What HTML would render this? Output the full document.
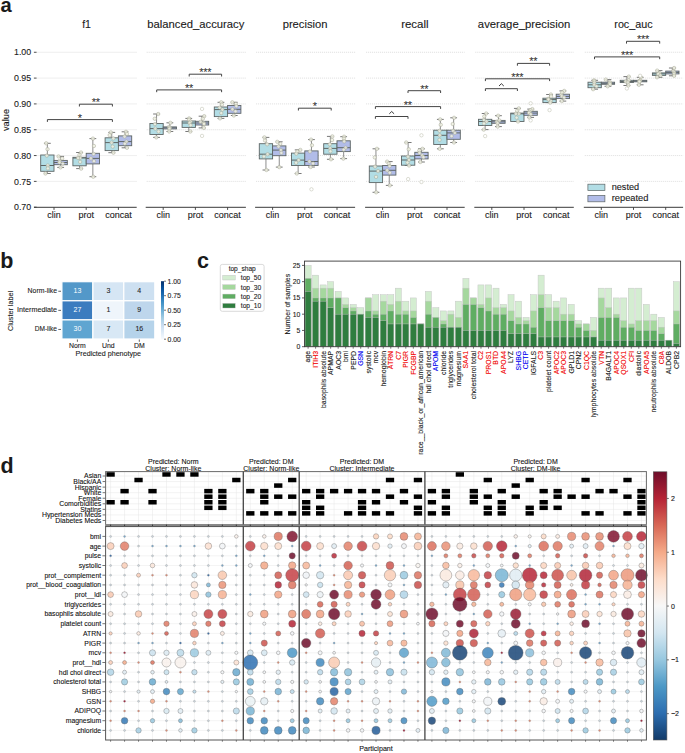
<!DOCTYPE html>
<html><head><meta charset="utf-8"><style>
html,body{margin:0;padding:0;background:#ffffff;overflow:hidden;}
svg{display:block;}
text{font-family:"Liberation Sans",sans-serif;stroke-linejoin:round;}
</style></head><body>
<svg width="685" height="753" viewBox="0 0 685 753">
<rect width="685" height="753" fill="#ffffff"/>
<text x="0.5" y="12" font-size="20.8" text-anchor="start" fill="#1a1a1a" font-weight="bold" textLength="11.2" lengthAdjust="spacingAndGlyphs">a</text>
<line x1="33.9" y1="52.28" x2="36.6" y2="52.28" stroke="#3a3a3a" stroke-width="0.9" />
<text x="31.2" y="55.48" font-size="8.9" text-anchor="end" fill="#1a1a1a" stroke="#1a1a1a" stroke-width="0.1" textLength="17.2" lengthAdjust="spacingAndGlyphs">1.00</text>
<line x1="33.9" y1="78.1" x2="36.6" y2="78.1" stroke="#3a3a3a" stroke-width="0.9" />
<text x="31.2" y="81.3" font-size="8.9" text-anchor="end" fill="#1a1a1a" stroke="#1a1a1a" stroke-width="0.1" textLength="17.2" lengthAdjust="spacingAndGlyphs">0.95</text>
<line x1="33.9" y1="103.92" x2="36.6" y2="103.92" stroke="#3a3a3a" stroke-width="0.9" />
<text x="31.2" y="107.12" font-size="8.9" text-anchor="end" fill="#1a1a1a" stroke="#1a1a1a" stroke-width="0.1" textLength="17.2" lengthAdjust="spacingAndGlyphs">0.90</text>
<line x1="33.9" y1="129.74" x2="36.6" y2="129.74" stroke="#3a3a3a" stroke-width="0.9" />
<text x="31.2" y="132.94" font-size="8.9" text-anchor="end" fill="#1a1a1a" stroke="#1a1a1a" stroke-width="0.1" textLength="17.2" lengthAdjust="spacingAndGlyphs">0.85</text>
<line x1="33.9" y1="155.56" x2="36.6" y2="155.56" stroke="#3a3a3a" stroke-width="0.9" />
<text x="31.2" y="158.76" font-size="8.9" text-anchor="end" fill="#1a1a1a" stroke="#1a1a1a" stroke-width="0.1" textLength="17.2" lengthAdjust="spacingAndGlyphs">0.80</text>
<line x1="33.9" y1="181.38" x2="36.6" y2="181.38" stroke="#3a3a3a" stroke-width="0.9" />
<text x="31.2" y="184.58" font-size="8.9" text-anchor="end" fill="#1a1a1a" stroke="#1a1a1a" stroke-width="0.1" textLength="17.2" lengthAdjust="spacingAndGlyphs">0.75</text>
<line x1="33.9" y1="207.2" x2="36.6" y2="207.2" stroke="#3a3a3a" stroke-width="0.9" />
<text x="31.2" y="210.4" font-size="8.9" text-anchor="end" fill="#1a1a1a" stroke="#1a1a1a" stroke-width="0.1" textLength="17.2" lengthAdjust="spacingAndGlyphs">0.70</text>
<text x="8.5" y="120" font-size="9" text-anchor="middle" fill="#1a1a1a" stroke="#1a1a1a" stroke-width="0.1" transform="rotate(-90 8.5 120)" textLength="22" lengthAdjust="spacingAndGlyphs">value</text>
<line x1="37.5" y1="52.28" x2="136.7" y2="52.28" stroke="#d6d6d6" stroke-width="0.8" stroke-dasharray="1 1"/>
<line x1="37.5" y1="78.1" x2="136.7" y2="78.1" stroke="#d6d6d6" stroke-width="0.8" stroke-dasharray="1 1"/>
<line x1="37.5" y1="103.92" x2="136.7" y2="103.92" stroke="#d6d6d6" stroke-width="0.8" stroke-dasharray="1 1"/>
<line x1="37.5" y1="129.74" x2="136.7" y2="129.74" stroke="#d6d6d6" stroke-width="0.8" stroke-dasharray="1 1"/>
<line x1="37.5" y1="155.56" x2="136.7" y2="155.56" stroke="#d6d6d6" stroke-width="0.8" stroke-dasharray="1 1"/>
<line x1="37.5" y1="181.38" x2="136.7" y2="181.38" stroke="#d6d6d6" stroke-width="0.8" stroke-dasharray="1 1"/>
<text x="86.6" y="28" font-size="10.3" text-anchor="middle" fill="#1a1a1a" stroke="#1a1a1a" stroke-width="0.1" textLength="8.8" lengthAdjust="spacingAndGlyphs">f1</text>
<line x1="34" y1="207.3" x2="136.7" y2="207.3" stroke="#3a3a3a" stroke-width="1" />
<line x1="54" y1="207.3" x2="54" y2="209.9" stroke="#3a3a3a" stroke-width="0.9" />
<text x="54" y="218.3" font-size="9" text-anchor="middle" fill="#1a1a1a" stroke="#1a1a1a" stroke-width="0.1" >clin</text>
<line x1="86.2" y1="207.3" x2="86.2" y2="209.9" stroke="#3a3a3a" stroke-width="0.9" />
<text x="86.2" y="218.3" font-size="9" text-anchor="middle" fill="#1a1a1a" stroke="#1a1a1a" stroke-width="0.1" >prot</text>
<line x1="118.4" y1="207.3" x2="118.4" y2="209.9" stroke="#3a3a3a" stroke-width="0.9" />
<text x="118.4" y="218.3" font-size="9" text-anchor="middle" fill="#1a1a1a" stroke="#1a1a1a" stroke-width="0.1" >concat</text>
<line x1="47.35" y1="143.3" x2="47.35" y2="155" stroke="#707070" stroke-width="0.8" />
<line x1="47.35" y1="171.3" x2="47.35" y2="173.5" stroke="#707070" stroke-width="0.8" />
<line x1="43.95" y1="143.3" x2="50.75" y2="143.3" stroke="#555" stroke-width="0.8" />
<line x1="43.95" y1="173.5" x2="50.75" y2="173.5" stroke="#555" stroke-width="0.8" />
<rect x="40.7" y="155" width="13.3" height="16.3" fill="#b2dde5" stroke="#5d6565" stroke-width="0.9"/>
<line x1="40.7" y1="165.5" x2="54" y2="165.5" stroke="#5d6565" stroke-width="1" />
<circle cx="46.2" cy="143.3" r="1.7" fill="#eef0e2" fill-opacity="0.85" stroke="#a5a795" stroke-width="0.5"/>
<circle cx="47.54" cy="149.15" r="1.7" fill="#eef0e2" fill-opacity="0.85" stroke="#a5a795" stroke-width="0.5"/>
<circle cx="46.78" cy="155.6" r="1.7" fill="#eef0e2" fill-opacity="0.85" stroke="#a5a795" stroke-width="0.5"/>
<circle cx="47.81" cy="165.5" r="1.7" fill="#eef0e2" fill-opacity="0.85" stroke="#a5a795" stroke-width="0.5"/>
<circle cx="47.9" cy="168.4" r="1.7" fill="#eef0e2" fill-opacity="0.85" stroke="#a5a795" stroke-width="0.5"/>
<circle cx="45.44" cy="173.5" r="1.7" fill="#eef0e2" fill-opacity="0.85" stroke="#a5a795" stroke-width="0.5"/>
<line x1="60.65" y1="156.4" x2="60.65" y2="160.4" stroke="#707070" stroke-width="0.8" />
<line x1="60.65" y1="164.7" x2="60.65" y2="167.4" stroke="#707070" stroke-width="0.8" />
<line x1="57.25" y1="156.4" x2="64.05" y2="156.4" stroke="#555" stroke-width="0.8" />
<line x1="57.25" y1="167.4" x2="64.05" y2="167.4" stroke="#555" stroke-width="0.8" />
<rect x="54" y="160.4" width="13.3" height="4.3" fill="#b1bce8" stroke="#5d6565" stroke-width="0.9"/>
<line x1="54" y1="162.5" x2="67.3" y2="162.5" stroke="#5d6565" stroke-width="1" />
<circle cx="58.51" cy="156.4" r="1.7" fill="#eef0e2" fill-opacity="0.85" stroke="#a5a795" stroke-width="0.5"/>
<circle cx="62.13" cy="158.4" r="1.7" fill="#eef0e2" fill-opacity="0.85" stroke="#a5a795" stroke-width="0.5"/>
<circle cx="59.59" cy="161" r="1.7" fill="#eef0e2" fill-opacity="0.85" stroke="#a5a795" stroke-width="0.5"/>
<circle cx="59.48" cy="162.5" r="1.7" fill="#eef0e2" fill-opacity="0.85" stroke="#a5a795" stroke-width="0.5"/>
<circle cx="62.83" cy="163.6" r="1.7" fill="#eef0e2" fill-opacity="0.85" stroke="#a5a795" stroke-width="0.5"/>
<circle cx="60.52" cy="167.4" r="1.7" fill="#eef0e2" fill-opacity="0.85" stroke="#a5a795" stroke-width="0.5"/>
<line x1="79.55" y1="152.5" x2="79.55" y2="157.3" stroke="#707070" stroke-width="0.8" />
<line x1="79.55" y1="165.8" x2="79.55" y2="168.6" stroke="#707070" stroke-width="0.8" />
<line x1="76.15" y1="152.5" x2="82.95" y2="152.5" stroke="#555" stroke-width="0.8" />
<line x1="76.15" y1="168.6" x2="82.95" y2="168.6" stroke="#555" stroke-width="0.8" />
<rect x="72.9" y="157.3" width="13.3" height="8.5" fill="#b2dde5" stroke="#5d6565" stroke-width="0.9"/>
<line x1="72.9" y1="158" x2="86.2" y2="158" stroke="#5d6565" stroke-width="1" />
<circle cx="81.03" cy="152.5" r="1.7" fill="#eef0e2" fill-opacity="0.85" stroke="#a5a795" stroke-width="0.5"/>
<circle cx="79.45" cy="154.9" r="1.7" fill="#eef0e2" fill-opacity="0.85" stroke="#a5a795" stroke-width="0.5"/>
<circle cx="80.16" cy="157.9" r="1.7" fill="#eef0e2" fill-opacity="0.85" stroke="#a5a795" stroke-width="0.5"/>
<circle cx="78.01" cy="158" r="1.7" fill="#eef0e2" fill-opacity="0.85" stroke="#a5a795" stroke-width="0.5"/>
<circle cx="80.14" cy="161.9" r="1.7" fill="#eef0e2" fill-opacity="0.85" stroke="#a5a795" stroke-width="0.5"/>
<circle cx="81.17" cy="168.6" r="1.7" fill="#eef0e2" fill-opacity="0.85" stroke="#a5a795" stroke-width="0.5"/>
<line x1="92.85" y1="138.6" x2="92.85" y2="153.3" stroke="#707070" stroke-width="0.8" />
<line x1="92.85" y1="163.9" x2="92.85" y2="176.7" stroke="#707070" stroke-width="0.8" />
<line x1="89.45" y1="138.6" x2="96.25" y2="138.6" stroke="#555" stroke-width="0.8" />
<line x1="89.45" y1="176.7" x2="96.25" y2="176.7" stroke="#555" stroke-width="0.8" />
<rect x="86.2" y="153.3" width="13.3" height="10.6" fill="#b1bce8" stroke="#5d6565" stroke-width="0.9"/>
<line x1="86.2" y1="158.4" x2="99.5" y2="158.4" stroke="#5d6565" stroke-width="1" />
<circle cx="92.95" cy="138.6" r="1.7" fill="#eef0e2" fill-opacity="0.85" stroke="#a5a795" stroke-width="0.5"/>
<circle cx="93.91" cy="145.95" r="1.7" fill="#eef0e2" fill-opacity="0.85" stroke="#a5a795" stroke-width="0.5"/>
<circle cx="93.6" cy="153.9" r="1.7" fill="#eef0e2" fill-opacity="0.85" stroke="#a5a795" stroke-width="0.5"/>
<circle cx="90.93" cy="158.4" r="1.7" fill="#eef0e2" fill-opacity="0.85" stroke="#a5a795" stroke-width="0.5"/>
<circle cx="93.99" cy="161.15" r="1.7" fill="#eef0e2" fill-opacity="0.85" stroke="#a5a795" stroke-width="0.5"/>
<circle cx="93.25" cy="176.7" r="1.7" fill="#eef0e2" fill-opacity="0.85" stroke="#a5a795" stroke-width="0.5"/>
<line x1="111.75" y1="132.4" x2="111.75" y2="137.8" stroke="#707070" stroke-width="0.8" />
<line x1="111.75" y1="150.6" x2="111.75" y2="152.7" stroke="#707070" stroke-width="0.8" />
<line x1="108.35" y1="132.4" x2="115.15" y2="132.4" stroke="#555" stroke-width="0.8" />
<line x1="108.35" y1="152.7" x2="115.15" y2="152.7" stroke="#555" stroke-width="0.8" />
<rect x="105.1" y="137.8" width="13.3" height="12.8" fill="#b2dde5" stroke="#5d6565" stroke-width="0.9"/>
<line x1="105.1" y1="142.6" x2="118.4" y2="142.6" stroke="#5d6565" stroke-width="1" />
<circle cx="110.88" cy="132.4" r="1.7" fill="#eef0e2" fill-opacity="0.85" stroke="#a5a795" stroke-width="0.5"/>
<circle cx="109.69" cy="135.1" r="1.7" fill="#eef0e2" fill-opacity="0.85" stroke="#a5a795" stroke-width="0.5"/>
<circle cx="113.36" cy="138.4" r="1.7" fill="#eef0e2" fill-opacity="0.85" stroke="#a5a795" stroke-width="0.5"/>
<circle cx="111.63" cy="142.6" r="1.7" fill="#eef0e2" fill-opacity="0.85" stroke="#a5a795" stroke-width="0.5"/>
<circle cx="112.71" cy="146.6" r="1.7" fill="#eef0e2" fill-opacity="0.85" stroke="#a5a795" stroke-width="0.5"/>
<circle cx="113.42" cy="152.7" r="1.7" fill="#eef0e2" fill-opacity="0.85" stroke="#a5a795" stroke-width="0.5"/>
<line x1="125.05" y1="131.8" x2="125.05" y2="135.9" stroke="#707070" stroke-width="0.8" />
<line x1="125.05" y1="145.7" x2="125.05" y2="147.8" stroke="#707070" stroke-width="0.8" />
<line x1="121.65" y1="131.8" x2="128.45" y2="131.8" stroke="#555" stroke-width="0.8" />
<line x1="121.65" y1="147.8" x2="128.45" y2="147.8" stroke="#555" stroke-width="0.8" />
<rect x="118.4" y="135.9" width="13.3" height="9.8" fill="#b1bce8" stroke="#5d6565" stroke-width="0.9"/>
<line x1="118.4" y1="141.6" x2="131.7" y2="141.6" stroke="#5d6565" stroke-width="1" />
<circle cx="125.99" cy="131.8" r="1.7" fill="#eef0e2" fill-opacity="0.85" stroke="#a5a795" stroke-width="0.5"/>
<circle cx="126.9" cy="133.85" r="1.7" fill="#eef0e2" fill-opacity="0.85" stroke="#a5a795" stroke-width="0.5"/>
<circle cx="124.59" cy="136.5" r="1.7" fill="#eef0e2" fill-opacity="0.85" stroke="#a5a795" stroke-width="0.5"/>
<circle cx="126.37" cy="141.6" r="1.7" fill="#eef0e2" fill-opacity="0.85" stroke="#a5a795" stroke-width="0.5"/>
<circle cx="124.81" cy="143.65" r="1.7" fill="#eef0e2" fill-opacity="0.85" stroke="#a5a795" stroke-width="0.5"/>
<circle cx="126.97" cy="147.8" r="1.7" fill="#eef0e2" fill-opacity="0.85" stroke="#a5a795" stroke-width="0.5"/>
<path d="M79.4 106.5V104.2H112.4V106.5" fill="none" stroke="#444" stroke-width="1"/>
<text x="95.75" y="106.1" font-size="11" letter-spacing="-0.3" text-anchor="middle" fill="#2a2a2a">**</text>
<path d="M47.4 121.9V119.6H112.4V121.9" fill="none" stroke="#444" stroke-width="1"/>
<text x="79.75" y="121.5" font-size="11" letter-spacing="-0.3" text-anchor="middle" fill="#2a2a2a">*</text>
<line x1="146.7" y1="52.28" x2="245.9" y2="52.28" stroke="#d6d6d6" stroke-width="0.8" stroke-dasharray="1 1"/>
<line x1="146.7" y1="78.1" x2="245.9" y2="78.1" stroke="#d6d6d6" stroke-width="0.8" stroke-dasharray="1 1"/>
<line x1="146.7" y1="103.92" x2="245.9" y2="103.92" stroke="#d6d6d6" stroke-width="0.8" stroke-dasharray="1 1"/>
<line x1="146.7" y1="129.74" x2="245.9" y2="129.74" stroke="#d6d6d6" stroke-width="0.8" stroke-dasharray="1 1"/>
<line x1="146.7" y1="155.56" x2="245.9" y2="155.56" stroke="#d6d6d6" stroke-width="0.8" stroke-dasharray="1 1"/>
<line x1="146.7" y1="181.38" x2="245.9" y2="181.38" stroke="#d6d6d6" stroke-width="0.8" stroke-dasharray="1 1"/>
<text x="195.8" y="28" font-size="10.3" text-anchor="middle" fill="#1a1a1a" stroke="#1a1a1a" stroke-width="0.1" textLength="97.0" lengthAdjust="spacingAndGlyphs">balanced_accuracy</text>
<line x1="145.7" y1="207.3" x2="245.9" y2="207.3" stroke="#3a3a3a" stroke-width="1" />
<line x1="163.2" y1="207.3" x2="163.2" y2="209.9" stroke="#3a3a3a" stroke-width="0.9" />
<text x="163.2" y="218.3" font-size="9" text-anchor="middle" fill="#1a1a1a" stroke="#1a1a1a" stroke-width="0.1" >clin</text>
<line x1="195.4" y1="207.3" x2="195.4" y2="209.9" stroke="#3a3a3a" stroke-width="0.9" />
<text x="195.4" y="218.3" font-size="9" text-anchor="middle" fill="#1a1a1a" stroke="#1a1a1a" stroke-width="0.1" >prot</text>
<line x1="227.6" y1="207.3" x2="227.6" y2="209.9" stroke="#3a3a3a" stroke-width="0.9" />
<text x="227.6" y="218.3" font-size="9" text-anchor="middle" fill="#1a1a1a" stroke="#1a1a1a" stroke-width="0.1" >concat</text>
<line x1="156.55" y1="114" x2="156.55" y2="123.5" stroke="#707070" stroke-width="0.8" />
<line x1="156.55" y1="134.5" x2="156.55" y2="137.4" stroke="#707070" stroke-width="0.8" />
<line x1="153.15" y1="114" x2="159.95" y2="114" stroke="#555" stroke-width="0.8" />
<line x1="153.15" y1="137.4" x2="159.95" y2="137.4" stroke="#555" stroke-width="0.8" />
<rect x="149.9" y="123.5" width="13.3" height="11" fill="#b2dde5" stroke="#5d6565" stroke-width="0.9"/>
<line x1="149.9" y1="128.6" x2="163.2" y2="128.6" stroke="#5d6565" stroke-width="1" />
<circle cx="158.22" cy="114" r="1.7" fill="#eef0e2" fill-opacity="0.85" stroke="#a5a795" stroke-width="0.5"/>
<circle cx="154.78" cy="118.75" r="1.7" fill="#eef0e2" fill-opacity="0.85" stroke="#a5a795" stroke-width="0.5"/>
<circle cx="154.95" cy="124.1" r="1.7" fill="#eef0e2" fill-opacity="0.85" stroke="#a5a795" stroke-width="0.5"/>
<circle cx="155.3" cy="128.6" r="1.7" fill="#eef0e2" fill-opacity="0.85" stroke="#a5a795" stroke-width="0.5"/>
<circle cx="158.6" cy="131.55" r="1.7" fill="#eef0e2" fill-opacity="0.85" stroke="#a5a795" stroke-width="0.5"/>
<circle cx="156.27" cy="137.4" r="1.7" fill="#eef0e2" fill-opacity="0.85" stroke="#a5a795" stroke-width="0.5"/>
<line x1="169.85" y1="122.8" x2="169.85" y2="126.9" stroke="#707070" stroke-width="0.8" />
<line x1="169.85" y1="128.9" x2="169.85" y2="131.5" stroke="#707070" stroke-width="0.8" />
<line x1="166.45" y1="122.8" x2="173.25" y2="122.8" stroke="#555" stroke-width="0.8" />
<line x1="166.45" y1="131.5" x2="173.25" y2="131.5" stroke="#555" stroke-width="0.8" />
<rect x="163.2" y="126.9" width="13.3" height="2" fill="#b1bce8" stroke="#5d6565" stroke-width="0.9"/>
<line x1="163.2" y1="127.8" x2="176.5" y2="127.8" stroke="#5d6565" stroke-width="1" />
<circle cx="170.41" cy="122.8" r="1.7" fill="#eef0e2" fill-opacity="0.85" stroke="#a5a795" stroke-width="0.5"/>
<circle cx="168.97" cy="126.9" r="1.7" fill="#eef0e2" fill-opacity="0.85" stroke="#a5a795" stroke-width="0.5"/>
<circle cx="169.88" cy="127.8" r="1.7" fill="#eef0e2" fill-opacity="0.85" stroke="#a5a795" stroke-width="0.5"/>
<circle cx="169.35" cy="128.9" r="1.7" fill="#eef0e2" fill-opacity="0.85" stroke="#a5a795" stroke-width="0.5"/>
<circle cx="169.19" cy="131.5" r="1.7" fill="#eef0e2" fill-opacity="0.85" stroke="#a5a795" stroke-width="0.5"/>
<line x1="188.75" y1="118.4" x2="188.75" y2="121" stroke="#707070" stroke-width="0.8" />
<line x1="188.75" y1="127.4" x2="188.75" y2="131.5" stroke="#707070" stroke-width="0.8" />
<line x1="185.35" y1="118.4" x2="192.15" y2="118.4" stroke="#555" stroke-width="0.8" />
<line x1="185.35" y1="131.5" x2="192.15" y2="131.5" stroke="#555" stroke-width="0.8" />
<rect x="182.1" y="121" width="13.3" height="6.4" fill="#b2dde5" stroke="#5d6565" stroke-width="0.9"/>
<line x1="182.1" y1="123" x2="195.4" y2="123" stroke="#5d6565" stroke-width="1" />
<circle cx="189.12" cy="118.4" r="1.7" fill="#eef0e2" fill-opacity="0.85" stroke="#a5a795" stroke-width="0.5"/>
<circle cx="189.12" cy="119.7" r="1.7" fill="#eef0e2" fill-opacity="0.85" stroke="#a5a795" stroke-width="0.5"/>
<circle cx="190.53" cy="121.6" r="1.7" fill="#eef0e2" fill-opacity="0.85" stroke="#a5a795" stroke-width="0.5"/>
<circle cx="189.55" cy="123" r="1.7" fill="#eef0e2" fill-opacity="0.85" stroke="#a5a795" stroke-width="0.5"/>
<circle cx="190.64" cy="125.2" r="1.7" fill="#eef0e2" fill-opacity="0.85" stroke="#a5a795" stroke-width="0.5"/>
<circle cx="190.32" cy="131.5" r="1.7" fill="#eef0e2" fill-opacity="0.85" stroke="#a5a795" stroke-width="0.5"/>
<line x1="202.05" y1="116.2" x2="202.05" y2="121.3" stroke="#707070" stroke-width="0.8" />
<line x1="202.05" y1="125" x2="202.05" y2="127.9" stroke="#707070" stroke-width="0.8" />
<line x1="198.65" y1="116.2" x2="205.45" y2="116.2" stroke="#555" stroke-width="0.8" />
<line x1="198.65" y1="127.9" x2="205.45" y2="127.9" stroke="#555" stroke-width="0.8" />
<rect x="195.4" y="121.3" width="13.3" height="3.7" fill="#b1bce8" stroke="#5d6565" stroke-width="0.9"/>
<line x1="195.4" y1="123" x2="208.7" y2="123" stroke="#5d6565" stroke-width="1" />
<circle cx="204.21" cy="116.2" r="1.7" fill="#eef0e2" fill-opacity="0.85" stroke="#a5a795" stroke-width="0.5"/>
<circle cx="202.8" cy="118.75" r="1.7" fill="#eef0e2" fill-opacity="0.85" stroke="#a5a795" stroke-width="0.5"/>
<circle cx="200.57" cy="121.9" r="1.7" fill="#eef0e2" fill-opacity="0.85" stroke="#a5a795" stroke-width="0.5"/>
<circle cx="203.64" cy="123" r="1.7" fill="#eef0e2" fill-opacity="0.85" stroke="#a5a795" stroke-width="0.5"/>
<circle cx="204.09" cy="124" r="1.7" fill="#eef0e2" fill-opacity="0.85" stroke="#a5a795" stroke-width="0.5"/>
<circle cx="203.83" cy="127.9" r="1.7" fill="#eef0e2" fill-opacity="0.85" stroke="#a5a795" stroke-width="0.5"/>
<circle cx="202.05" cy="108.9" r="1.7" fill="#ffffff" stroke="#b8baa8" stroke-width="0.5"/>
<circle cx="202.05" cy="135.9" r="1.7" fill="#ffffff" stroke="#b8baa8" stroke-width="0.5"/>
<line x1="220.95" y1="102.3" x2="220.95" y2="107" stroke="#707070" stroke-width="0.8" />
<line x1="220.95" y1="116.6" x2="220.95" y2="118.4" stroke="#707070" stroke-width="0.8" />
<line x1="217.55" y1="102.3" x2="224.35" y2="102.3" stroke="#555" stroke-width="0.8" />
<line x1="217.55" y1="118.4" x2="224.35" y2="118.4" stroke="#555" stroke-width="0.8" />
<rect x="214.3" y="107" width="13.3" height="9.6" fill="#b2dde5" stroke="#5d6565" stroke-width="0.9"/>
<line x1="214.3" y1="109.6" x2="227.6" y2="109.6" stroke="#5d6565" stroke-width="1" />
<circle cx="221.25" cy="102.3" r="1.7" fill="#eef0e2" fill-opacity="0.85" stroke="#a5a795" stroke-width="0.5"/>
<circle cx="221.89" cy="104.65" r="1.7" fill="#eef0e2" fill-opacity="0.85" stroke="#a5a795" stroke-width="0.5"/>
<circle cx="219.68" cy="107.6" r="1.7" fill="#eef0e2" fill-opacity="0.85" stroke="#a5a795" stroke-width="0.5"/>
<circle cx="222.41" cy="109.6" r="1.7" fill="#eef0e2" fill-opacity="0.85" stroke="#a5a795" stroke-width="0.5"/>
<circle cx="221.27" cy="113.1" r="1.7" fill="#eef0e2" fill-opacity="0.85" stroke="#a5a795" stroke-width="0.5"/>
<circle cx="220" cy="118.4" r="1.7" fill="#eef0e2" fill-opacity="0.85" stroke="#a5a795" stroke-width="0.5"/>
<line x1="234.25" y1="102.3" x2="234.25" y2="105.5" stroke="#707070" stroke-width="0.8" />
<line x1="234.25" y1="113.3" x2="234.25" y2="115.5" stroke="#707070" stroke-width="0.8" />
<line x1="230.85" y1="102.3" x2="237.65" y2="102.3" stroke="#555" stroke-width="0.8" />
<line x1="230.85" y1="115.5" x2="237.65" y2="115.5" stroke="#555" stroke-width="0.8" />
<rect x="227.6" y="105.5" width="13.3" height="7.8" fill="#b1bce8" stroke="#5d6565" stroke-width="0.9"/>
<line x1="227.6" y1="109.3" x2="240.9" y2="109.3" stroke="#5d6565" stroke-width="1" />
<circle cx="232.33" cy="102.3" r="1.7" fill="#eef0e2" fill-opacity="0.85" stroke="#a5a795" stroke-width="0.5"/>
<circle cx="235.81" cy="103.9" r="1.7" fill="#eef0e2" fill-opacity="0.85" stroke="#a5a795" stroke-width="0.5"/>
<circle cx="236.41" cy="106.1" r="1.7" fill="#eef0e2" fill-opacity="0.85" stroke="#a5a795" stroke-width="0.5"/>
<circle cx="232.44" cy="109.3" r="1.7" fill="#eef0e2" fill-opacity="0.85" stroke="#a5a795" stroke-width="0.5"/>
<circle cx="235.57" cy="111.3" r="1.7" fill="#eef0e2" fill-opacity="0.85" stroke="#a5a795" stroke-width="0.5"/>
<circle cx="233.86" cy="115.5" r="1.7" fill="#eef0e2" fill-opacity="0.85" stroke="#a5a795" stroke-width="0.5"/>
<path d="M189.2 76.5V74.2H221.6V76.5" fill="none" stroke="#444" stroke-width="1"/>
<text x="205.25" y="76.1" font-size="11" letter-spacing="-0.3" text-anchor="middle" fill="#2a2a2a">***</text>
<path d="M156.7 92.2V89.9H221.6V92.2" fill="none" stroke="#444" stroke-width="1"/>
<text x="189" y="91.8" font-size="11" letter-spacing="-0.3" text-anchor="middle" fill="#2a2a2a">**</text>
<line x1="256.1" y1="52.28" x2="355.1" y2="52.28" stroke="#d6d6d6" stroke-width="0.8" stroke-dasharray="1 1"/>
<line x1="256.1" y1="78.1" x2="355.1" y2="78.1" stroke="#d6d6d6" stroke-width="0.8" stroke-dasharray="1 1"/>
<line x1="256.1" y1="103.92" x2="355.1" y2="103.92" stroke="#d6d6d6" stroke-width="0.8" stroke-dasharray="1 1"/>
<line x1="256.1" y1="129.74" x2="355.1" y2="129.74" stroke="#d6d6d6" stroke-width="0.8" stroke-dasharray="1 1"/>
<line x1="256.1" y1="155.56" x2="355.1" y2="155.56" stroke="#d6d6d6" stroke-width="0.8" stroke-dasharray="1 1"/>
<line x1="256.1" y1="181.38" x2="355.1" y2="181.38" stroke="#d6d6d6" stroke-width="0.8" stroke-dasharray="1 1"/>
<text x="305.1" y="28" font-size="10.3" text-anchor="middle" fill="#1a1a1a" stroke="#1a1a1a" stroke-width="0.1" textLength="44.9" lengthAdjust="spacingAndGlyphs">precision</text>
<line x1="255.1" y1="207.3" x2="355.1" y2="207.3" stroke="#3a3a3a" stroke-width="1" />
<line x1="272.6" y1="207.3" x2="272.6" y2="209.9" stroke="#3a3a3a" stroke-width="0.9" />
<text x="272.6" y="218.3" font-size="9" text-anchor="middle" fill="#1a1a1a" stroke="#1a1a1a" stroke-width="0.1" >clin</text>
<line x1="304.8" y1="207.3" x2="304.8" y2="209.9" stroke="#3a3a3a" stroke-width="0.9" />
<text x="304.8" y="218.3" font-size="9" text-anchor="middle" fill="#1a1a1a" stroke="#1a1a1a" stroke-width="0.1" >prot</text>
<line x1="337" y1="207.3" x2="337" y2="209.9" stroke="#3a3a3a" stroke-width="0.9" />
<text x="337" y="218.3" font-size="9" text-anchor="middle" fill="#1a1a1a" stroke="#1a1a1a" stroke-width="0.1" >concat</text>
<line x1="265.95" y1="137.4" x2="265.95" y2="143.7" stroke="#707070" stroke-width="0.8" />
<line x1="265.95" y1="158.9" x2="265.95" y2="170" stroke="#707070" stroke-width="0.8" />
<line x1="262.55" y1="137.4" x2="269.35" y2="137.4" stroke="#555" stroke-width="0.8" />
<line x1="262.55" y1="170" x2="269.35" y2="170" stroke="#555" stroke-width="0.8" />
<rect x="259.3" y="143.7" width="13.3" height="15.2" fill="#b2dde5" stroke="#5d6565" stroke-width="0.9"/>
<line x1="259.3" y1="154.2" x2="272.6" y2="154.2" stroke="#5d6565" stroke-width="1" />
<circle cx="264.41" cy="137.4" r="1.7" fill="#eef0e2" fill-opacity="0.85" stroke="#a5a795" stroke-width="0.5"/>
<circle cx="265.04" cy="140.55" r="1.7" fill="#eef0e2" fill-opacity="0.85" stroke="#a5a795" stroke-width="0.5"/>
<circle cx="267.13" cy="144.3" r="1.7" fill="#eef0e2" fill-opacity="0.85" stroke="#a5a795" stroke-width="0.5"/>
<circle cx="267.59" cy="154.2" r="1.7" fill="#eef0e2" fill-opacity="0.85" stroke="#a5a795" stroke-width="0.5"/>
<circle cx="263.94" cy="156.55" r="1.7" fill="#eef0e2" fill-opacity="0.85" stroke="#a5a795" stroke-width="0.5"/>
<circle cx="266.45" cy="170" r="1.7" fill="#eef0e2" fill-opacity="0.85" stroke="#a5a795" stroke-width="0.5"/>
<line x1="279.25" y1="141.8" x2="279.25" y2="145.9" stroke="#707070" stroke-width="0.8" />
<line x1="279.25" y1="155.7" x2="279.25" y2="167.1" stroke="#707070" stroke-width="0.8" />
<line x1="275.85" y1="141.8" x2="282.65" y2="141.8" stroke="#555" stroke-width="0.8" />
<line x1="275.85" y1="167.1" x2="282.65" y2="167.1" stroke="#555" stroke-width="0.8" />
<rect x="272.6" y="145.9" width="13.3" height="9.8" fill="#b1bce8" stroke="#5d6565" stroke-width="0.9"/>
<line x1="272.6" y1="150.1" x2="285.9" y2="150.1" stroke="#5d6565" stroke-width="1" />
<circle cx="277.25" cy="141.8" r="1.7" fill="#eef0e2" fill-opacity="0.85" stroke="#a5a795" stroke-width="0.5"/>
<circle cx="280.21" cy="143.85" r="1.7" fill="#eef0e2" fill-opacity="0.85" stroke="#a5a795" stroke-width="0.5"/>
<circle cx="278.51" cy="146.5" r="1.7" fill="#eef0e2" fill-opacity="0.85" stroke="#a5a795" stroke-width="0.5"/>
<circle cx="280.93" cy="150.1" r="1.7" fill="#eef0e2" fill-opacity="0.85" stroke="#a5a795" stroke-width="0.5"/>
<circle cx="281.36" cy="152.9" r="1.7" fill="#eef0e2" fill-opacity="0.85" stroke="#a5a795" stroke-width="0.5"/>
<circle cx="279.27" cy="167.1" r="1.7" fill="#eef0e2" fill-opacity="0.85" stroke="#a5a795" stroke-width="0.5"/>
<line x1="298.15" y1="149.9" x2="298.15" y2="153.1" stroke="#707070" stroke-width="0.8" />
<line x1="298.15" y1="165.5" x2="298.15" y2="173.5" stroke="#707070" stroke-width="0.8" />
<line x1="294.75" y1="149.9" x2="301.55" y2="149.9" stroke="#555" stroke-width="0.8" />
<line x1="294.75" y1="173.5" x2="301.55" y2="173.5" stroke="#555" stroke-width="0.8" />
<rect x="291.5" y="153.1" width="13.3" height="12.4" fill="#b2dde5" stroke="#5d6565" stroke-width="0.9"/>
<line x1="291.5" y1="160.1" x2="304.8" y2="160.1" stroke="#5d6565" stroke-width="1" />
<circle cx="300.34" cy="149.9" r="1.7" fill="#eef0e2" fill-opacity="0.85" stroke="#a5a795" stroke-width="0.5"/>
<circle cx="297.31" cy="151.5" r="1.7" fill="#eef0e2" fill-opacity="0.85" stroke="#a5a795" stroke-width="0.5"/>
<circle cx="296.29" cy="153.7" r="1.7" fill="#eef0e2" fill-opacity="0.85" stroke="#a5a795" stroke-width="0.5"/>
<circle cx="298.59" cy="160.1" r="1.7" fill="#eef0e2" fill-opacity="0.85" stroke="#a5a795" stroke-width="0.5"/>
<circle cx="296.09" cy="162.8" r="1.7" fill="#eef0e2" fill-opacity="0.85" stroke="#a5a795" stroke-width="0.5"/>
<circle cx="296.82" cy="173.5" r="1.7" fill="#eef0e2" fill-opacity="0.85" stroke="#a5a795" stroke-width="0.5"/>
<line x1="311.45" y1="139.6" x2="311.45" y2="150.9" stroke="#707070" stroke-width="0.8" />
<line x1="311.45" y1="165.5" x2="311.45" y2="167" stroke="#707070" stroke-width="0.8" />
<line x1="308.05" y1="139.6" x2="314.85" y2="139.6" stroke="#555" stroke-width="0.8" />
<line x1="308.05" y1="167" x2="314.85" y2="167" stroke="#555" stroke-width="0.8" />
<rect x="304.8" y="150.9" width="13.3" height="14.6" fill="#b1bce8" stroke="#5d6565" stroke-width="0.9"/>
<line x1="304.8" y1="161.5" x2="318.1" y2="161.5" stroke="#5d6565" stroke-width="1" />
<circle cx="311.04" cy="139.6" r="1.7" fill="#eef0e2" fill-opacity="0.85" stroke="#a5a795" stroke-width="0.5"/>
<circle cx="311.94" cy="145.25" r="1.7" fill="#eef0e2" fill-opacity="0.85" stroke="#a5a795" stroke-width="0.5"/>
<circle cx="309.94" cy="151.5" r="1.7" fill="#eef0e2" fill-opacity="0.85" stroke="#a5a795" stroke-width="0.5"/>
<circle cx="309.44" cy="161.5" r="1.7" fill="#eef0e2" fill-opacity="0.85" stroke="#a5a795" stroke-width="0.5"/>
<circle cx="313.07" cy="163.5" r="1.7" fill="#eef0e2" fill-opacity="0.85" stroke="#a5a795" stroke-width="0.5"/>
<circle cx="310.63" cy="167" r="1.7" fill="#eef0e2" fill-opacity="0.85" stroke="#a5a795" stroke-width="0.5"/>
<circle cx="311.45" cy="189.3" r="1.7" fill="#ffffff" stroke="#b8baa8" stroke-width="0.5"/>
<line x1="330.35" y1="136.4" x2="330.35" y2="143.7" stroke="#707070" stroke-width="0.8" />
<line x1="330.35" y1="154.2" x2="330.35" y2="159.3" stroke="#707070" stroke-width="0.8" />
<line x1="326.95" y1="136.4" x2="333.75" y2="136.4" stroke="#555" stroke-width="0.8" />
<line x1="326.95" y1="159.3" x2="333.75" y2="159.3" stroke="#555" stroke-width="0.8" />
<rect x="323.7" y="143.7" width="13.3" height="10.5" fill="#b2dde5" stroke="#5d6565" stroke-width="0.9"/>
<line x1="323.7" y1="148.4" x2="337" y2="148.4" stroke="#5d6565" stroke-width="1" />
<circle cx="332.37" cy="136.4" r="1.7" fill="#eef0e2" fill-opacity="0.85" stroke="#a5a795" stroke-width="0.5"/>
<circle cx="332.1" cy="140.05" r="1.7" fill="#eef0e2" fill-opacity="0.85" stroke="#a5a795" stroke-width="0.5"/>
<circle cx="329.81" cy="144.3" r="1.7" fill="#eef0e2" fill-opacity="0.85" stroke="#a5a795" stroke-width="0.5"/>
<circle cx="330.18" cy="148.4" r="1.7" fill="#eef0e2" fill-opacity="0.85" stroke="#a5a795" stroke-width="0.5"/>
<circle cx="330.44" cy="151.3" r="1.7" fill="#eef0e2" fill-opacity="0.85" stroke="#a5a795" stroke-width="0.5"/>
<circle cx="330.98" cy="159.3" r="1.7" fill="#eef0e2" fill-opacity="0.85" stroke="#a5a795" stroke-width="0.5"/>
<line x1="343.65" y1="136.7" x2="343.65" y2="140.8" stroke="#707070" stroke-width="0.8" />
<line x1="343.65" y1="151.6" x2="343.65" y2="158.6" stroke="#707070" stroke-width="0.8" />
<line x1="340.25" y1="136.7" x2="347.05" y2="136.7" stroke="#555" stroke-width="0.8" />
<line x1="340.25" y1="158.6" x2="347.05" y2="158.6" stroke="#555" stroke-width="0.8" />
<rect x="337" y="140.8" width="13.3" height="10.8" fill="#b1bce8" stroke="#5d6565" stroke-width="0.9"/>
<line x1="337" y1="147.7" x2="350.3" y2="147.7" stroke="#5d6565" stroke-width="1" />
<circle cx="344.07" cy="136.7" r="1.7" fill="#eef0e2" fill-opacity="0.85" stroke="#a5a795" stroke-width="0.5"/>
<circle cx="343.91" cy="138.75" r="1.7" fill="#eef0e2" fill-opacity="0.85" stroke="#a5a795" stroke-width="0.5"/>
<circle cx="344.18" cy="141.4" r="1.7" fill="#eef0e2" fill-opacity="0.85" stroke="#a5a795" stroke-width="0.5"/>
<circle cx="345.59" cy="147.7" r="1.7" fill="#eef0e2" fill-opacity="0.85" stroke="#a5a795" stroke-width="0.5"/>
<circle cx="343.68" cy="149.65" r="1.7" fill="#eef0e2" fill-opacity="0.85" stroke="#a5a795" stroke-width="0.5"/>
<circle cx="343.35" cy="158.6" r="1.7" fill="#eef0e2" fill-opacity="0.85" stroke="#a5a795" stroke-width="0.5"/>
<path d="M298.4 110.5V108.2H331.2V110.5" fill="none" stroke="#444" stroke-width="1"/>
<text x="314.65" y="110.1" font-size="11" letter-spacing="-0.3" text-anchor="middle" fill="#2a2a2a">*</text>
<line x1="366.1" y1="52.28" x2="464.7" y2="52.28" stroke="#d6d6d6" stroke-width="0.8" stroke-dasharray="1 1"/>
<line x1="366.1" y1="78.1" x2="464.7" y2="78.1" stroke="#d6d6d6" stroke-width="0.8" stroke-dasharray="1 1"/>
<line x1="366.1" y1="103.92" x2="464.7" y2="103.92" stroke="#d6d6d6" stroke-width="0.8" stroke-dasharray="1 1"/>
<line x1="366.1" y1="129.74" x2="464.7" y2="129.74" stroke="#d6d6d6" stroke-width="0.8" stroke-dasharray="1 1"/>
<line x1="366.1" y1="155.56" x2="464.7" y2="155.56" stroke="#d6d6d6" stroke-width="0.8" stroke-dasharray="1 1"/>
<line x1="366.1" y1="181.38" x2="464.7" y2="181.38" stroke="#d6d6d6" stroke-width="0.8" stroke-dasharray="1 1"/>
<text x="414.9" y="28" font-size="10.3" text-anchor="middle" fill="#1a1a1a" stroke="#1a1a1a" stroke-width="0.1" textLength="27.5" lengthAdjust="spacingAndGlyphs">recall</text>
<line x1="365.1" y1="207.3" x2="464.7" y2="207.3" stroke="#3a3a3a" stroke-width="1" />
<line x1="382.6" y1="207.3" x2="382.6" y2="209.9" stroke="#3a3a3a" stroke-width="0.9" />
<text x="382.6" y="218.3" font-size="9" text-anchor="middle" fill="#1a1a1a" stroke="#1a1a1a" stroke-width="0.1" >clin</text>
<line x1="414.8" y1="207.3" x2="414.8" y2="209.9" stroke="#3a3a3a" stroke-width="0.9" />
<text x="414.8" y="218.3" font-size="9" text-anchor="middle" fill="#1a1a1a" stroke="#1a1a1a" stroke-width="0.1" >prot</text>
<line x1="447" y1="207.3" x2="447" y2="209.9" stroke="#3a3a3a" stroke-width="0.9" />
<text x="447" y="218.3" font-size="9" text-anchor="middle" fill="#1a1a1a" stroke="#1a1a1a" stroke-width="0.1" >concat</text>
<line x1="375.95" y1="148.8" x2="375.95" y2="166" stroke="#707070" stroke-width="0.8" />
<line x1="375.95" y1="182.6" x2="375.95" y2="192.3" stroke="#707070" stroke-width="0.8" />
<line x1="372.55" y1="148.8" x2="379.35" y2="148.8" stroke="#555" stroke-width="0.8" />
<line x1="372.55" y1="192.3" x2="379.35" y2="192.3" stroke="#555" stroke-width="0.8" />
<rect x="369.3" y="166" width="13.3" height="16.6" fill="#b2dde5" stroke="#5d6565" stroke-width="0.9"/>
<line x1="369.3" y1="171.1" x2="382.6" y2="171.1" stroke="#5d6565" stroke-width="1" />
<circle cx="376.92" cy="148.8" r="1.7" fill="#eef0e2" fill-opacity="0.85" stroke="#a5a795" stroke-width="0.5"/>
<circle cx="374.8" cy="157.4" r="1.7" fill="#eef0e2" fill-opacity="0.85" stroke="#a5a795" stroke-width="0.5"/>
<circle cx="375.07" cy="166.6" r="1.7" fill="#eef0e2" fill-opacity="0.85" stroke="#a5a795" stroke-width="0.5"/>
<circle cx="378.05" cy="171.1" r="1.7" fill="#eef0e2" fill-opacity="0.85" stroke="#a5a795" stroke-width="0.5"/>
<circle cx="376.04" cy="176.85" r="1.7" fill="#eef0e2" fill-opacity="0.85" stroke="#a5a795" stroke-width="0.5"/>
<circle cx="376.16" cy="192.3" r="1.7" fill="#eef0e2" fill-opacity="0.85" stroke="#a5a795" stroke-width="0.5"/>
<line x1="389.25" y1="161.6" x2="389.25" y2="165.5" stroke="#707070" stroke-width="0.8" />
<line x1="389.25" y1="175.1" x2="389.25" y2="185.4" stroke="#707070" stroke-width="0.8" />
<line x1="385.85" y1="161.6" x2="392.65" y2="161.6" stroke="#555" stroke-width="0.8" />
<line x1="385.85" y1="185.4" x2="392.65" y2="185.4" stroke="#555" stroke-width="0.8" />
<rect x="382.6" y="165.5" width="13.3" height="9.6" fill="#b1bce8" stroke="#5d6565" stroke-width="0.9"/>
<line x1="382.6" y1="170.3" x2="395.9" y2="170.3" stroke="#5d6565" stroke-width="1" />
<circle cx="387.1" cy="161.6" r="1.7" fill="#eef0e2" fill-opacity="0.85" stroke="#a5a795" stroke-width="0.5"/>
<circle cx="388.88" cy="163.55" r="1.7" fill="#eef0e2" fill-opacity="0.85" stroke="#a5a795" stroke-width="0.5"/>
<circle cx="389.6" cy="166.1" r="1.7" fill="#eef0e2" fill-opacity="0.85" stroke="#a5a795" stroke-width="0.5"/>
<circle cx="387.14" cy="170.3" r="1.7" fill="#eef0e2" fill-opacity="0.85" stroke="#a5a795" stroke-width="0.5"/>
<circle cx="389.76" cy="172.7" r="1.7" fill="#eef0e2" fill-opacity="0.85" stroke="#a5a795" stroke-width="0.5"/>
<circle cx="389.83" cy="185.4" r="1.7" fill="#eef0e2" fill-opacity="0.85" stroke="#a5a795" stroke-width="0.5"/>
<line x1="408.15" y1="142.5" x2="408.15" y2="156" stroke="#707070" stroke-width="0.8" />
<line x1="408.15" y1="165.2" x2="408.15" y2="165.5" stroke="#707070" stroke-width="0.8" />
<line x1="404.75" y1="142.5" x2="411.55" y2="142.5" stroke="#555" stroke-width="0.8" />
<line x1="404.75" y1="165.5" x2="411.55" y2="165.5" stroke="#555" stroke-width="0.8" />
<rect x="401.5" y="156" width="13.3" height="9.2" fill="#b2dde5" stroke="#5d6565" stroke-width="0.9"/>
<line x1="401.5" y1="160" x2="414.8" y2="160" stroke="#5d6565" stroke-width="1" />
<circle cx="406.21" cy="142.5" r="1.7" fill="#eef0e2" fill-opacity="0.85" stroke="#a5a795" stroke-width="0.5"/>
<circle cx="408.71" cy="149.25" r="1.7" fill="#eef0e2" fill-opacity="0.85" stroke="#a5a795" stroke-width="0.5"/>
<circle cx="408" cy="156.6" r="1.7" fill="#eef0e2" fill-opacity="0.85" stroke="#a5a795" stroke-width="0.5"/>
<circle cx="408.94" cy="160" r="1.7" fill="#eef0e2" fill-opacity="0.85" stroke="#a5a795" stroke-width="0.5"/>
<circle cx="407.5" cy="162.6" r="1.7" fill="#eef0e2" fill-opacity="0.85" stroke="#a5a795" stroke-width="0.5"/>
<circle cx="409.06" cy="165.5" r="1.7" fill="#eef0e2" fill-opacity="0.85" stroke="#a5a795" stroke-width="0.5"/>
<circle cx="408.15" cy="179.1" r="1.7" fill="#ffffff" stroke="#b8baa8" stroke-width="0.5"/>
<line x1="421.45" y1="148.8" x2="421.45" y2="152.3" stroke="#707070" stroke-width="0.8" />
<line x1="421.45" y1="158.9" x2="421.45" y2="162" stroke="#707070" stroke-width="0.8" />
<line x1="418.05" y1="148.8" x2="424.85" y2="148.8" stroke="#555" stroke-width="0.8" />
<line x1="418.05" y1="162" x2="424.85" y2="162" stroke="#555" stroke-width="0.8" />
<rect x="414.8" y="152.3" width="13.3" height="6.6" fill="#b1bce8" stroke="#5d6565" stroke-width="0.9"/>
<line x1="414.8" y1="155.5" x2="428.1" y2="155.5" stroke="#5d6565" stroke-width="1" />
<circle cx="422.5" cy="148.8" r="1.7" fill="#eef0e2" fill-opacity="0.85" stroke="#a5a795" stroke-width="0.5"/>
<circle cx="419.35" cy="150.55" r="1.7" fill="#eef0e2" fill-opacity="0.85" stroke="#a5a795" stroke-width="0.5"/>
<circle cx="419.52" cy="152.9" r="1.7" fill="#eef0e2" fill-opacity="0.85" stroke="#a5a795" stroke-width="0.5"/>
<circle cx="422.22" cy="155.5" r="1.7" fill="#eef0e2" fill-opacity="0.85" stroke="#a5a795" stroke-width="0.5"/>
<circle cx="423.49" cy="157.2" r="1.7" fill="#eef0e2" fill-opacity="0.85" stroke="#a5a795" stroke-width="0.5"/>
<circle cx="420.35" cy="162" r="1.7" fill="#eef0e2" fill-opacity="0.85" stroke="#a5a795" stroke-width="0.5"/>
<circle cx="421.45" cy="135.3" r="1.7" fill="#ffffff" stroke="#b8baa8" stroke-width="0.5"/>
<circle cx="421.45" cy="182" r="1.7" fill="#ffffff" stroke="#b8baa8" stroke-width="0.5"/>
<line x1="440.35" y1="119.4" x2="440.35" y2="130.2" stroke="#707070" stroke-width="0.8" />
<line x1="440.35" y1="144.5" x2="440.35" y2="148.8" stroke="#707070" stroke-width="0.8" />
<line x1="436.95" y1="119.4" x2="443.75" y2="119.4" stroke="#555" stroke-width="0.8" />
<line x1="436.95" y1="148.8" x2="443.75" y2="148.8" stroke="#555" stroke-width="0.8" />
<rect x="433.7" y="130.2" width="13.3" height="14.3" fill="#b2dde5" stroke="#5d6565" stroke-width="0.9"/>
<line x1="433.7" y1="135.3" x2="447" y2="135.3" stroke="#5d6565" stroke-width="1" />
<circle cx="440.16" cy="119.4" r="1.7" fill="#eef0e2" fill-opacity="0.85" stroke="#a5a795" stroke-width="0.5"/>
<circle cx="440.76" cy="124.8" r="1.7" fill="#eef0e2" fill-opacity="0.85" stroke="#a5a795" stroke-width="0.5"/>
<circle cx="439.56" cy="130.8" r="1.7" fill="#eef0e2" fill-opacity="0.85" stroke="#a5a795" stroke-width="0.5"/>
<circle cx="439.75" cy="135.3" r="1.7" fill="#eef0e2" fill-opacity="0.85" stroke="#a5a795" stroke-width="0.5"/>
<circle cx="439.53" cy="139.9" r="1.7" fill="#eef0e2" fill-opacity="0.85" stroke="#a5a795" stroke-width="0.5"/>
<circle cx="439.77" cy="148.8" r="1.7" fill="#eef0e2" fill-opacity="0.85" stroke="#a5a795" stroke-width="0.5"/>
<line x1="453.65" y1="117.8" x2="453.65" y2="130.2" stroke="#707070" stroke-width="0.8" />
<line x1="453.65" y1="139.3" x2="453.65" y2="142.5" stroke="#707070" stroke-width="0.8" />
<line x1="450.25" y1="117.8" x2="457.05" y2="117.8" stroke="#555" stroke-width="0.8" />
<line x1="450.25" y1="142.5" x2="457.05" y2="142.5" stroke="#555" stroke-width="0.8" />
<rect x="447" y="130.2" width="13.3" height="9.1" fill="#b1bce8" stroke="#5d6565" stroke-width="0.9"/>
<line x1="447" y1="132.9" x2="460.3" y2="132.9" stroke="#5d6565" stroke-width="1" />
<circle cx="454.07" cy="117.8" r="1.7" fill="#eef0e2" fill-opacity="0.85" stroke="#a5a795" stroke-width="0.5"/>
<circle cx="452.77" cy="124" r="1.7" fill="#eef0e2" fill-opacity="0.85" stroke="#a5a795" stroke-width="0.5"/>
<circle cx="453.11" cy="130.8" r="1.7" fill="#eef0e2" fill-opacity="0.85" stroke="#a5a795" stroke-width="0.5"/>
<circle cx="454.85" cy="132.9" r="1.7" fill="#eef0e2" fill-opacity="0.85" stroke="#a5a795" stroke-width="0.5"/>
<circle cx="451.57" cy="136.1" r="1.7" fill="#eef0e2" fill-opacity="0.85" stroke="#a5a795" stroke-width="0.5"/>
<circle cx="453.95" cy="142.5" r="1.7" fill="#eef0e2" fill-opacity="0.85" stroke="#a5a795" stroke-width="0.5"/>
<path d="M408 93V90.7H440.6V93" fill="none" stroke="#444" stroke-width="1"/>
<text x="424.15" y="92.6" font-size="11" letter-spacing="-0.3" text-anchor="middle" fill="#2a2a2a">**</text>
<path d="M375.4 108.9V106.6H440.6V108.9" fill="none" stroke="#444" stroke-width="1"/>
<text x="407.85" y="108.5" font-size="11" letter-spacing="-0.3" text-anchor="middle" fill="#2a2a2a">**</text>
<path d="M375.4 118.8V116.5H408V118.8" fill="none" stroke="#444" stroke-width="1"/>
<path d="M389.3 113.8L391.7 111.5L394.1 113.8" fill="none" stroke="#222" stroke-width="0.9"/>
<line x1="475.3" y1="52.28" x2="573.8" y2="52.28" stroke="#d6d6d6" stroke-width="0.8" stroke-dasharray="1 1"/>
<line x1="475.3" y1="78.1" x2="573.8" y2="78.1" stroke="#d6d6d6" stroke-width="0.8" stroke-dasharray="1 1"/>
<line x1="475.3" y1="103.92" x2="573.8" y2="103.92" stroke="#d6d6d6" stroke-width="0.8" stroke-dasharray="1 1"/>
<line x1="475.3" y1="129.74" x2="573.8" y2="129.74" stroke="#d6d6d6" stroke-width="0.8" stroke-dasharray="1 1"/>
<line x1="475.3" y1="155.56" x2="573.8" y2="155.56" stroke="#d6d6d6" stroke-width="0.8" stroke-dasharray="1 1"/>
<line x1="475.3" y1="181.38" x2="573.8" y2="181.38" stroke="#d6d6d6" stroke-width="0.8" stroke-dasharray="1 1"/>
<text x="524.05" y="28" font-size="10.3" text-anchor="middle" fill="#1a1a1a" stroke="#1a1a1a" stroke-width="0.1" textLength="92.4" lengthAdjust="spacingAndGlyphs">average_precision</text>
<line x1="474.3" y1="207.3" x2="573.8" y2="207.3" stroke="#3a3a3a" stroke-width="1" />
<line x1="491.8" y1="207.3" x2="491.8" y2="209.9" stroke="#3a3a3a" stroke-width="0.9" />
<text x="491.8" y="218.3" font-size="9" text-anchor="middle" fill="#1a1a1a" stroke="#1a1a1a" stroke-width="0.1" >clin</text>
<line x1="524" y1="207.3" x2="524" y2="209.9" stroke="#3a3a3a" stroke-width="0.9" />
<text x="524" y="218.3" font-size="9" text-anchor="middle" fill="#1a1a1a" stroke="#1a1a1a" stroke-width="0.1" >prot</text>
<line x1="556.2" y1="207.3" x2="556.2" y2="209.9" stroke="#3a3a3a" stroke-width="0.9" />
<text x="556.2" y="218.3" font-size="9" text-anchor="middle" fill="#1a1a1a" stroke="#1a1a1a" stroke-width="0.1" >concat</text>
<line x1="485.15" y1="113.5" x2="485.15" y2="119.3" stroke="#707070" stroke-width="0.8" />
<line x1="485.15" y1="125.5" x2="485.15" y2="129.6" stroke="#707070" stroke-width="0.8" />
<line x1="481.75" y1="113.5" x2="488.55" y2="113.5" stroke="#555" stroke-width="0.8" />
<line x1="481.75" y1="129.6" x2="488.55" y2="129.6" stroke="#555" stroke-width="0.8" />
<rect x="478.5" y="119.3" width="13.3" height="6.2" fill="#b2dde5" stroke="#5d6565" stroke-width="0.9"/>
<line x1="478.5" y1="121.5" x2="491.8" y2="121.5" stroke="#5d6565" stroke-width="1" />
<circle cx="486.18" cy="113.5" r="1.7" fill="#eef0e2" fill-opacity="0.85" stroke="#a5a795" stroke-width="0.5"/>
<circle cx="484.31" cy="116.4" r="1.7" fill="#eef0e2" fill-opacity="0.85" stroke="#a5a795" stroke-width="0.5"/>
<circle cx="483.93" cy="119.9" r="1.7" fill="#eef0e2" fill-opacity="0.85" stroke="#a5a795" stroke-width="0.5"/>
<circle cx="486.49" cy="121.5" r="1.7" fill="#eef0e2" fill-opacity="0.85" stroke="#a5a795" stroke-width="0.5"/>
<circle cx="484" cy="123.5" r="1.7" fill="#eef0e2" fill-opacity="0.85" stroke="#a5a795" stroke-width="0.5"/>
<circle cx="483.77" cy="129.6" r="1.7" fill="#eef0e2" fill-opacity="0.85" stroke="#a5a795" stroke-width="0.5"/>
<circle cx="485.15" cy="136.1" r="1.7" fill="#ffffff" stroke="#b8baa8" stroke-width="0.5"/>
<line x1="498.45" y1="115.7" x2="498.45" y2="120.4" stroke="#707070" stroke-width="0.8" />
<line x1="498.45" y1="123.3" x2="498.45" y2="126.6" stroke="#707070" stroke-width="0.8" />
<line x1="495.05" y1="115.7" x2="501.85" y2="115.7" stroke="#555" stroke-width="0.8" />
<line x1="495.05" y1="126.6" x2="501.85" y2="126.6" stroke="#555" stroke-width="0.8" />
<rect x="491.8" y="120.4" width="13.3" height="2.9" fill="#b1bce8" stroke="#5d6565" stroke-width="0.9"/>
<line x1="491.8" y1="121.8" x2="505.1" y2="121.8" stroke="#5d6565" stroke-width="1" />
<circle cx="498.17" cy="115.7" r="1.7" fill="#eef0e2" fill-opacity="0.85" stroke="#a5a795" stroke-width="0.5"/>
<circle cx="499.32" cy="120.4" r="1.7" fill="#eef0e2" fill-opacity="0.85" stroke="#a5a795" stroke-width="0.5"/>
<circle cx="496.7" cy="121.8" r="1.7" fill="#eef0e2" fill-opacity="0.85" stroke="#a5a795" stroke-width="0.5"/>
<circle cx="497.67" cy="123.3" r="1.7" fill="#eef0e2" fill-opacity="0.85" stroke="#a5a795" stroke-width="0.5"/>
<circle cx="497.72" cy="126.6" r="1.7" fill="#eef0e2" fill-opacity="0.85" stroke="#a5a795" stroke-width="0.5"/>
<line x1="517.35" y1="108.4" x2="517.35" y2="113.1" stroke="#707070" stroke-width="0.8" />
<line x1="517.35" y1="121.5" x2="517.35" y2="121.5" stroke="#707070" stroke-width="0.8" />
<line x1="513.95" y1="108.4" x2="520.75" y2="108.4" stroke="#555" stroke-width="0.8" />
<line x1="513.95" y1="121.5" x2="520.75" y2="121.5" stroke="#555" stroke-width="0.8" />
<rect x="510.7" y="113.1" width="13.3" height="8.4" fill="#b2dde5" stroke="#5d6565" stroke-width="0.9"/>
<line x1="510.7" y1="113.8" x2="524" y2="113.8" stroke="#5d6565" stroke-width="1" />
<circle cx="518.82" cy="108.4" r="1.7" fill="#eef0e2" fill-opacity="0.85" stroke="#a5a795" stroke-width="0.5"/>
<circle cx="517.08" cy="110.75" r="1.7" fill="#eef0e2" fill-opacity="0.85" stroke="#a5a795" stroke-width="0.5"/>
<circle cx="518.91" cy="113.7" r="1.7" fill="#eef0e2" fill-opacity="0.85" stroke="#a5a795" stroke-width="0.5"/>
<circle cx="515.89" cy="113.8" r="1.7" fill="#eef0e2" fill-opacity="0.85" stroke="#a5a795" stroke-width="0.5"/>
<circle cx="516.63" cy="117.65" r="1.7" fill="#eef0e2" fill-opacity="0.85" stroke="#a5a795" stroke-width="0.5"/>
<circle cx="518.01" cy="121.5" r="1.7" fill="#eef0e2" fill-opacity="0.85" stroke="#a5a795" stroke-width="0.5"/>
<line x1="530.65" y1="109.1" x2="530.65" y2="111.3" stroke="#707070" stroke-width="0.8" />
<line x1="530.65" y1="115.3" x2="530.65" y2="117.4" stroke="#707070" stroke-width="0.8" />
<line x1="527.25" y1="109.1" x2="534.05" y2="109.1" stroke="#555" stroke-width="0.8" />
<line x1="527.25" y1="117.4" x2="534.05" y2="117.4" stroke="#555" stroke-width="0.8" />
<rect x="524" y="111.3" width="13.3" height="4" fill="#b1bce8" stroke="#5d6565" stroke-width="0.9"/>
<line x1="524" y1="113.1" x2="537.3" y2="113.1" stroke="#5d6565" stroke-width="1" />
<circle cx="532.34" cy="109.1" r="1.7" fill="#eef0e2" fill-opacity="0.85" stroke="#a5a795" stroke-width="0.5"/>
<circle cx="530.43" cy="110.2" r="1.7" fill="#eef0e2" fill-opacity="0.85" stroke="#a5a795" stroke-width="0.5"/>
<circle cx="529.44" cy="111.9" r="1.7" fill="#eef0e2" fill-opacity="0.85" stroke="#a5a795" stroke-width="0.5"/>
<circle cx="528.98" cy="113.1" r="1.7" fill="#eef0e2" fill-opacity="0.85" stroke="#a5a795" stroke-width="0.5"/>
<circle cx="530.78" cy="114.2" r="1.7" fill="#eef0e2" fill-opacity="0.85" stroke="#a5a795" stroke-width="0.5"/>
<circle cx="529.29" cy="117.4" r="1.7" fill="#eef0e2" fill-opacity="0.85" stroke="#a5a795" stroke-width="0.5"/>
<circle cx="530.65" cy="103.3" r="1.7" fill="#ffffff" stroke="#b8baa8" stroke-width="0.5"/>
<circle cx="530.65" cy="120.4" r="1.7" fill="#ffffff" stroke="#b8baa8" stroke-width="0.5"/>
<line x1="549.55" y1="94.5" x2="549.55" y2="98.2" stroke="#707070" stroke-width="0.8" />
<line x1="549.55" y1="102.6" x2="549.55" y2="102.6" stroke="#707070" stroke-width="0.8" />
<line x1="546.15" y1="94.5" x2="552.95" y2="94.5" stroke="#555" stroke-width="0.8" />
<line x1="546.15" y1="102.6" x2="552.95" y2="102.6" stroke="#555" stroke-width="0.8" />
<rect x="542.9" y="98.2" width="13.3" height="4.4" fill="#b2dde5" stroke="#5d6565" stroke-width="0.9"/>
<line x1="542.9" y1="99.6" x2="556.2" y2="99.6" stroke="#5d6565" stroke-width="1" />
<circle cx="550.9" cy="94.5" r="1.7" fill="#eef0e2" fill-opacity="0.85" stroke="#a5a795" stroke-width="0.5"/>
<circle cx="551.04" cy="96.35" r="1.7" fill="#eef0e2" fill-opacity="0.85" stroke="#a5a795" stroke-width="0.5"/>
<circle cx="548.16" cy="98.8" r="1.7" fill="#eef0e2" fill-opacity="0.85" stroke="#a5a795" stroke-width="0.5"/>
<circle cx="548.58" cy="99.6" r="1.7" fill="#eef0e2" fill-opacity="0.85" stroke="#a5a795" stroke-width="0.5"/>
<circle cx="550.9" cy="101.1" r="1.7" fill="#eef0e2" fill-opacity="0.85" stroke="#a5a795" stroke-width="0.5"/>
<circle cx="550.17" cy="102.6" r="1.7" fill="#eef0e2" fill-opacity="0.85" stroke="#a5a795" stroke-width="0.5"/>
<circle cx="549.55" cy="110.1" r="1.7" fill="#ffffff" stroke="#b8baa8" stroke-width="0.5"/>
<line x1="562.85" y1="90.9" x2="562.85" y2="94.2" stroke="#707070" stroke-width="0.8" />
<line x1="562.85" y1="98.6" x2="562.85" y2="101.1" stroke="#707070" stroke-width="0.8" />
<line x1="559.45" y1="90.9" x2="566.25" y2="90.9" stroke="#555" stroke-width="0.8" />
<line x1="559.45" y1="101.1" x2="566.25" y2="101.1" stroke="#555" stroke-width="0.8" />
<rect x="556.2" y="94.2" width="13.3" height="4.4" fill="#b1bce8" stroke="#5d6565" stroke-width="0.9"/>
<line x1="556.2" y1="96.4" x2="569.5" y2="96.4" stroke="#5d6565" stroke-width="1" />
<circle cx="564.2" cy="90.9" r="1.7" fill="#eef0e2" fill-opacity="0.85" stroke="#a5a795" stroke-width="0.5"/>
<circle cx="562.17" cy="92.55" r="1.7" fill="#eef0e2" fill-opacity="0.85" stroke="#a5a795" stroke-width="0.5"/>
<circle cx="561.22" cy="94.8" r="1.7" fill="#eef0e2" fill-opacity="0.85" stroke="#a5a795" stroke-width="0.5"/>
<circle cx="561.93" cy="96.4" r="1.7" fill="#eef0e2" fill-opacity="0.85" stroke="#a5a795" stroke-width="0.5"/>
<circle cx="564.14" cy="97.5" r="1.7" fill="#eef0e2" fill-opacity="0.85" stroke="#a5a795" stroke-width="0.5"/>
<circle cx="561.84" cy="101.1" r="1.7" fill="#eef0e2" fill-opacity="0.85" stroke="#a5a795" stroke-width="0.5"/>
<path d="M517.4 65.7V63.4H549.6V65.7" fill="none" stroke="#444" stroke-width="1"/>
<text x="533.35" y="65.3" font-size="11" letter-spacing="-0.3" text-anchor="middle" fill="#2a2a2a">**</text>
<path d="M485.4 81.1V78.8H549.6V81.1" fill="none" stroke="#444" stroke-width="1"/>
<text x="517.35" y="80.7" font-size="11" letter-spacing="-0.3" text-anchor="middle" fill="#2a2a2a">***</text>
<path d="M485.4 91V88.7H517.4V91" fill="none" stroke="#444" stroke-width="1"/>
<path d="M499 86L501.4 83.7L503.8 86" fill="none" stroke="#222" stroke-width="0.9"/>
<line x1="584.8" y1="52.28" x2="683.1" y2="52.28" stroke="#d6d6d6" stroke-width="0.8" stroke-dasharray="1 1"/>
<line x1="584.8" y1="78.1" x2="683.1" y2="78.1" stroke="#d6d6d6" stroke-width="0.8" stroke-dasharray="1 1"/>
<line x1="584.8" y1="103.92" x2="683.1" y2="103.92" stroke="#d6d6d6" stroke-width="0.8" stroke-dasharray="1 1"/>
<line x1="584.8" y1="129.74" x2="683.1" y2="129.74" stroke="#d6d6d6" stroke-width="0.8" stroke-dasharray="1 1"/>
<line x1="584.8" y1="155.56" x2="683.1" y2="155.56" stroke="#d6d6d6" stroke-width="0.8" stroke-dasharray="1 1"/>
<line x1="584.8" y1="181.38" x2="683.1" y2="181.38" stroke="#d6d6d6" stroke-width="0.8" stroke-dasharray="1 1"/>
<text x="633.45" y="28" font-size="10.3" text-anchor="middle" fill="#1a1a1a" stroke="#1a1a1a" stroke-width="0.1" textLength="38.3" lengthAdjust="spacingAndGlyphs">roc_auc</text>
<line x1="583.8" y1="207.3" x2="683.1" y2="207.3" stroke="#3a3a3a" stroke-width="1" />
<line x1="601.3" y1="207.3" x2="601.3" y2="209.9" stroke="#3a3a3a" stroke-width="0.9" />
<text x="601.3" y="218.3" font-size="9" text-anchor="middle" fill="#1a1a1a" stroke="#1a1a1a" stroke-width="0.1" >clin</text>
<line x1="633.5" y1="207.3" x2="633.5" y2="209.9" stroke="#3a3a3a" stroke-width="0.9" />
<text x="633.5" y="218.3" font-size="9" text-anchor="middle" fill="#1a1a1a" stroke="#1a1a1a" stroke-width="0.1" >prot</text>
<line x1="665.7" y1="207.3" x2="665.7" y2="209.9" stroke="#3a3a3a" stroke-width="0.9" />
<text x="665.7" y="218.3" font-size="9" text-anchor="middle" fill="#1a1a1a" stroke="#1a1a1a" stroke-width="0.1" >concat</text>
<line x1="594.65" y1="80.3" x2="594.65" y2="82.2" stroke="#707070" stroke-width="0.8" />
<line x1="594.65" y1="87.7" x2="594.65" y2="89.2" stroke="#707070" stroke-width="0.8" />
<line x1="591.25" y1="80.3" x2="598.05" y2="80.3" stroke="#555" stroke-width="0.8" />
<line x1="591.25" y1="89.2" x2="598.05" y2="89.2" stroke="#555" stroke-width="0.8" />
<rect x="588" y="82.2" width="13.3" height="5.5" fill="#b2dde5" stroke="#5d6565" stroke-width="0.9"/>
<line x1="588" y1="84.8" x2="601.3" y2="84.8" stroke="#5d6565" stroke-width="1" />
<circle cx="593.97" cy="80.3" r="1.7" fill="#eef0e2" fill-opacity="0.85" stroke="#a5a795" stroke-width="0.5"/>
<circle cx="594.28" cy="81.25" r="1.7" fill="#eef0e2" fill-opacity="0.85" stroke="#a5a795" stroke-width="0.5"/>
<circle cx="594.3" cy="82.8" r="1.7" fill="#eef0e2" fill-opacity="0.85" stroke="#a5a795" stroke-width="0.5"/>
<circle cx="594.25" cy="84.8" r="1.7" fill="#eef0e2" fill-opacity="0.85" stroke="#a5a795" stroke-width="0.5"/>
<circle cx="596.5" cy="86.25" r="1.7" fill="#eef0e2" fill-opacity="0.85" stroke="#a5a795" stroke-width="0.5"/>
<circle cx="593.14" cy="89.2" r="1.7" fill="#eef0e2" fill-opacity="0.85" stroke="#a5a795" stroke-width="0.5"/>
<line x1="607.95" y1="79.6" x2="607.95" y2="82.2" stroke="#707070" stroke-width="0.8" />
<line x1="607.95" y1="84.3" x2="607.95" y2="86.3" stroke="#707070" stroke-width="0.8" />
<line x1="604.55" y1="79.6" x2="611.35" y2="79.6" stroke="#555" stroke-width="0.8" />
<line x1="604.55" y1="86.3" x2="611.35" y2="86.3" stroke="#555" stroke-width="0.8" />
<rect x="601.3" y="82.2" width="13.3" height="2.1" fill="#b1bce8" stroke="#5d6565" stroke-width="0.9"/>
<line x1="601.3" y1="83.3" x2="614.6" y2="83.3" stroke="#5d6565" stroke-width="1" />
<circle cx="605.77" cy="79.6" r="1.7" fill="#eef0e2" fill-opacity="0.85" stroke="#a5a795" stroke-width="0.5"/>
<circle cx="609.9" cy="82.2" r="1.7" fill="#eef0e2" fill-opacity="0.85" stroke="#a5a795" stroke-width="0.5"/>
<circle cx="609.62" cy="83.3" r="1.7" fill="#eef0e2" fill-opacity="0.85" stroke="#a5a795" stroke-width="0.5"/>
<circle cx="610.09" cy="84.3" r="1.7" fill="#eef0e2" fill-opacity="0.85" stroke="#a5a795" stroke-width="0.5"/>
<circle cx="607.66" cy="86.3" r="1.7" fill="#eef0e2" fill-opacity="0.85" stroke="#a5a795" stroke-width="0.5"/>
<line x1="626.85" y1="76.6" x2="626.85" y2="80.3" stroke="#707070" stroke-width="0.8" />
<line x1="626.85" y1="82.5" x2="626.85" y2="85.5" stroke="#707070" stroke-width="0.8" />
<line x1="623.45" y1="76.6" x2="630.25" y2="76.6" stroke="#555" stroke-width="0.8" />
<line x1="623.45" y1="85.5" x2="630.25" y2="85.5" stroke="#555" stroke-width="0.8" />
<rect x="620.2" y="80.3" width="13.3" height="2.2" fill="#b2dde5" stroke="#5d6565" stroke-width="0.9"/>
<line x1="620.2" y1="81.5" x2="633.5" y2="81.5" stroke="#5d6565" stroke-width="1" />
<circle cx="628.83" cy="76.6" r="1.7" fill="#eef0e2" fill-opacity="0.85" stroke="#a5a795" stroke-width="0.5"/>
<circle cx="628.73" cy="80.3" r="1.7" fill="#eef0e2" fill-opacity="0.85" stroke="#a5a795" stroke-width="0.5"/>
<circle cx="625.63" cy="81.5" r="1.7" fill="#eef0e2" fill-opacity="0.85" stroke="#a5a795" stroke-width="0.5"/>
<circle cx="627.93" cy="82.5" r="1.7" fill="#eef0e2" fill-opacity="0.85" stroke="#a5a795" stroke-width="0.5"/>
<circle cx="628.33" cy="85.5" r="1.7" fill="#eef0e2" fill-opacity="0.85" stroke="#a5a795" stroke-width="0.5"/>
<circle cx="626.85" cy="88.5" r="1.7" fill="#ffffff" stroke="#b8baa8" stroke-width="0.5"/>
<line x1="640.15" y1="77.3" x2="640.15" y2="80.3" stroke="#707070" stroke-width="0.8" />
<line x1="640.15" y1="81.8" x2="640.15" y2="84.8" stroke="#707070" stroke-width="0.8" />
<line x1="636.75" y1="77.3" x2="643.55" y2="77.3" stroke="#555" stroke-width="0.8" />
<line x1="636.75" y1="84.8" x2="643.55" y2="84.8" stroke="#555" stroke-width="0.8" />
<rect x="633.5" y="80.3" width="13.3" height="1.5" fill="#b1bce8" stroke="#5d6565" stroke-width="0.9"/>
<line x1="633.5" y1="81" x2="646.8" y2="81" stroke="#5d6565" stroke-width="1" />
<circle cx="640.87" cy="77.3" r="1.7" fill="#eef0e2" fill-opacity="0.85" stroke="#a5a795" stroke-width="0.5"/>
<circle cx="640.23" cy="80.3" r="1.7" fill="#eef0e2" fill-opacity="0.85" stroke="#a5a795" stroke-width="0.5"/>
<circle cx="639.22" cy="81" r="1.7" fill="#eef0e2" fill-opacity="0.85" stroke="#a5a795" stroke-width="0.5"/>
<circle cx="639.45" cy="81.8" r="1.7" fill="#eef0e2" fill-opacity="0.85" stroke="#a5a795" stroke-width="0.5"/>
<circle cx="638.95" cy="84.8" r="1.7" fill="#eef0e2" fill-opacity="0.85" stroke="#a5a795" stroke-width="0.5"/>
<circle cx="640.15" cy="75.8" r="1.7" fill="#ffffff" stroke="#b8baa8" stroke-width="0.5"/>
<line x1="659.05" y1="70.6" x2="659.05" y2="72.9" stroke="#707070" stroke-width="0.8" />
<line x1="659.05" y1="75.4" x2="659.05" y2="77.3" stroke="#707070" stroke-width="0.8" />
<line x1="655.65" y1="70.6" x2="662.45" y2="70.6" stroke="#555" stroke-width="0.8" />
<line x1="655.65" y1="77.3" x2="662.45" y2="77.3" stroke="#555" stroke-width="0.8" />
<rect x="652.4" y="72.9" width="13.3" height="2.5" fill="#b2dde5" stroke="#5d6565" stroke-width="0.9"/>
<line x1="652.4" y1="73.9" x2="665.7" y2="73.9" stroke="#5d6565" stroke-width="1" />
<circle cx="657.15" cy="70.6" r="1.7" fill="#eef0e2" fill-opacity="0.85" stroke="#a5a795" stroke-width="0.5"/>
<circle cx="659.44" cy="72.9" r="1.7" fill="#eef0e2" fill-opacity="0.85" stroke="#a5a795" stroke-width="0.5"/>
<circle cx="658.11" cy="73.9" r="1.7" fill="#eef0e2" fill-opacity="0.85" stroke="#a5a795" stroke-width="0.5"/>
<circle cx="660.41" cy="75.4" r="1.7" fill="#eef0e2" fill-opacity="0.85" stroke="#a5a795" stroke-width="0.5"/>
<circle cx="657.05" cy="77.3" r="1.7" fill="#eef0e2" fill-opacity="0.85" stroke="#a5a795" stroke-width="0.5"/>
<line x1="672.35" y1="68" x2="672.35" y2="71.1" stroke="#707070" stroke-width="0.8" />
<line x1="672.35" y1="73.9" x2="672.35" y2="75.8" stroke="#707070" stroke-width="0.8" />
<line x1="668.95" y1="68" x2="675.75" y2="68" stroke="#555" stroke-width="0.8" />
<line x1="668.95" y1="75.8" x2="675.75" y2="75.8" stroke="#555" stroke-width="0.8" />
<rect x="665.7" y="71.1" width="13.3" height="2.8" fill="#b1bce8" stroke="#5d6565" stroke-width="0.9"/>
<line x1="665.7" y1="72.4" x2="679" y2="72.4" stroke="#5d6565" stroke-width="1" />
<circle cx="674.13" cy="68" r="1.7" fill="#eef0e2" fill-opacity="0.85" stroke="#a5a795" stroke-width="0.5"/>
<circle cx="673.2" cy="71.1" r="1.7" fill="#eef0e2" fill-opacity="0.85" stroke="#a5a795" stroke-width="0.5"/>
<circle cx="674.21" cy="72.4" r="1.7" fill="#eef0e2" fill-opacity="0.85" stroke="#a5a795" stroke-width="0.5"/>
<circle cx="674.09" cy="73.9" r="1.7" fill="#eef0e2" fill-opacity="0.85" stroke="#a5a795" stroke-width="0.5"/>
<circle cx="674.11" cy="75.8" r="1.7" fill="#eef0e2" fill-opacity="0.85" stroke="#a5a795" stroke-width="0.5"/>
<path d="M626.5 43.6V41.3H659.7V43.6" fill="none" stroke="#444" stroke-width="1"/>
<text x="642.95" y="43.2" font-size="11" letter-spacing="-0.3" text-anchor="middle" fill="#2a2a2a">***</text>
<path d="M594.5 59.2V56.9H659.7V59.2" fill="none" stroke="#444" stroke-width="1"/>
<text x="626.95" y="58.8" font-size="11" letter-spacing="-0.3" text-anchor="middle" fill="#2a2a2a">***</text>
<rect x="587.9" y="184.2" width="17" height="6.4" fill="#b2dde5" stroke="#5d6565" stroke-width="0.7"/>
<rect x="587.9" y="195.4" width="17" height="6.4" fill="#b1bce8" stroke="#5d6565" stroke-width="0.7"/>
<text x="611.7" y="190" font-size="9" text-anchor="start" fill="#1a1a1a" stroke="#1a1a1a" stroke-width="0.1" textLength="27.5" lengthAdjust="spacingAndGlyphs">nested</text>
<text x="611.7" y="201.2" font-size="9" text-anchor="start" fill="#1a1a1a" stroke="#1a1a1a" stroke-width="0.1" textLength="36.8" lengthAdjust="spacingAndGlyphs">repeated</text>
<text x="0.3" y="268.3" font-size="21.5" text-anchor="start" fill="#1a1a1a" font-weight="bold">b</text>
<rect x="61.9" y="281.7" width="31" height="19.1" fill="#5398c9" stroke="#ffffff" stroke-width="1.2"/>
<text x="77.4" y="292.85" font-size="7" text-anchor="middle" fill="#ffffff" >13</text>
<rect x="92.9" y="281.7" width="30.9" height="19.1" fill="#d6e6f4" stroke="#ffffff" stroke-width="1.2"/>
<text x="108.35" y="292.85" font-size="7" text-anchor="middle" fill="#262626" stroke="#262626" stroke-width="0.1" >3</text>
<rect x="123.8" y="281.7" width="31" height="19.1" fill="#cde0f1" stroke="#ffffff" stroke-width="1.2"/>
<text x="139.3" y="292.85" font-size="7" text-anchor="middle" fill="#262626" stroke="#262626" stroke-width="0.1" >4</text>
<rect x="61.9" y="300.8" width="31" height="19.1" fill="#3b7cbf" stroke="#ffffff" stroke-width="1.2"/>
<text x="77.4" y="311.95" font-size="7" text-anchor="middle" fill="#ffffff" >27</text>
<rect x="92.9" y="300.8" width="30.9" height="19.1" fill="#eff5fb" stroke="#ffffff" stroke-width="1.2"/>
<text x="108.35" y="311.95" font-size="7" text-anchor="middle" fill="#262626" stroke="#262626" stroke-width="0.1" >1</text>
<rect x="123.8" y="300.8" width="31" height="19.1" fill="#bed6ec" stroke="#ffffff" stroke-width="1.2"/>
<text x="139.3" y="311.95" font-size="7" text-anchor="middle" fill="#262626" stroke="#262626" stroke-width="0.1" >9</text>
<rect x="61.9" y="319.9" width="31" height="19.1" fill="#5fa5d1" stroke="#ffffff" stroke-width="1.2"/>
<text x="77.4" y="331.05" font-size="7" text-anchor="middle" fill="#ffffff" >30</text>
<rect x="92.9" y="319.9" width="30.9" height="19.1" fill="#d8e8f5" stroke="#ffffff" stroke-width="1.2"/>
<text x="108.35" y="331.05" font-size="7" text-anchor="middle" fill="#262626" stroke="#262626" stroke-width="0.1" >7</text>
<rect x="123.8" y="319.9" width="31" height="19.1" fill="#b5d3ea" stroke="#ffffff" stroke-width="1.2"/>
<text x="139.3" y="331.05" font-size="7" text-anchor="middle" fill="#262626" stroke="#262626" stroke-width="0.1" >16</text>
<line x1="58.3" y1="291.25" x2="61" y2="291.25" stroke="#3a3a3a" stroke-width="0.8" />
<text x="57" y="293.15" font-size="6.9" text-anchor="end" fill="#1a1a1a" stroke="#1a1a1a" stroke-width="0.1" textLength="29.4" lengthAdjust="spacingAndGlyphs">Norm-like</text>
<line x1="58.3" y1="310.35" x2="61" y2="310.35" stroke="#3a3a3a" stroke-width="0.8" />
<text x="57" y="312.25" font-size="6.9" text-anchor="end" fill="#1a1a1a" stroke="#1a1a1a" stroke-width="0.1" textLength="40.0" lengthAdjust="spacingAndGlyphs">Intermediate</text>
<line x1="58.3" y1="329.45" x2="61" y2="329.45" stroke="#3a3a3a" stroke-width="0.8" />
<text x="57" y="331.35" font-size="6.9" text-anchor="end" fill="#1a1a1a" stroke="#1a1a1a" stroke-width="0.1" textLength="22.3" lengthAdjust="spacingAndGlyphs">DM-like</text>
<line x1="77.4" y1="339.5" x2="77.4" y2="341.8" stroke="#3a3a3a" stroke-width="0.8" />
<text x="77.4" y="348.4" font-size="6.9" text-anchor="middle" fill="#1a1a1a" stroke="#1a1a1a" stroke-width="0.1" >Norm</text>
<line x1="108.35" y1="339.5" x2="108.35" y2="341.8" stroke="#3a3a3a" stroke-width="0.8" />
<text x="108.35" y="348.4" font-size="6.9" text-anchor="middle" fill="#1a1a1a" stroke="#1a1a1a" stroke-width="0.1" >Und</text>
<line x1="139.3" y1="339.5" x2="139.3" y2="341.8" stroke="#3a3a3a" stroke-width="0.8" />
<text x="139.3" y="348.4" font-size="6.9" text-anchor="middle" fill="#1a1a1a" stroke="#1a1a1a" stroke-width="0.1" >DM</text>
<text x="108.3" y="355.8" font-size="7.1" text-anchor="middle" fill="#1a1a1a" stroke="#1a1a1a" stroke-width="0.1" textLength="65.5" lengthAdjust="spacingAndGlyphs">Predicted phenotype</text>
<text x="13.3" y="311" font-size="7.1" text-anchor="middle" fill="#1a1a1a" stroke="#1a1a1a" stroke-width="0.1" transform="rotate(-90 13.3 311)" textLength="40" lengthAdjust="spacingAndGlyphs">Cluster label</text>
<defs><linearGradient id="blues" x1="0" y1="1" x2="0" y2="0"><stop offset="0" stop-color="#f7fbff"/><stop offset="0.125" stop-color="#deebf7"/><stop offset="0.25" stop-color="#c6dbef"/><stop offset="0.375" stop-color="#9ecae1"/><stop offset="0.5" stop-color="#6baed6"/><stop offset="0.625" stop-color="#4292c6"/><stop offset="0.75" stop-color="#2171b5"/><stop offset="0.875" stop-color="#08519c"/><stop offset="1" stop-color="#08306b"/></linearGradient></defs>
<rect x="161" y="281.2" width="3" height="58" fill="url(#blues)" />
<line x1="164" y1="281.2" x2="166" y2="281.2" stroke="#3a3a3a" stroke-width="0.7" />
<text x="167.6" y="283.5" font-size="6.6" text-anchor="start" fill="#1a1a1a" stroke="#1a1a1a" stroke-width="0.1" textLength="13.3" lengthAdjust="spacingAndGlyphs">1.00</text>
<line x1="164" y1="295.7" x2="166" y2="295.7" stroke="#3a3a3a" stroke-width="0.7" />
<text x="167.6" y="298" font-size="6.6" text-anchor="start" fill="#1a1a1a" stroke="#1a1a1a" stroke-width="0.1" textLength="13.3" lengthAdjust="spacingAndGlyphs">0.75</text>
<line x1="164" y1="310.2" x2="166" y2="310.2" stroke="#3a3a3a" stroke-width="0.7" />
<text x="167.6" y="312.5" font-size="6.6" text-anchor="start" fill="#1a1a1a" stroke="#1a1a1a" stroke-width="0.1" textLength="13.3" lengthAdjust="spacingAndGlyphs">0.50</text>
<line x1="164" y1="324.7" x2="166" y2="324.7" stroke="#3a3a3a" stroke-width="0.7" />
<text x="167.6" y="327" font-size="6.6" text-anchor="start" fill="#1a1a1a" stroke="#1a1a1a" stroke-width="0.1" textLength="13.3" lengthAdjust="spacingAndGlyphs">0.25</text>
<line x1="164" y1="339.2" x2="166" y2="339.2" stroke="#3a3a3a" stroke-width="0.7" />
<text x="167.6" y="341.5" font-size="6.6" text-anchor="start" fill="#1a1a1a" stroke="#1a1a1a" stroke-width="0.1" textLength="13.3" lengthAdjust="spacingAndGlyphs">0.00</text>
<text x="196.9" y="268" font-size="21.5" text-anchor="start" fill="#1a1a1a" font-weight="bold">c</text>
<rect x="220.3" y="264.4" width="43.8" height="46.9" rx="2" fill="#ffffff" stroke="#d0d0d0" stroke-width="0.8"/>
<text x="242.2" y="271.2" font-size="6.6" text-anchor="middle" fill="#1a1a1a" stroke="#1a1a1a" stroke-width="0.1" >top_shap</text>
<rect x="222.8" y="275.4" width="12.4" height="4.6" fill="#d4edd1" stroke="#b8b8b8" stroke-width="0.4"/>
<text x="240.8" y="280.1" font-size="6.6" text-anchor="start" fill="#1a1a1a" stroke="#1a1a1a" stroke-width="0.1" textLength="20.3" lengthAdjust="spacingAndGlyphs">top_50</text>
<rect x="222.8" y="284.8" width="12.4" height="4.6" fill="#a5d89e" stroke="#b8b8b8" stroke-width="0.4"/>
<text x="240.8" y="289.5" font-size="6.6" text-anchor="start" fill="#1a1a1a" stroke="#1a1a1a" stroke-width="0.1" textLength="20.3" lengthAdjust="spacingAndGlyphs">top_30</text>
<rect x="222.8" y="294.1" width="12.4" height="4.6" fill="#5fad62" stroke="#b8b8b8" stroke-width="0.4"/>
<text x="240.8" y="298.8" font-size="6.6" text-anchor="start" fill="#1a1a1a" stroke="#1a1a1a" stroke-width="0.1" textLength="20.3" lengthAdjust="spacingAndGlyphs">top_20</text>
<rect x="222.8" y="303.4" width="12.4" height="4.6" fill="#2f7d3f" stroke="#b8b8b8" stroke-width="0.4"/>
<text x="240.8" y="308.1" font-size="6.6" text-anchor="start" fill="#1a1a1a" stroke="#1a1a1a" stroke-width="0.1" textLength="20.3" lengthAdjust="spacingAndGlyphs">top_10</text>
<rect x="305.05" y="265.4" width="6.1" height="81.3" fill="#d4edd1" stroke="#c4c4c4" stroke-width="0.45"/>
<rect x="305.05" y="278.41" width="6.1" height="68.29" fill="#a5d89e" stroke="#c4c4c4" stroke-width="0.45"/>
<rect x="305.05" y="278.41" width="6.1" height="68.29" fill="#5fad62" stroke="#c4c4c4" stroke-width="0.45"/>
<rect x="305.05" y="291.42" width="6.1" height="55.28" fill="#2f7d3f" stroke="#c4c4c4" stroke-width="0.45"/>
<rect x="312.57" y="275.16" width="6.1" height="71.54" fill="#d4edd1" stroke="#c4c4c4" stroke-width="0.45"/>
<rect x="312.57" y="288.16" width="6.1" height="58.54" fill="#a5d89e" stroke="#c4c4c4" stroke-width="0.45"/>
<rect x="312.57" y="297.92" width="6.1" height="48.78" fill="#5fad62" stroke="#c4c4c4" stroke-width="0.45"/>
<rect x="312.57" y="301.17" width="6.1" height="45.53" fill="#2f7d3f" stroke="#c4c4c4" stroke-width="0.45"/>
<rect x="320.08" y="284.91" width="6.1" height="61.79" fill="#d4edd1" stroke="#c4c4c4" stroke-width="0.45"/>
<rect x="320.08" y="288.16" width="6.1" height="58.54" fill="#a5d89e" stroke="#c4c4c4" stroke-width="0.45"/>
<rect x="320.08" y="297.92" width="6.1" height="48.78" fill="#5fad62" stroke="#c4c4c4" stroke-width="0.45"/>
<rect x="320.08" y="301.17" width="6.1" height="45.53" fill="#2f7d3f" stroke="#c4c4c4" stroke-width="0.45"/>
<rect x="327.6" y="281.66" width="6.1" height="65.04" fill="#d4edd1" stroke="#c4c4c4" stroke-width="0.45"/>
<rect x="327.6" y="288.16" width="6.1" height="58.54" fill="#a5d89e" stroke="#c4c4c4" stroke-width="0.45"/>
<rect x="327.6" y="297.92" width="6.1" height="48.78" fill="#5fad62" stroke="#c4c4c4" stroke-width="0.45"/>
<rect x="327.6" y="307.68" width="6.1" height="39.02" fill="#2f7d3f" stroke="#c4c4c4" stroke-width="0.45"/>
<rect x="335.11" y="291.42" width="6.1" height="55.28" fill="#d4edd1" stroke="#c4c4c4" stroke-width="0.45"/>
<rect x="335.11" y="297.92" width="6.1" height="48.78" fill="#a5d89e" stroke="#c4c4c4" stroke-width="0.45"/>
<rect x="335.11" y="297.92" width="6.1" height="48.78" fill="#5fad62" stroke="#c4c4c4" stroke-width="0.45"/>
<rect x="335.11" y="314.18" width="6.1" height="32.52" fill="#2f7d3f" stroke="#c4c4c4" stroke-width="0.45"/>
<rect x="342.63" y="297.92" width="6.1" height="48.78" fill="#d4edd1" stroke="#c4c4c4" stroke-width="0.45"/>
<rect x="342.63" y="304.42" width="6.1" height="42.28" fill="#a5d89e" stroke="#c4c4c4" stroke-width="0.45"/>
<rect x="342.63" y="307.68" width="6.1" height="39.02" fill="#5fad62" stroke="#c4c4c4" stroke-width="0.45"/>
<rect x="342.63" y="314.18" width="6.1" height="32.52" fill="#2f7d3f" stroke="#c4c4c4" stroke-width="0.45"/>
<rect x="350.15" y="304.42" width="6.1" height="42.28" fill="#d4edd1" stroke="#c4c4c4" stroke-width="0.45"/>
<rect x="350.15" y="307.68" width="6.1" height="39.02" fill="#a5d89e" stroke="#c4c4c4" stroke-width="0.45"/>
<rect x="350.15" y="310.93" width="6.1" height="35.77" fill="#5fad62" stroke="#c4c4c4" stroke-width="0.45"/>
<rect x="350.15" y="314.18" width="6.1" height="32.52" fill="#2f7d3f" stroke="#c4c4c4" stroke-width="0.45"/>
<rect x="357.66" y="307.68" width="6.1" height="39.02" fill="#d4edd1" stroke="#c4c4c4" stroke-width="0.45"/>
<rect x="357.66" y="314.18" width="6.1" height="32.52" fill="#a5d89e" stroke="#c4c4c4" stroke-width="0.45"/>
<rect x="357.66" y="314.18" width="6.1" height="32.52" fill="#5fad62" stroke="#c4c4c4" stroke-width="0.45"/>
<rect x="357.66" y="314.18" width="6.1" height="32.52" fill="#2f7d3f" stroke="#c4c4c4" stroke-width="0.45"/>
<rect x="365.18" y="297.92" width="6.1" height="48.78" fill="#d4edd1" stroke="#c4c4c4" stroke-width="0.45"/>
<rect x="365.18" y="297.92" width="6.1" height="48.78" fill="#a5d89e" stroke="#c4c4c4" stroke-width="0.45"/>
<rect x="365.18" y="310.93" width="6.1" height="35.77" fill="#5fad62" stroke="#c4c4c4" stroke-width="0.45"/>
<rect x="365.18" y="317.43" width="6.1" height="29.27" fill="#2f7d3f" stroke="#c4c4c4" stroke-width="0.45"/>
<rect x="372.69" y="294.67" width="6.1" height="52.03" fill="#d4edd1" stroke="#c4c4c4" stroke-width="0.45"/>
<rect x="372.69" y="310.93" width="6.1" height="35.77" fill="#a5d89e" stroke="#c4c4c4" stroke-width="0.45"/>
<rect x="372.69" y="314.18" width="6.1" height="32.52" fill="#5fad62" stroke="#c4c4c4" stroke-width="0.45"/>
<rect x="372.69" y="317.43" width="6.1" height="29.27" fill="#2f7d3f" stroke="#c4c4c4" stroke-width="0.45"/>
<rect x="380.21" y="294.67" width="6.1" height="52.03" fill="#d4edd1" stroke="#c4c4c4" stroke-width="0.45"/>
<rect x="380.21" y="301.17" width="6.1" height="45.53" fill="#a5d89e" stroke="#c4c4c4" stroke-width="0.45"/>
<rect x="380.21" y="314.18" width="6.1" height="32.52" fill="#5fad62" stroke="#c4c4c4" stroke-width="0.45"/>
<rect x="380.21" y="320.68" width="6.1" height="26.02" fill="#2f7d3f" stroke="#c4c4c4" stroke-width="0.45"/>
<rect x="387.73" y="294.67" width="6.1" height="52.03" fill="#d4edd1" stroke="#c4c4c4" stroke-width="0.45"/>
<rect x="387.73" y="304.42" width="6.1" height="42.28" fill="#a5d89e" stroke="#c4c4c4" stroke-width="0.45"/>
<rect x="387.73" y="310.93" width="6.1" height="35.77" fill="#5fad62" stroke="#c4c4c4" stroke-width="0.45"/>
<rect x="387.73" y="323.94" width="6.1" height="22.76" fill="#2f7d3f" stroke="#c4c4c4" stroke-width="0.45"/>
<rect x="395.24" y="288.16" width="6.1" height="58.54" fill="#d4edd1" stroke="#c4c4c4" stroke-width="0.45"/>
<rect x="395.24" y="301.17" width="6.1" height="45.53" fill="#a5d89e" stroke="#c4c4c4" stroke-width="0.45"/>
<rect x="395.24" y="314.18" width="6.1" height="32.52" fill="#5fad62" stroke="#c4c4c4" stroke-width="0.45"/>
<rect x="395.24" y="323.94" width="6.1" height="22.76" fill="#2f7d3f" stroke="#c4c4c4" stroke-width="0.45"/>
<rect x="402.76" y="301.17" width="6.1" height="45.53" fill="#d4edd1" stroke="#c4c4c4" stroke-width="0.45"/>
<rect x="402.76" y="310.93" width="6.1" height="35.77" fill="#a5d89e" stroke="#c4c4c4" stroke-width="0.45"/>
<rect x="402.76" y="314.18" width="6.1" height="32.52" fill="#5fad62" stroke="#c4c4c4" stroke-width="0.45"/>
<rect x="402.76" y="323.94" width="6.1" height="22.76" fill="#2f7d3f" stroke="#c4c4c4" stroke-width="0.45"/>
<rect x="410.27" y="297.92" width="6.1" height="48.78" fill="#d4edd1" stroke="#c4c4c4" stroke-width="0.45"/>
<rect x="410.27" y="310.93" width="6.1" height="35.77" fill="#a5d89e" stroke="#c4c4c4" stroke-width="0.45"/>
<rect x="410.27" y="317.43" width="6.1" height="29.27" fill="#5fad62" stroke="#c4c4c4" stroke-width="0.45"/>
<rect x="410.27" y="323.94" width="6.1" height="22.76" fill="#2f7d3f" stroke="#c4c4c4" stroke-width="0.45"/>
<rect x="417.79" y="323.94" width="6.1" height="22.76" fill="#d4edd1" stroke="#c4c4c4" stroke-width="0.45"/>
<rect x="417.79" y="323.94" width="6.1" height="22.76" fill="#a5d89e" stroke="#c4c4c4" stroke-width="0.45"/>
<rect x="417.79" y="323.94" width="6.1" height="22.76" fill="#5fad62" stroke="#c4c4c4" stroke-width="0.45"/>
<rect x="417.79" y="323.94" width="6.1" height="22.76" fill="#2f7d3f" stroke="#c4c4c4" stroke-width="0.45"/>
<rect x="425.31" y="291.42" width="6.1" height="55.28" fill="#d4edd1" stroke="#c4c4c4" stroke-width="0.45"/>
<rect x="425.31" y="301.17" width="6.1" height="45.53" fill="#a5d89e" stroke="#c4c4c4" stroke-width="0.45"/>
<rect x="425.31" y="314.18" width="6.1" height="32.52" fill="#5fad62" stroke="#c4c4c4" stroke-width="0.45"/>
<rect x="425.31" y="327.19" width="6.1" height="19.51" fill="#2f7d3f" stroke="#c4c4c4" stroke-width="0.45"/>
<rect x="432.82" y="307.68" width="6.1" height="39.02" fill="#d4edd1" stroke="#c4c4c4" stroke-width="0.45"/>
<rect x="432.82" y="317.43" width="6.1" height="29.27" fill="#a5d89e" stroke="#c4c4c4" stroke-width="0.45"/>
<rect x="432.82" y="317.43" width="6.1" height="29.27" fill="#5fad62" stroke="#c4c4c4" stroke-width="0.45"/>
<rect x="432.82" y="327.19" width="6.1" height="19.51" fill="#2f7d3f" stroke="#c4c4c4" stroke-width="0.45"/>
<rect x="440.34" y="310.93" width="6.1" height="35.77" fill="#d4edd1" stroke="#c4c4c4" stroke-width="0.45"/>
<rect x="440.34" y="320.68" width="6.1" height="26.02" fill="#a5d89e" stroke="#c4c4c4" stroke-width="0.45"/>
<rect x="440.34" y="323.94" width="6.1" height="22.76" fill="#5fad62" stroke="#c4c4c4" stroke-width="0.45"/>
<rect x="440.34" y="327.19" width="6.1" height="19.51" fill="#2f7d3f" stroke="#c4c4c4" stroke-width="0.45"/>
<rect x="447.85" y="310.93" width="6.1" height="35.77" fill="#d4edd1" stroke="#c4c4c4" stroke-width="0.45"/>
<rect x="447.85" y="314.18" width="6.1" height="32.52" fill="#a5d89e" stroke="#c4c4c4" stroke-width="0.45"/>
<rect x="447.85" y="327.19" width="6.1" height="19.51" fill="#5fad62" stroke="#c4c4c4" stroke-width="0.45"/>
<rect x="447.85" y="327.19" width="6.1" height="19.51" fill="#2f7d3f" stroke="#c4c4c4" stroke-width="0.45"/>
<rect x="455.37" y="301.17" width="6.1" height="45.53" fill="#d4edd1" stroke="#c4c4c4" stroke-width="0.45"/>
<rect x="455.37" y="317.43" width="6.1" height="29.27" fill="#a5d89e" stroke="#c4c4c4" stroke-width="0.45"/>
<rect x="455.37" y="327.19" width="6.1" height="19.51" fill="#5fad62" stroke="#c4c4c4" stroke-width="0.45"/>
<rect x="455.37" y="327.19" width="6.1" height="19.51" fill="#2f7d3f" stroke="#c4c4c4" stroke-width="0.45"/>
<rect x="462.89" y="278.41" width="6.1" height="68.29" fill="#d4edd1" stroke="#c4c4c4" stroke-width="0.45"/>
<rect x="462.89" y="288.16" width="6.1" height="58.54" fill="#a5d89e" stroke="#c4c4c4" stroke-width="0.45"/>
<rect x="462.89" y="304.42" width="6.1" height="42.28" fill="#5fad62" stroke="#c4c4c4" stroke-width="0.45"/>
<rect x="462.89" y="330.44" width="6.1" height="16.26" fill="#2f7d3f" stroke="#c4c4c4" stroke-width="0.45"/>
<rect x="470.4" y="297.92" width="6.1" height="48.78" fill="#d4edd1" stroke="#c4c4c4" stroke-width="0.45"/>
<rect x="470.4" y="297.92" width="6.1" height="48.78" fill="#a5d89e" stroke="#c4c4c4" stroke-width="0.45"/>
<rect x="470.4" y="304.42" width="6.1" height="42.28" fill="#5fad62" stroke="#c4c4c4" stroke-width="0.45"/>
<rect x="470.4" y="330.44" width="6.1" height="16.26" fill="#2f7d3f" stroke="#c4c4c4" stroke-width="0.45"/>
<rect x="477.92" y="284.91" width="6.1" height="61.79" fill="#d4edd1" stroke="#c4c4c4" stroke-width="0.45"/>
<rect x="477.92" y="304.42" width="6.1" height="42.28" fill="#a5d89e" stroke="#c4c4c4" stroke-width="0.45"/>
<rect x="477.92" y="307.68" width="6.1" height="39.02" fill="#5fad62" stroke="#c4c4c4" stroke-width="0.45"/>
<rect x="477.92" y="330.44" width="6.1" height="16.26" fill="#2f7d3f" stroke="#c4c4c4" stroke-width="0.45"/>
<rect x="485.43" y="284.91" width="6.1" height="61.79" fill="#d4edd1" stroke="#c4c4c4" stroke-width="0.45"/>
<rect x="485.43" y="297.92" width="6.1" height="48.78" fill="#a5d89e" stroke="#c4c4c4" stroke-width="0.45"/>
<rect x="485.43" y="310.93" width="6.1" height="35.77" fill="#5fad62" stroke="#c4c4c4" stroke-width="0.45"/>
<rect x="485.43" y="330.44" width="6.1" height="16.26" fill="#2f7d3f" stroke="#c4c4c4" stroke-width="0.45"/>
<rect x="492.95" y="288.16" width="6.1" height="58.54" fill="#d4edd1" stroke="#c4c4c4" stroke-width="0.45"/>
<rect x="492.95" y="307.68" width="6.1" height="39.02" fill="#a5d89e" stroke="#c4c4c4" stroke-width="0.45"/>
<rect x="492.95" y="314.18" width="6.1" height="32.52" fill="#5fad62" stroke="#c4c4c4" stroke-width="0.45"/>
<rect x="492.95" y="330.44" width="6.1" height="16.26" fill="#2f7d3f" stroke="#c4c4c4" stroke-width="0.45"/>
<rect x="500.47" y="304.42" width="6.1" height="42.28" fill="#d4edd1" stroke="#c4c4c4" stroke-width="0.45"/>
<rect x="500.47" y="307.68" width="6.1" height="39.02" fill="#a5d89e" stroke="#c4c4c4" stroke-width="0.45"/>
<rect x="500.47" y="314.18" width="6.1" height="32.52" fill="#5fad62" stroke="#c4c4c4" stroke-width="0.45"/>
<rect x="500.47" y="330.44" width="6.1" height="16.26" fill="#2f7d3f" stroke="#c4c4c4" stroke-width="0.45"/>
<rect x="507.98" y="294.67" width="6.1" height="52.03" fill="#d4edd1" stroke="#c4c4c4" stroke-width="0.45"/>
<rect x="507.98" y="310.93" width="6.1" height="35.77" fill="#a5d89e" stroke="#c4c4c4" stroke-width="0.45"/>
<rect x="507.98" y="320.68" width="6.1" height="26.02" fill="#5fad62" stroke="#c4c4c4" stroke-width="0.45"/>
<rect x="507.98" y="333.69" width="6.1" height="13.01" fill="#2f7d3f" stroke="#c4c4c4" stroke-width="0.45"/>
<rect x="515.5" y="301.17" width="6.1" height="45.53" fill="#d4edd1" stroke="#c4c4c4" stroke-width="0.45"/>
<rect x="515.5" y="317.43" width="6.1" height="29.27" fill="#a5d89e" stroke="#c4c4c4" stroke-width="0.45"/>
<rect x="515.5" y="323.94" width="6.1" height="22.76" fill="#5fad62" stroke="#c4c4c4" stroke-width="0.45"/>
<rect x="515.5" y="333.69" width="6.1" height="13.01" fill="#2f7d3f" stroke="#c4c4c4" stroke-width="0.45"/>
<rect x="523.01" y="317.43" width="6.1" height="29.27" fill="#d4edd1" stroke="#c4c4c4" stroke-width="0.45"/>
<rect x="523.01" y="320.68" width="6.1" height="26.02" fill="#a5d89e" stroke="#c4c4c4" stroke-width="0.45"/>
<rect x="523.01" y="323.94" width="6.1" height="22.76" fill="#5fad62" stroke="#c4c4c4" stroke-width="0.45"/>
<rect x="523.01" y="333.69" width="6.1" height="13.01" fill="#2f7d3f" stroke="#c4c4c4" stroke-width="0.45"/>
<rect x="530.53" y="294.67" width="6.1" height="52.03" fill="#d4edd1" stroke="#c4c4c4" stroke-width="0.45"/>
<rect x="530.53" y="310.93" width="6.1" height="35.77" fill="#a5d89e" stroke="#c4c4c4" stroke-width="0.45"/>
<rect x="530.53" y="327.19" width="6.1" height="19.51" fill="#5fad62" stroke="#c4c4c4" stroke-width="0.45"/>
<rect x="530.53" y="333.69" width="6.1" height="13.01" fill="#2f7d3f" stroke="#c4c4c4" stroke-width="0.45"/>
<rect x="538.05" y="275.16" width="6.1" height="71.54" fill="#d4edd1" stroke="#c4c4c4" stroke-width="0.45"/>
<rect x="538.05" y="294.67" width="6.1" height="52.03" fill="#a5d89e" stroke="#c4c4c4" stroke-width="0.45"/>
<rect x="538.05" y="307.68" width="6.1" height="39.02" fill="#5fad62" stroke="#c4c4c4" stroke-width="0.45"/>
<rect x="538.05" y="336.94" width="6.1" height="9.76" fill="#2f7d3f" stroke="#c4c4c4" stroke-width="0.45"/>
<rect x="545.56" y="294.67" width="6.1" height="52.03" fill="#d4edd1" stroke="#c4c4c4" stroke-width="0.45"/>
<rect x="545.56" y="307.68" width="6.1" height="39.02" fill="#a5d89e" stroke="#c4c4c4" stroke-width="0.45"/>
<rect x="545.56" y="320.68" width="6.1" height="26.02" fill="#5fad62" stroke="#c4c4c4" stroke-width="0.45"/>
<rect x="545.56" y="336.94" width="6.1" height="9.76" fill="#2f7d3f" stroke="#c4c4c4" stroke-width="0.45"/>
<rect x="553.08" y="301.17" width="6.1" height="45.53" fill="#d4edd1" stroke="#c4c4c4" stroke-width="0.45"/>
<rect x="553.08" y="307.68" width="6.1" height="39.02" fill="#a5d89e" stroke="#c4c4c4" stroke-width="0.45"/>
<rect x="553.08" y="320.68" width="6.1" height="26.02" fill="#5fad62" stroke="#c4c4c4" stroke-width="0.45"/>
<rect x="553.08" y="336.94" width="6.1" height="9.76" fill="#2f7d3f" stroke="#c4c4c4" stroke-width="0.45"/>
<rect x="560.59" y="297.92" width="6.1" height="48.78" fill="#d4edd1" stroke="#c4c4c4" stroke-width="0.45"/>
<rect x="560.59" y="314.18" width="6.1" height="32.52" fill="#a5d89e" stroke="#c4c4c4" stroke-width="0.45"/>
<rect x="560.59" y="320.68" width="6.1" height="26.02" fill="#5fad62" stroke="#c4c4c4" stroke-width="0.45"/>
<rect x="560.59" y="336.94" width="6.1" height="9.76" fill="#2f7d3f" stroke="#c4c4c4" stroke-width="0.45"/>
<rect x="568.11" y="304.42" width="6.1" height="42.28" fill="#d4edd1" stroke="#c4c4c4" stroke-width="0.45"/>
<rect x="568.11" y="314.18" width="6.1" height="32.52" fill="#a5d89e" stroke="#c4c4c4" stroke-width="0.45"/>
<rect x="568.11" y="320.68" width="6.1" height="26.02" fill="#5fad62" stroke="#c4c4c4" stroke-width="0.45"/>
<rect x="568.11" y="336.94" width="6.1" height="9.76" fill="#2f7d3f" stroke="#c4c4c4" stroke-width="0.45"/>
<rect x="575.63" y="320.68" width="6.1" height="26.02" fill="#d4edd1" stroke="#c4c4c4" stroke-width="0.45"/>
<rect x="575.63" y="323.94" width="6.1" height="22.76" fill="#a5d89e" stroke="#c4c4c4" stroke-width="0.45"/>
<rect x="575.63" y="327.19" width="6.1" height="19.51" fill="#5fad62" stroke="#c4c4c4" stroke-width="0.45"/>
<rect x="575.63" y="336.94" width="6.1" height="9.76" fill="#2f7d3f" stroke="#c4c4c4" stroke-width="0.45"/>
<rect x="583.14" y="323.94" width="6.1" height="22.76" fill="#d4edd1" stroke="#c4c4c4" stroke-width="0.45"/>
<rect x="583.14" y="323.94" width="6.1" height="22.76" fill="#a5d89e" stroke="#c4c4c4" stroke-width="0.45"/>
<rect x="583.14" y="330.44" width="6.1" height="16.26" fill="#5fad62" stroke="#c4c4c4" stroke-width="0.45"/>
<rect x="583.14" y="336.94" width="6.1" height="9.76" fill="#2f7d3f" stroke="#c4c4c4" stroke-width="0.45"/>
<rect x="590.66" y="317.43" width="6.1" height="29.27" fill="#d4edd1" stroke="#c4c4c4" stroke-width="0.45"/>
<rect x="590.66" y="330.44" width="6.1" height="16.26" fill="#a5d89e" stroke="#c4c4c4" stroke-width="0.45"/>
<rect x="590.66" y="336.94" width="6.1" height="9.76" fill="#5fad62" stroke="#c4c4c4" stroke-width="0.45"/>
<rect x="590.66" y="336.94" width="6.1" height="9.76" fill="#2f7d3f" stroke="#c4c4c4" stroke-width="0.45"/>
<rect x="598.17" y="288.16" width="6.1" height="58.54" fill="#d4edd1" stroke="#c4c4c4" stroke-width="0.45"/>
<rect x="598.17" y="297.92" width="6.1" height="48.78" fill="#a5d89e" stroke="#c4c4c4" stroke-width="0.45"/>
<rect x="598.17" y="317.43" width="6.1" height="29.27" fill="#5fad62" stroke="#c4c4c4" stroke-width="0.45"/>
<rect x="598.17" y="340.2" width="6.1" height="6.5" fill="#2f7d3f" stroke="#c4c4c4" stroke-width="0.45"/>
<rect x="605.69" y="288.16" width="6.1" height="58.54" fill="#d4edd1" stroke="#c4c4c4" stroke-width="0.45"/>
<rect x="605.69" y="307.68" width="6.1" height="39.02" fill="#a5d89e" stroke="#c4c4c4" stroke-width="0.45"/>
<rect x="605.69" y="317.43" width="6.1" height="29.27" fill="#5fad62" stroke="#c4c4c4" stroke-width="0.45"/>
<rect x="605.69" y="340.2" width="6.1" height="6.5" fill="#2f7d3f" stroke="#c4c4c4" stroke-width="0.45"/>
<rect x="613.21" y="297.92" width="6.1" height="48.78" fill="#d4edd1" stroke="#c4c4c4" stroke-width="0.45"/>
<rect x="613.21" y="314.18" width="6.1" height="32.52" fill="#a5d89e" stroke="#c4c4c4" stroke-width="0.45"/>
<rect x="613.21" y="317.43" width="6.1" height="29.27" fill="#5fad62" stroke="#c4c4c4" stroke-width="0.45"/>
<rect x="613.21" y="340.2" width="6.1" height="6.5" fill="#2f7d3f" stroke="#c4c4c4" stroke-width="0.45"/>
<rect x="620.72" y="297.92" width="6.1" height="48.78" fill="#d4edd1" stroke="#c4c4c4" stroke-width="0.45"/>
<rect x="620.72" y="320.68" width="6.1" height="26.02" fill="#a5d89e" stroke="#c4c4c4" stroke-width="0.45"/>
<rect x="620.72" y="327.19" width="6.1" height="19.51" fill="#5fad62" stroke="#c4c4c4" stroke-width="0.45"/>
<rect x="620.72" y="340.2" width="6.1" height="6.5" fill="#2f7d3f" stroke="#c4c4c4" stroke-width="0.45"/>
<rect x="628.24" y="288.16" width="6.1" height="58.54" fill="#d4edd1" stroke="#c4c4c4" stroke-width="0.45"/>
<rect x="628.24" y="323.94" width="6.1" height="22.76" fill="#a5d89e" stroke="#c4c4c4" stroke-width="0.45"/>
<rect x="628.24" y="327.19" width="6.1" height="19.51" fill="#5fad62" stroke="#c4c4c4" stroke-width="0.45"/>
<rect x="628.24" y="340.2" width="6.1" height="6.5" fill="#2f7d3f" stroke="#c4c4c4" stroke-width="0.45"/>
<rect x="635.75" y="288.16" width="6.1" height="58.54" fill="#d4edd1" stroke="#c4c4c4" stroke-width="0.45"/>
<rect x="635.75" y="320.68" width="6.1" height="26.02" fill="#a5d89e" stroke="#c4c4c4" stroke-width="0.45"/>
<rect x="635.75" y="330.44" width="6.1" height="16.26" fill="#5fad62" stroke="#c4c4c4" stroke-width="0.45"/>
<rect x="635.75" y="340.2" width="6.1" height="6.5" fill="#2f7d3f" stroke="#c4c4c4" stroke-width="0.45"/>
<rect x="643.27" y="304.42" width="6.1" height="42.28" fill="#d4edd1" stroke="#c4c4c4" stroke-width="0.45"/>
<rect x="643.27" y="320.68" width="6.1" height="26.02" fill="#a5d89e" stroke="#c4c4c4" stroke-width="0.45"/>
<rect x="643.27" y="330.44" width="6.1" height="16.26" fill="#5fad62" stroke="#c4c4c4" stroke-width="0.45"/>
<rect x="643.27" y="340.2" width="6.1" height="6.5" fill="#2f7d3f" stroke="#c4c4c4" stroke-width="0.45"/>
<rect x="650.79" y="314.18" width="6.1" height="32.52" fill="#d4edd1" stroke="#c4c4c4" stroke-width="0.45"/>
<rect x="650.79" y="320.68" width="6.1" height="26.02" fill="#a5d89e" stroke="#c4c4c4" stroke-width="0.45"/>
<rect x="650.79" y="330.44" width="6.1" height="16.26" fill="#5fad62" stroke="#c4c4c4" stroke-width="0.45"/>
<rect x="650.79" y="340.2" width="6.1" height="6.5" fill="#2f7d3f" stroke="#c4c4c4" stroke-width="0.45"/>
<rect x="658.3" y="317.43" width="6.1" height="29.27" fill="#d4edd1" stroke="#c4c4c4" stroke-width="0.45"/>
<rect x="658.3" y="327.19" width="6.1" height="19.51" fill="#a5d89e" stroke="#c4c4c4" stroke-width="0.45"/>
<rect x="658.3" y="333.69" width="6.1" height="13.01" fill="#5fad62" stroke="#c4c4c4" stroke-width="0.45"/>
<rect x="658.3" y="340.2" width="6.1" height="6.5" fill="#2f7d3f" stroke="#c4c4c4" stroke-width="0.45"/>
<rect x="665.82" y="340.2" width="6.1" height="6.5" fill="#d4edd1" stroke="#c4c4c4" stroke-width="0.45"/>
<rect x="665.82" y="340.2" width="6.1" height="6.5" fill="#a5d89e" stroke="#c4c4c4" stroke-width="0.45"/>
<rect x="665.82" y="340.2" width="6.1" height="6.5" fill="#5fad62" stroke="#c4c4c4" stroke-width="0.45"/>
<rect x="665.82" y="340.2" width="6.1" height="6.5" fill="#2f7d3f" stroke="#c4c4c4" stroke-width="0.45"/>
<rect x="673.33" y="281.66" width="6.1" height="65.04" fill="#d4edd1" stroke="#c4c4c4" stroke-width="0.45"/>
<rect x="673.33" y="310.93" width="6.1" height="35.77" fill="#a5d89e" stroke="#c4c4c4" stroke-width="0.45"/>
<rect x="673.33" y="323.94" width="6.1" height="22.76" fill="#5fad62" stroke="#c4c4c4" stroke-width="0.45"/>
<rect x="673.33" y="343.45" width="6.1" height="3.25" fill="#2f7d3f" stroke="#c4c4c4" stroke-width="0.45"/>
<rect x="304.5" y="261.1" width="376.1" height="85.6" fill="none" stroke="#3a3a3a" stroke-width="0.9"/>
<line x1="302" y1="346.7" x2="304.5" y2="346.7" stroke="#3a3a3a" stroke-width="0.8" />
<text x="300.3" y="349.1" font-size="6.8" text-anchor="end" fill="#1a1a1a" stroke="#1a1a1a" stroke-width="0.1" >0</text>
<line x1="302" y1="330.44" x2="304.5" y2="330.44" stroke="#3a3a3a" stroke-width="0.8" />
<text x="300.3" y="332.84" font-size="6.8" text-anchor="end" fill="#1a1a1a" stroke="#1a1a1a" stroke-width="0.1" >5</text>
<line x1="302" y1="314.18" x2="304.5" y2="314.18" stroke="#3a3a3a" stroke-width="0.8" />
<text x="300.3" y="316.58" font-size="6.8" text-anchor="end" fill="#1a1a1a" stroke="#1a1a1a" stroke-width="0.1" >10</text>
<line x1="302" y1="297.92" x2="304.5" y2="297.92" stroke="#3a3a3a" stroke-width="0.8" />
<text x="300.3" y="300.32" font-size="6.8" text-anchor="end" fill="#1a1a1a" stroke="#1a1a1a" stroke-width="0.1" >15</text>
<line x1="302" y1="281.66" x2="304.5" y2="281.66" stroke="#3a3a3a" stroke-width="0.8" />
<text x="300.3" y="284.06" font-size="6.8" text-anchor="end" fill="#1a1a1a" stroke="#1a1a1a" stroke-width="0.1" >20</text>
<line x1="302" y1="265.4" x2="304.5" y2="265.4" stroke="#3a3a3a" stroke-width="0.8" />
<text x="300.3" y="267.8" font-size="6.8" text-anchor="end" fill="#1a1a1a" stroke="#1a1a1a" stroke-width="0.1" >25</text>
<text x="289.8" y="304.1" font-size="7" text-anchor="middle" fill="#1a1a1a" stroke="#1a1a1a" stroke-width="0.1" transform="rotate(-90 289.8 304.1)" textLength="60.6" lengthAdjust="spacingAndGlyphs">Number of samples</text>
<line x1="308.1" y1="346.7" x2="308.1" y2="348.7" stroke="#3a3a3a" stroke-width="0.7" />
<text x="310.5" y="350.9" font-size="6.9" text-anchor="end" fill="#1a1a1a" stroke="#1a1a1a" stroke-width="0.1" transform="rotate(-90 310.5 350.9)">age</text>
<line x1="315.62" y1="346.7" x2="315.62" y2="348.7" stroke="#3a3a3a" stroke-width="0.7" />
<text x="318.02" y="350.9" font-size="6.9" text-anchor="end" fill="#f00000" stroke="#f00000" stroke-width="0.1" transform="rotate(-90 318.02 350.9)">ITIH3</text>
<line x1="323.13" y1="346.7" x2="323.13" y2="348.7" stroke="#3a3a3a" stroke-width="0.7" />
<text x="325.53" y="350.9" font-size="6.9" text-anchor="end" fill="#1a1a1a" stroke="#1a1a1a" stroke-width="0.1" transform="rotate(-90 325.53 350.9)">basophils absolute</text>
<line x1="330.65" y1="346.7" x2="330.65" y2="348.7" stroke="#3a3a3a" stroke-width="0.7" />
<text x="333.05" y="350.9" font-size="6.9" text-anchor="end" fill="#1a1a1a" stroke="#1a1a1a" stroke-width="0.1" transform="rotate(-90 333.05 350.9)">APMAP</text>
<line x1="338.16" y1="346.7" x2="338.16" y2="348.7" stroke="#3a3a3a" stroke-width="0.7" />
<text x="340.56" y="350.9" font-size="6.9" text-anchor="end" fill="#1a1a1a" stroke="#1a1a1a" stroke-width="0.1" transform="rotate(-90 340.56 350.9)">AOC3</text>
<line x1="345.68" y1="346.7" x2="345.68" y2="348.7" stroke="#3a3a3a" stroke-width="0.7" />
<text x="348.08" y="350.9" font-size="6.9" text-anchor="end" fill="#1a1a1a" stroke="#1a1a1a" stroke-width="0.1" transform="rotate(-90 348.08 350.9)">bmi</text>
<line x1="353.2" y1="346.7" x2="353.2" y2="348.7" stroke="#3a3a3a" stroke-width="0.7" />
<text x="355.6" y="350.9" font-size="6.9" text-anchor="end" fill="#1a1a1a" stroke="#1a1a1a" stroke-width="0.1" transform="rotate(-90 355.6 350.9)">PEPD</text>
<line x1="360.71" y1="346.7" x2="360.71" y2="348.7" stroke="#3a3a3a" stroke-width="0.7" />
<text x="363.11" y="350.9" font-size="6.9" text-anchor="end" fill="#0000f0" stroke="#0000f0" stroke-width="0.1" transform="rotate(-90 363.11 350.9)">GSN</text>
<line x1="368.23" y1="346.7" x2="368.23" y2="348.7" stroke="#3a3a3a" stroke-width="0.7" />
<text x="370.63" y="350.9" font-size="6.9" text-anchor="end" fill="#1a1a1a" stroke="#1a1a1a" stroke-width="0.1" transform="rotate(-90 370.63 350.9)">systolic</text>
<line x1="375.74" y1="346.7" x2="375.74" y2="348.7" stroke="#3a3a3a" stroke-width="0.7" />
<text x="378.14" y="350.9" font-size="6.9" text-anchor="end" fill="#1a1a1a" stroke="#1a1a1a" stroke-width="0.1" transform="rotate(-90 378.14 350.9)">mcv</text>
<line x1="383.26" y1="346.7" x2="383.26" y2="348.7" stroke="#3a3a3a" stroke-width="0.7" />
<text x="385.66" y="350.9" font-size="6.9" text-anchor="end" fill="#1a1a1a" stroke="#1a1a1a" stroke-width="0.1" transform="rotate(-90 385.66 350.9)">hemoglobin</text>
<line x1="390.78" y1="346.7" x2="390.78" y2="348.7" stroke="#3a3a3a" stroke-width="0.7" />
<text x="393.18" y="350.9" font-size="6.9" text-anchor="end" fill="#f00000" stroke="#f00000" stroke-width="0.1" transform="rotate(-90 393.18 350.9)">ATRN</text>
<line x1="398.29" y1="346.7" x2="398.29" y2="348.7" stroke="#3a3a3a" stroke-width="0.7" />
<text x="400.69" y="350.9" font-size="6.9" text-anchor="end" fill="#f00000" stroke="#f00000" stroke-width="0.1" transform="rotate(-90 400.69 350.9)">C7</text>
<line x1="405.81" y1="346.7" x2="405.81" y2="348.7" stroke="#3a3a3a" stroke-width="0.7" />
<text x="408.21" y="350.9" font-size="6.9" text-anchor="end" fill="#f00000" stroke="#f00000" stroke-width="0.1" transform="rotate(-90 408.21 350.9)">PIGR</text>
<line x1="413.32" y1="346.7" x2="413.32" y2="348.7" stroke="#3a3a3a" stroke-width="0.7" />
<text x="415.72" y="350.9" font-size="6.9" text-anchor="end" fill="#f00000" stroke="#f00000" stroke-width="0.1" transform="rotate(-90 415.72 350.9)">FCGBP</text>
<line x1="420.84" y1="346.7" x2="420.84" y2="348.7" stroke="#3a3a3a" stroke-width="0.7" />
<text x="423.24" y="350.9" font-size="6.9" text-anchor="end" fill="#1a1a1a" stroke="#1a1a1a" stroke-width="0.1" transform="rotate(-90 423.24 350.9)">race__black_or_african_american</text>
<line x1="428.36" y1="346.7" x2="428.36" y2="348.7" stroke="#3a3a3a" stroke-width="0.7" />
<text x="430.76" y="350.9" font-size="6.9" text-anchor="end" fill="#1a1a1a" stroke="#1a1a1a" stroke-width="0.1" transform="rotate(-90 430.76 350.9)">hdl chol direct</text>
<line x1="435.87" y1="346.7" x2="435.87" y2="348.7" stroke="#3a3a3a" stroke-width="0.7" />
<text x="438.27" y="350.9" font-size="6.9" text-anchor="end" fill="#0000f0" stroke="#0000f0" stroke-width="0.1" transform="rotate(-90 438.27 350.9)">APOM</text>
<line x1="443.39" y1="346.7" x2="443.39" y2="348.7" stroke="#3a3a3a" stroke-width="0.7" />
<text x="445.79" y="350.9" font-size="6.9" text-anchor="end" fill="#1a1a1a" stroke="#1a1a1a" stroke-width="0.1" transform="rotate(-90 445.79 350.9)">chloride</text>
<line x1="450.9" y1="346.7" x2="450.9" y2="348.7" stroke="#3a3a3a" stroke-width="0.7" />
<text x="453.3" y="350.9" font-size="6.9" text-anchor="end" fill="#1a1a1a" stroke="#1a1a1a" stroke-width="0.1" transform="rotate(-90 453.3 350.9)">triglycerides</text>
<line x1="458.42" y1="346.7" x2="458.42" y2="348.7" stroke="#3a3a3a" stroke-width="0.7" />
<text x="460.82" y="350.9" font-size="6.9" text-anchor="end" fill="#1a1a1a" stroke="#1a1a1a" stroke-width="0.1" transform="rotate(-90 460.82 350.9)">magnesium</text>
<line x1="465.94" y1="346.7" x2="465.94" y2="348.7" stroke="#3a3a3a" stroke-width="0.7" />
<text x="468.34" y="350.9" font-size="6.9" text-anchor="end" fill="#f00000" stroke="#f00000" stroke-width="0.1" transform="rotate(-90 468.34 350.9)">SAA1</text>
<line x1="473.45" y1="346.7" x2="473.45" y2="348.7" stroke="#3a3a3a" stroke-width="0.7" />
<text x="475.85" y="350.9" font-size="6.9" text-anchor="end" fill="#1a1a1a" stroke="#1a1a1a" stroke-width="0.1" transform="rotate(-90 475.85 350.9)">cholesterol total</text>
<line x1="480.97" y1="346.7" x2="480.97" y2="348.7" stroke="#3a3a3a" stroke-width="0.7" />
<text x="483.37" y="350.9" font-size="6.9" text-anchor="end" fill="#f00000" stroke="#f00000" stroke-width="0.1" transform="rotate(-90 483.37 350.9)">C2</text>
<line x1="488.48" y1="346.7" x2="488.48" y2="348.7" stroke="#3a3a3a" stroke-width="0.7" />
<text x="490.88" y="350.9" font-size="6.9" text-anchor="end" fill="#f00000" stroke="#f00000" stroke-width="0.1" transform="rotate(-90 490.88 350.9)">PROS1</text>
<line x1="496" y1="346.7" x2="496" y2="348.7" stroke="#3a3a3a" stroke-width="0.7" />
<text x="498.4" y="350.9" font-size="6.9" text-anchor="end" fill="#f00000" stroke="#f00000" stroke-width="0.1" transform="rotate(-90 498.4 350.9)">BTD</text>
<line x1="503.52" y1="346.7" x2="503.52" y2="348.7" stroke="#3a3a3a" stroke-width="0.7" />
<text x="505.92" y="350.9" font-size="6.9" text-anchor="end" fill="#f00000" stroke="#f00000" stroke-width="0.1" transform="rotate(-90 505.92 350.9)">APOA4</text>
<line x1="511.03" y1="346.7" x2="511.03" y2="348.7" stroke="#3a3a3a" stroke-width="0.7" />
<text x="513.43" y="350.9" font-size="6.9" text-anchor="end" fill="#1a1a1a" stroke="#1a1a1a" stroke-width="0.1" transform="rotate(-90 513.43 350.9)">LYZ</text>
<line x1="518.55" y1="346.7" x2="518.55" y2="348.7" stroke="#3a3a3a" stroke-width="0.7" />
<text x="520.95" y="350.9" font-size="6.9" text-anchor="end" fill="#0000f0" stroke="#0000f0" stroke-width="0.1" transform="rotate(-90 520.95 350.9)">SHBG</text>
<line x1="526.06" y1="346.7" x2="526.06" y2="348.7" stroke="#3a3a3a" stroke-width="0.7" />
<text x="528.46" y="350.9" font-size="6.9" text-anchor="end" fill="#0000f0" stroke="#0000f0" stroke-width="0.1" transform="rotate(-90 528.46 350.9)">CETP</text>
<line x1="533.58" y1="346.7" x2="533.58" y2="348.7" stroke="#3a3a3a" stroke-width="0.7" />
<text x="535.98" y="350.9" font-size="6.9" text-anchor="end" fill="#1a1a1a" stroke="#1a1a1a" stroke-width="0.1" transform="rotate(-90 535.98 350.9)">IGFALS</text>
<line x1="541.1" y1="346.7" x2="541.1" y2="348.7" stroke="#3a3a3a" stroke-width="0.7" />
<text x="543.5" y="350.9" font-size="6.9" text-anchor="end" fill="#f00000" stroke="#f00000" stroke-width="0.1" transform="rotate(-90 543.5 350.9)">C3</text>
<line x1="548.61" y1="346.7" x2="548.61" y2="348.7" stroke="#3a3a3a" stroke-width="0.7" />
<text x="551.01" y="350.9" font-size="6.9" text-anchor="end" fill="#1a1a1a" stroke="#1a1a1a" stroke-width="0.1" transform="rotate(-90 551.01 350.9)">platelet count</text>
<line x1="556.13" y1="346.7" x2="556.13" y2="348.7" stroke="#3a3a3a" stroke-width="0.7" />
<text x="558.53" y="350.9" font-size="6.9" text-anchor="end" fill="#f00000" stroke="#f00000" stroke-width="0.1" transform="rotate(-90 558.53 350.9)">APOC2</text>
<line x1="563.64" y1="346.7" x2="563.64" y2="348.7" stroke="#3a3a3a" stroke-width="0.7" />
<text x="566.04" y="350.9" font-size="6.9" text-anchor="end" fill="#f00000" stroke="#f00000" stroke-width="0.1" transform="rotate(-90 566.04 350.9)">APOC3</text>
<line x1="571.16" y1="346.7" x2="571.16" y2="348.7" stroke="#3a3a3a" stroke-width="0.7" />
<text x="573.56" y="350.9" font-size="6.9" text-anchor="end" fill="#1a1a1a" stroke="#1a1a1a" stroke-width="0.1" transform="rotate(-90 573.56 350.9)">GPLD1</text>
<line x1="578.68" y1="346.7" x2="578.68" y2="348.7" stroke="#3a3a3a" stroke-width="0.7" />
<text x="581.08" y="350.9" font-size="6.9" text-anchor="end" fill="#1a1a1a" stroke="#1a1a1a" stroke-width="0.1" transform="rotate(-90 581.08 350.9)">CPN2</text>
<line x1="586.19" y1="346.7" x2="586.19" y2="348.7" stroke="#3a3a3a" stroke-width="0.7" />
<text x="588.59" y="350.9" font-size="6.9" text-anchor="end" fill="#f00000" stroke="#f00000" stroke-width="0.1" transform="rotate(-90 588.59 350.9)">C1QC</text>
<line x1="593.71" y1="346.7" x2="593.71" y2="348.7" stroke="#3a3a3a" stroke-width="0.7" />
<text x="596.11" y="350.9" font-size="6.9" text-anchor="end" fill="#1a1a1a" stroke="#1a1a1a" stroke-width="0.1" transform="rotate(-90 596.11 350.9)">lymphocytes absolute</text>
<line x1="601.22" y1="346.7" x2="601.22" y2="348.7" stroke="#3a3a3a" stroke-width="0.7" />
<text x="603.62" y="350.9" font-size="6.9" text-anchor="end" fill="#f00000" stroke="#f00000" stroke-width="0.1" transform="rotate(-90 603.62 350.9)">VTN</text>
<line x1="608.74" y1="346.7" x2="608.74" y2="348.7" stroke="#3a3a3a" stroke-width="0.7" />
<text x="611.14" y="350.9" font-size="6.9" text-anchor="end" fill="#1a1a1a" stroke="#1a1a1a" stroke-width="0.1" transform="rotate(-90 611.14 350.9)">B4GALT1</text>
<line x1="616.26" y1="346.7" x2="616.26" y2="348.7" stroke="#3a3a3a" stroke-width="0.7" />
<text x="618.66" y="350.9" font-size="6.9" text-anchor="end" fill="#f00000" stroke="#f00000" stroke-width="0.1" transform="rotate(-90 618.66 350.9)">APOC4</text>
<line x1="623.77" y1="346.7" x2="623.77" y2="348.7" stroke="#3a3a3a" stroke-width="0.7" />
<text x="626.17" y="350.9" font-size="6.9" text-anchor="end" fill="#f00000" stroke="#f00000" stroke-width="0.1" transform="rotate(-90 626.17 350.9)">QSOX1</text>
<line x1="631.29" y1="346.7" x2="631.29" y2="348.7" stroke="#3a3a3a" stroke-width="0.7" />
<text x="633.69" y="350.9" font-size="6.9" text-anchor="end" fill="#f00000" stroke="#f00000" stroke-width="0.1" transform="rotate(-90 633.69 350.9)">CFI</text>
<line x1="638.8" y1="346.7" x2="638.8" y2="348.7" stroke="#3a3a3a" stroke-width="0.7" />
<text x="641.2" y="350.9" font-size="6.9" text-anchor="end" fill="#1a1a1a" stroke="#1a1a1a" stroke-width="0.1" transform="rotate(-90 641.2 350.9)">diastolic</text>
<line x1="646.32" y1="346.7" x2="646.32" y2="348.7" stroke="#3a3a3a" stroke-width="0.7" />
<text x="648.72" y="350.9" font-size="6.9" text-anchor="end" fill="#f00000" stroke="#f00000" stroke-width="0.1" transform="rotate(-90 648.72 350.9)">APOA5</text>
<line x1="653.84" y1="346.7" x2="653.84" y2="348.7" stroke="#3a3a3a" stroke-width="0.7" />
<text x="656.24" y="350.9" font-size="6.9" text-anchor="end" fill="#1a1a1a" stroke="#1a1a1a" stroke-width="0.1" transform="rotate(-90 656.24 350.9)">neutrophils absolute</text>
<line x1="661.35" y1="346.7" x2="661.35" y2="348.7" stroke="#3a3a3a" stroke-width="0.7" />
<text x="663.75" y="350.9" font-size="6.9" text-anchor="end" fill="#f00000" stroke="#f00000" stroke-width="0.1" transform="rotate(-90 663.75 350.9)">C8A</text>
<line x1="668.87" y1="346.7" x2="668.87" y2="348.7" stroke="#3a3a3a" stroke-width="0.7" />
<text x="671.27" y="350.9" font-size="6.9" text-anchor="end" fill="#1a1a1a" stroke="#1a1a1a" stroke-width="0.1" transform="rotate(-90 671.27 350.9)">ALDOB</text>
<line x1="676.38" y1="346.7" x2="676.38" y2="348.7" stroke="#3a3a3a" stroke-width="0.7" />
<text x="678.78" y="350.9" font-size="6.9" text-anchor="end" fill="#1a1a1a" stroke="#1a1a1a" stroke-width="0.1" transform="rotate(-90 678.78 350.9)">CPB2</text>
<text x="0.5" y="472.9" font-size="21.5" text-anchor="start" fill="#1a1a1a" font-weight="bold">d</text>
<rect x="105.6" y="471.6" width="540.8" height="53" fill="#ffffff" />
<line x1="110.6" y1="471.6" x2="110.6" y2="524.6" stroke="#e6e6e6" stroke-width="0.5" />
<line x1="124.57" y1="471.6" x2="124.57" y2="524.6" stroke="#e6e6e6" stroke-width="0.5" />
<line x1="138.54" y1="471.6" x2="138.54" y2="524.6" stroke="#e6e6e6" stroke-width="0.5" />
<line x1="152.51" y1="471.6" x2="152.51" y2="524.6" stroke="#e6e6e6" stroke-width="0.5" />
<line x1="166.48" y1="471.6" x2="166.48" y2="524.6" stroke="#e6e6e6" stroke-width="0.5" />
<line x1="180.45" y1="471.6" x2="180.45" y2="524.6" stroke="#e6e6e6" stroke-width="0.5" />
<line x1="194.42" y1="471.6" x2="194.42" y2="524.6" stroke="#e6e6e6" stroke-width="0.5" />
<line x1="208.39" y1="471.6" x2="208.39" y2="524.6" stroke="#e6e6e6" stroke-width="0.5" />
<line x1="222.36" y1="471.6" x2="222.36" y2="524.6" stroke="#e6e6e6" stroke-width="0.5" />
<line x1="236.33" y1="471.6" x2="236.33" y2="524.6" stroke="#e6e6e6" stroke-width="0.5" />
<line x1="250.3" y1="471.6" x2="250.3" y2="524.6" stroke="#e6e6e6" stroke-width="0.5" />
<line x1="264.27" y1="471.6" x2="264.27" y2="524.6" stroke="#e6e6e6" stroke-width="0.5" />
<line x1="278.24" y1="471.6" x2="278.24" y2="524.6" stroke="#e6e6e6" stroke-width="0.5" />
<line x1="292.21" y1="471.6" x2="292.21" y2="524.6" stroke="#e6e6e6" stroke-width="0.5" />
<line x1="306.18" y1="471.6" x2="306.18" y2="524.6" stroke="#e6e6e6" stroke-width="0.5" />
<line x1="320.15" y1="471.6" x2="320.15" y2="524.6" stroke="#e6e6e6" stroke-width="0.5" />
<line x1="334.12" y1="471.6" x2="334.12" y2="524.6" stroke="#e6e6e6" stroke-width="0.5" />
<line x1="348.09" y1="471.6" x2="348.09" y2="524.6" stroke="#e6e6e6" stroke-width="0.5" />
<line x1="362.06" y1="471.6" x2="362.06" y2="524.6" stroke="#e6e6e6" stroke-width="0.5" />
<line x1="376.03" y1="471.6" x2="376.03" y2="524.6" stroke="#e6e6e6" stroke-width="0.5" />
<line x1="390" y1="471.6" x2="390" y2="524.6" stroke="#e6e6e6" stroke-width="0.5" />
<line x1="403.97" y1="471.6" x2="403.97" y2="524.6" stroke="#e6e6e6" stroke-width="0.5" />
<line x1="417.94" y1="471.6" x2="417.94" y2="524.6" stroke="#e6e6e6" stroke-width="0.5" />
<line x1="431.91" y1="471.6" x2="431.91" y2="524.6" stroke="#e6e6e6" stroke-width="0.5" />
<line x1="445.88" y1="471.6" x2="445.88" y2="524.6" stroke="#e6e6e6" stroke-width="0.5" />
<line x1="459.85" y1="471.6" x2="459.85" y2="524.6" stroke="#e6e6e6" stroke-width="0.5" />
<line x1="473.82" y1="471.6" x2="473.82" y2="524.6" stroke="#e6e6e6" stroke-width="0.5" />
<line x1="487.79" y1="471.6" x2="487.79" y2="524.6" stroke="#e6e6e6" stroke-width="0.5" />
<line x1="501.76" y1="471.6" x2="501.76" y2="524.6" stroke="#e6e6e6" stroke-width="0.5" />
<line x1="515.73" y1="471.6" x2="515.73" y2="524.6" stroke="#e6e6e6" stroke-width="0.5" />
<line x1="529.7" y1="471.6" x2="529.7" y2="524.6" stroke="#e6e6e6" stroke-width="0.5" />
<line x1="543.67" y1="471.6" x2="543.67" y2="524.6" stroke="#e6e6e6" stroke-width="0.5" />
<line x1="557.64" y1="471.6" x2="557.64" y2="524.6" stroke="#e6e6e6" stroke-width="0.5" />
<line x1="571.61" y1="471.6" x2="571.61" y2="524.6" stroke="#e6e6e6" stroke-width="0.5" />
<line x1="585.58" y1="471.6" x2="585.58" y2="524.6" stroke="#e6e6e6" stroke-width="0.5" />
<line x1="599.55" y1="471.6" x2="599.55" y2="524.6" stroke="#e6e6e6" stroke-width="0.5" />
<line x1="613.52" y1="471.6" x2="613.52" y2="524.6" stroke="#e6e6e6" stroke-width="0.5" />
<line x1="627.49" y1="471.6" x2="627.49" y2="524.6" stroke="#e6e6e6" stroke-width="0.5" />
<line x1="641.46" y1="471.6" x2="641.46" y2="524.6" stroke="#e6e6e6" stroke-width="0.5" />
<line x1="105.6" y1="476" x2="646.4" y2="476" stroke="#e6e6e6" stroke-width="0.5" />
<line x1="105.6" y1="481.56" x2="646.4" y2="481.56" stroke="#e6e6e6" stroke-width="0.5" />
<line x1="105.6" y1="487.12" x2="646.4" y2="487.12" stroke="#e6e6e6" stroke-width="0.5" />
<line x1="105.6" y1="492.68" x2="646.4" y2="492.68" stroke="#e6e6e6" stroke-width="0.5" />
<line x1="105.6" y1="498.24" x2="646.4" y2="498.24" stroke="#e6e6e6" stroke-width="0.5" />
<line x1="105.6" y1="503.8" x2="646.4" y2="503.8" stroke="#e6e6e6" stroke-width="0.5" />
<line x1="105.6" y1="509.36" x2="646.4" y2="509.36" stroke="#e6e6e6" stroke-width="0.5" />
<line x1="105.6" y1="514.92" x2="646.4" y2="514.92" stroke="#e6e6e6" stroke-width="0.5" />
<line x1="105.6" y1="520.48" x2="646.4" y2="520.48" stroke="#e6e6e6" stroke-width="0.5" />
<rect x="106.45" y="472.2" width="8.3" height="4.5" fill="#000000" />
<rect x="106.45" y="500" width="8.3" height="4.5" fill="#000000" />
<rect x="120.42" y="488.88" width="8.3" height="4.5" fill="#000000" />
<rect x="120.42" y="500" width="8.3" height="4.5" fill="#000000" />
<rect x="134.39" y="477.76" width="8.3" height="4.5" fill="#000000" />
<rect x="148.36" y="488.88" width="8.3" height="4.5" fill="#000000" />
<rect x="148.36" y="500" width="8.3" height="4.5" fill="#000000" />
<rect x="162.33" y="472.2" width="8.3" height="4.5" fill="#000000" />
<rect x="176.3" y="472.2" width="8.3" height="4.5" fill="#000000" />
<rect x="190.27" y="472.2" width="8.3" height="4.5" fill="#000000" />
<rect x="204.24" y="488.88" width="8.3" height="4.5" fill="#000000" />
<rect x="204.24" y="494.44" width="8.3" height="4.5" fill="#000000" />
<rect x="204.24" y="500" width="8.3" height="4.5" fill="#000000" />
<rect x="204.24" y="505.56" width="8.3" height="4.5" fill="#000000" />
<rect x="218.21" y="488.88" width="8.3" height="4.5" fill="#000000" />
<rect x="218.21" y="494.44" width="8.3" height="4.5" fill="#000000" />
<rect x="218.21" y="500" width="8.3" height="4.5" fill="#000000" />
<rect x="218.21" y="505.56" width="8.3" height="4.5" fill="#000000" />
<rect x="232.18" y="477.76" width="8.3" height="4.5" fill="#000000" />
<rect x="246.15" y="488.88" width="8.3" height="4.5" fill="#000000" />
<rect x="246.15" y="511.12" width="8.3" height="4.5" fill="#000000" />
<rect x="260.12" y="488.88" width="8.3" height="4.5" fill="#000000" />
<rect x="260.12" y="494.44" width="8.3" height="4.5" fill="#000000" />
<rect x="260.12" y="500" width="8.3" height="4.5" fill="#000000" />
<rect x="260.12" y="511.12" width="8.3" height="4.5" fill="#000000" />
<rect x="274.09" y="483.32" width="8.3" height="4.5" fill="#000000" />
<rect x="274.09" y="494.44" width="8.3" height="4.5" fill="#000000" />
<rect x="274.09" y="511.12" width="8.3" height="4.5" fill="#000000" />
<rect x="288.06" y="477.76" width="8.3" height="4.5" fill="#000000" />
<rect x="288.06" y="494.44" width="8.3" height="4.5" fill="#000000" />
<rect x="288.06" y="511.12" width="8.3" height="4.5" fill="#000000" />
<rect x="302.03" y="488.88" width="8.3" height="4.5" fill="#000000" />
<rect x="302.03" y="500" width="8.3" height="4.5" fill="#000000" />
<rect x="302.03" y="505.56" width="8.3" height="4.5" fill="#000000" />
<rect x="302.03" y="511.12" width="8.3" height="4.5" fill="#000000" />
<rect x="316" y="488.88" width="8.3" height="4.5" fill="#000000" />
<rect x="316" y="494.44" width="8.3" height="4.5" fill="#000000" />
<rect x="316" y="505.56" width="8.3" height="4.5" fill="#000000" />
<rect x="316" y="511.12" width="8.3" height="4.5" fill="#000000" />
<rect x="329.97" y="488.88" width="8.3" height="4.5" fill="#000000" />
<rect x="343.94" y="488.88" width="8.3" height="4.5" fill="#000000" />
<rect x="343.94" y="511.12" width="8.3" height="4.5" fill="#000000" />
<rect x="357.91" y="488.88" width="8.3" height="4.5" fill="#000000" />
<rect x="357.91" y="500" width="8.3" height="4.5" fill="#000000" />
<rect x="357.91" y="505.56" width="8.3" height="4.5" fill="#000000" />
<rect x="357.91" y="511.12" width="8.3" height="4.5" fill="#000000" />
<rect x="371.88" y="488.88" width="8.3" height="4.5" fill="#000000" />
<rect x="371.88" y="500" width="8.3" height="4.5" fill="#000000" />
<rect x="371.88" y="511.12" width="8.3" height="4.5" fill="#000000" />
<rect x="385.85" y="477.76" width="8.3" height="4.5" fill="#000000" />
<rect x="385.85" y="494.44" width="8.3" height="4.5" fill="#000000" />
<rect x="385.85" y="511.12" width="8.3" height="4.5" fill="#000000" />
<rect x="399.82" y="488.88" width="8.3" height="4.5" fill="#000000" />
<rect x="399.82" y="500" width="8.3" height="4.5" fill="#000000" />
<rect x="413.79" y="477.76" width="8.3" height="4.5" fill="#000000" />
<rect x="413.79" y="494.44" width="8.3" height="4.5" fill="#000000" />
<rect x="413.79" y="505.56" width="8.3" height="4.5" fill="#000000" />
<rect x="413.79" y="511.12" width="8.3" height="4.5" fill="#000000" />
<rect x="427.76" y="488.88" width="8.3" height="4.5" fill="#000000" />
<rect x="427.76" y="500" width="8.3" height="4.5" fill="#000000" />
<rect x="427.76" y="511.12" width="8.3" height="4.5" fill="#000000" />
<rect x="441.73" y="488.88" width="8.3" height="4.5" fill="#000000" />
<rect x="441.73" y="494.44" width="8.3" height="4.5" fill="#000000" />
<rect x="441.73" y="505.56" width="8.3" height="4.5" fill="#000000" />
<rect x="441.73" y="511.12" width="8.3" height="4.5" fill="#000000" />
<rect x="455.7" y="472.2" width="8.3" height="4.5" fill="#000000" />
<rect x="469.67" y="488.88" width="8.3" height="4.5" fill="#000000" />
<rect x="469.67" y="494.44" width="8.3" height="4.5" fill="#000000" />
<rect x="469.67" y="500" width="8.3" height="4.5" fill="#000000" />
<rect x="483.64" y="477.76" width="8.3" height="4.5" fill="#000000" />
<rect x="483.64" y="494.44" width="8.3" height="4.5" fill="#000000" />
<rect x="483.64" y="505.56" width="8.3" height="4.5" fill="#000000" />
<rect x="483.64" y="511.12" width="8.3" height="4.5" fill="#000000" />
<rect x="497.61" y="488.88" width="8.3" height="4.5" fill="#000000" />
<rect x="497.61" y="500" width="8.3" height="4.5" fill="#000000" />
<rect x="497.61" y="505.56" width="8.3" height="4.5" fill="#000000" />
<rect x="497.61" y="511.12" width="8.3" height="4.5" fill="#000000" />
<rect x="511.58" y="483.32" width="8.3" height="4.5" fill="#000000" />
<rect x="511.58" y="494.44" width="8.3" height="4.5" fill="#000000" />
<rect x="525.55" y="477.76" width="8.3" height="4.5" fill="#000000" />
<rect x="525.55" y="505.56" width="8.3" height="4.5" fill="#000000" />
<rect x="525.55" y="511.12" width="8.3" height="4.5" fill="#000000" />
<rect x="539.52" y="488.88" width="8.3" height="4.5" fill="#000000" />
<rect x="539.52" y="500" width="8.3" height="4.5" fill="#000000" />
<rect x="539.52" y="505.56" width="8.3" height="4.5" fill="#000000" />
<rect x="553.49" y="488.88" width="8.3" height="4.5" fill="#000000" />
<rect x="553.49" y="494.44" width="8.3" height="4.5" fill="#000000" />
<rect x="553.49" y="505.56" width="8.3" height="4.5" fill="#000000" />
<rect x="567.46" y="494.44" width="8.3" height="4.5" fill="#000000" />
<rect x="581.43" y="477.76" width="8.3" height="4.5" fill="#000000" />
<rect x="581.43" y="494.44" width="8.3" height="4.5" fill="#000000" />
<rect x="581.43" y="511.12" width="8.3" height="4.5" fill="#000000" />
<rect x="595.4" y="488.88" width="8.3" height="4.5" fill="#000000" />
<rect x="595.4" y="511.12" width="8.3" height="4.5" fill="#000000" />
<rect x="609.37" y="488.88" width="8.3" height="4.5" fill="#000000" />
<rect x="623.34" y="477.76" width="8.3" height="4.5" fill="#000000" />
<rect x="623.34" y="494.44" width="8.3" height="4.5" fill="#000000" />
<rect x="623.34" y="511.12" width="8.3" height="4.5" fill="#000000" />
<rect x="637.31" y="488.88" width="8.3" height="4.5" fill="#000000" />
<rect x="637.31" y="494.44" width="8.3" height="4.5" fill="#000000" />
<rect x="637.31" y="500" width="8.3" height="4.5" fill="#000000" />
<rect x="637.31" y="505.56" width="8.3" height="4.5" fill="#000000" />
<rect x="637.31" y="511.12" width="8.3" height="4.5" fill="#000000" />
<line x1="102.6" y1="476" x2="105.6" y2="476" stroke="#3a3a3a" stroke-width="0.7" />
<text x="101.3" y="478.4" font-size="6.9" text-anchor="end" fill="#111111" stroke="#111111" stroke-width="0.1" >Asian</text>
<line x1="102.6" y1="481.56" x2="105.6" y2="481.56" stroke="#3a3a3a" stroke-width="0.7" />
<text x="101.3" y="483.96" font-size="6.9" text-anchor="end" fill="#111111" stroke="#111111" stroke-width="0.1" >Black/AA</text>
<line x1="102.6" y1="487.12" x2="105.6" y2="487.12" stroke="#3a3a3a" stroke-width="0.7" />
<text x="101.3" y="489.52" font-size="6.9" text-anchor="end" fill="#111111" stroke="#111111" stroke-width="0.1" >Hispanic</text>
<line x1="102.6" y1="492.68" x2="105.6" y2="492.68" stroke="#3a3a3a" stroke-width="0.7" />
<text x="101.3" y="495.08" font-size="6.9" text-anchor="end" fill="#111111" stroke="#111111" stroke-width="0.1" >White</text>
<line x1="102.6" y1="498.24" x2="105.6" y2="498.24" stroke="#3a3a3a" stroke-width="0.7" />
<text x="101.3" y="500.64" font-size="6.9" text-anchor="end" fill="#111111" stroke="#111111" stroke-width="0.1" >Female</text>
<line x1="102.6" y1="503.8" x2="105.6" y2="503.8" stroke="#3a3a3a" stroke-width="0.7" />
<text x="101.3" y="506.2" font-size="6.9" text-anchor="end" fill="#111111" stroke="#111111" stroke-width="0.1" >Comorbidities</text>
<line x1="102.6" y1="509.36" x2="105.6" y2="509.36" stroke="#3a3a3a" stroke-width="0.7" />
<text x="101.3" y="511.76" font-size="6.9" text-anchor="end" fill="#111111" stroke="#111111" stroke-width="0.1" >Statins</text>
<line x1="102.6" y1="514.92" x2="105.6" y2="514.92" stroke="#3a3a3a" stroke-width="0.7" />
<text x="101.3" y="517.32" font-size="6.9" text-anchor="end" fill="#111111" stroke="#111111" stroke-width="0.1" >Hypertension Meds</text>
<line x1="102.6" y1="520.48" x2="105.6" y2="520.48" stroke="#3a3a3a" stroke-width="0.7" />
<text x="101.3" y="522.88" font-size="6.9" text-anchor="end" fill="#111111" stroke="#111111" stroke-width="0.1" >Diabetes Meds</text>
<rect x="105.6" y="471.6" width="540.8" height="53" fill="none" stroke="#6a6a6a" stroke-width="1"/>
<rect x="105.1" y="524.2" width="541.8" height="2.9" fill="#8e8e8e" />
<line x1="110.6" y1="524.6" x2="110.6" y2="526.2" stroke="#222" stroke-width="0.8" />
<line x1="124.57" y1="524.6" x2="124.57" y2="526.2" stroke="#222" stroke-width="0.8" />
<line x1="138.54" y1="524.6" x2="138.54" y2="526.2" stroke="#222" stroke-width="0.8" />
<line x1="152.51" y1="524.6" x2="152.51" y2="526.2" stroke="#222" stroke-width="0.8" />
<line x1="166.48" y1="524.6" x2="166.48" y2="526.2" stroke="#222" stroke-width="0.8" />
<line x1="180.45" y1="524.6" x2="180.45" y2="526.2" stroke="#222" stroke-width="0.8" />
<line x1="194.42" y1="524.6" x2="194.42" y2="526.2" stroke="#222" stroke-width="0.8" />
<line x1="208.39" y1="524.6" x2="208.39" y2="526.2" stroke="#222" stroke-width="0.8" />
<line x1="222.36" y1="524.6" x2="222.36" y2="526.2" stroke="#222" stroke-width="0.8" />
<line x1="236.33" y1="524.6" x2="236.33" y2="526.2" stroke="#222" stroke-width="0.8" />
<line x1="250.3" y1="524.6" x2="250.3" y2="526.2" stroke="#222" stroke-width="0.8" />
<line x1="264.27" y1="524.6" x2="264.27" y2="526.2" stroke="#222" stroke-width="0.8" />
<line x1="278.24" y1="524.6" x2="278.24" y2="526.2" stroke="#222" stroke-width="0.8" />
<line x1="292.21" y1="524.6" x2="292.21" y2="526.2" stroke="#222" stroke-width="0.8" />
<line x1="306.18" y1="524.6" x2="306.18" y2="526.2" stroke="#222" stroke-width="0.8" />
<line x1="320.15" y1="524.6" x2="320.15" y2="526.2" stroke="#222" stroke-width="0.8" />
<line x1="334.12" y1="524.6" x2="334.12" y2="526.2" stroke="#222" stroke-width="0.8" />
<line x1="348.09" y1="524.6" x2="348.09" y2="526.2" stroke="#222" stroke-width="0.8" />
<line x1="362.06" y1="524.6" x2="362.06" y2="526.2" stroke="#222" stroke-width="0.8" />
<line x1="376.03" y1="524.6" x2="376.03" y2="526.2" stroke="#222" stroke-width="0.8" />
<line x1="390" y1="524.6" x2="390" y2="526.2" stroke="#222" stroke-width="0.8" />
<line x1="403.97" y1="524.6" x2="403.97" y2="526.2" stroke="#222" stroke-width="0.8" />
<line x1="417.94" y1="524.6" x2="417.94" y2="526.2" stroke="#222" stroke-width="0.8" />
<line x1="431.91" y1="524.6" x2="431.91" y2="526.2" stroke="#222" stroke-width="0.8" />
<line x1="445.88" y1="524.6" x2="445.88" y2="526.2" stroke="#222" stroke-width="0.8" />
<line x1="459.85" y1="524.6" x2="459.85" y2="526.2" stroke="#222" stroke-width="0.8" />
<line x1="473.82" y1="524.6" x2="473.82" y2="526.2" stroke="#222" stroke-width="0.8" />
<line x1="487.79" y1="524.6" x2="487.79" y2="526.2" stroke="#222" stroke-width="0.8" />
<line x1="501.76" y1="524.6" x2="501.76" y2="526.2" stroke="#222" stroke-width="0.8" />
<line x1="515.73" y1="524.6" x2="515.73" y2="526.2" stroke="#222" stroke-width="0.8" />
<line x1="529.7" y1="524.6" x2="529.7" y2="526.2" stroke="#222" stroke-width="0.8" />
<line x1="543.67" y1="524.6" x2="543.67" y2="526.2" stroke="#222" stroke-width="0.8" />
<line x1="557.64" y1="524.6" x2="557.64" y2="526.2" stroke="#222" stroke-width="0.8" />
<line x1="571.61" y1="524.6" x2="571.61" y2="526.2" stroke="#222" stroke-width="0.8" />
<line x1="585.58" y1="524.6" x2="585.58" y2="526.2" stroke="#222" stroke-width="0.8" />
<line x1="599.55" y1="524.6" x2="599.55" y2="526.2" stroke="#222" stroke-width="0.8" />
<line x1="613.52" y1="524.6" x2="613.52" y2="526.2" stroke="#222" stroke-width="0.8" />
<line x1="627.49" y1="524.6" x2="627.49" y2="526.2" stroke="#222" stroke-width="0.8" />
<line x1="641.46" y1="524.6" x2="641.46" y2="526.2" stroke="#222" stroke-width="0.8" />
<line x1="110.6" y1="526.4" x2="110.6" y2="740" stroke="#e8e8e8" stroke-width="0.5" />
<line x1="124.57" y1="526.4" x2="124.57" y2="740" stroke="#e8e8e8" stroke-width="0.5" />
<line x1="138.54" y1="526.4" x2="138.54" y2="740" stroke="#e8e8e8" stroke-width="0.5" />
<line x1="152.51" y1="526.4" x2="152.51" y2="740" stroke="#e8e8e8" stroke-width="0.5" />
<line x1="166.48" y1="526.4" x2="166.48" y2="740" stroke="#e8e8e8" stroke-width="0.5" />
<line x1="180.45" y1="526.4" x2="180.45" y2="740" stroke="#e8e8e8" stroke-width="0.5" />
<line x1="194.42" y1="526.4" x2="194.42" y2="740" stroke="#e8e8e8" stroke-width="0.5" />
<line x1="208.39" y1="526.4" x2="208.39" y2="740" stroke="#e8e8e8" stroke-width="0.5" />
<line x1="222.36" y1="526.4" x2="222.36" y2="740" stroke="#e8e8e8" stroke-width="0.5" />
<line x1="236.33" y1="526.4" x2="236.33" y2="740" stroke="#e8e8e8" stroke-width="0.5" />
<line x1="250.3" y1="526.4" x2="250.3" y2="740" stroke="#e8e8e8" stroke-width="0.5" />
<line x1="264.27" y1="526.4" x2="264.27" y2="740" stroke="#e8e8e8" stroke-width="0.5" />
<line x1="278.24" y1="526.4" x2="278.24" y2="740" stroke="#e8e8e8" stroke-width="0.5" />
<line x1="292.21" y1="526.4" x2="292.21" y2="740" stroke="#e8e8e8" stroke-width="0.5" />
<line x1="306.18" y1="526.4" x2="306.18" y2="740" stroke="#e8e8e8" stroke-width="0.5" />
<line x1="320.15" y1="526.4" x2="320.15" y2="740" stroke="#e8e8e8" stroke-width="0.5" />
<line x1="334.12" y1="526.4" x2="334.12" y2="740" stroke="#e8e8e8" stroke-width="0.5" />
<line x1="348.09" y1="526.4" x2="348.09" y2="740" stroke="#e8e8e8" stroke-width="0.5" />
<line x1="362.06" y1="526.4" x2="362.06" y2="740" stroke="#e8e8e8" stroke-width="0.5" />
<line x1="376.03" y1="526.4" x2="376.03" y2="740" stroke="#e8e8e8" stroke-width="0.5" />
<line x1="390" y1="526.4" x2="390" y2="740" stroke="#e8e8e8" stroke-width="0.5" />
<line x1="403.97" y1="526.4" x2="403.97" y2="740" stroke="#e8e8e8" stroke-width="0.5" />
<line x1="417.94" y1="526.4" x2="417.94" y2="740" stroke="#e8e8e8" stroke-width="0.5" />
<line x1="431.91" y1="526.4" x2="431.91" y2="740" stroke="#e8e8e8" stroke-width="0.5" />
<line x1="445.88" y1="526.4" x2="445.88" y2="740" stroke="#e8e8e8" stroke-width="0.5" />
<line x1="459.85" y1="526.4" x2="459.85" y2="740" stroke="#e8e8e8" stroke-width="0.5" />
<line x1="473.82" y1="526.4" x2="473.82" y2="740" stroke="#e8e8e8" stroke-width="0.5" />
<line x1="487.79" y1="526.4" x2="487.79" y2="740" stroke="#e8e8e8" stroke-width="0.5" />
<line x1="501.76" y1="526.4" x2="501.76" y2="740" stroke="#e8e8e8" stroke-width="0.5" />
<line x1="515.73" y1="526.4" x2="515.73" y2="740" stroke="#e8e8e8" stroke-width="0.5" />
<line x1="529.7" y1="526.4" x2="529.7" y2="740" stroke="#e8e8e8" stroke-width="0.5" />
<line x1="543.67" y1="526.4" x2="543.67" y2="740" stroke="#e8e8e8" stroke-width="0.5" />
<line x1="557.64" y1="526.4" x2="557.64" y2="740" stroke="#e8e8e8" stroke-width="0.5" />
<line x1="571.61" y1="526.4" x2="571.61" y2="740" stroke="#e8e8e8" stroke-width="0.5" />
<line x1="585.58" y1="526.4" x2="585.58" y2="740" stroke="#e8e8e8" stroke-width="0.5" />
<line x1="599.55" y1="526.4" x2="599.55" y2="740" stroke="#e8e8e8" stroke-width="0.5" />
<line x1="613.52" y1="526.4" x2="613.52" y2="740" stroke="#e8e8e8" stroke-width="0.5" />
<line x1="627.49" y1="526.4" x2="627.49" y2="740" stroke="#e8e8e8" stroke-width="0.5" />
<line x1="641.46" y1="526.4" x2="641.46" y2="740" stroke="#e8e8e8" stroke-width="0.5" />
<line x1="105.6" y1="536.4" x2="646.4" y2="536.4" stroke="#e8e8e8" stroke-width="0.5" />
<line x1="105.6" y1="546.1" x2="646.4" y2="546.1" stroke="#e8e8e8" stroke-width="0.5" />
<line x1="105.6" y1="555.8" x2="646.4" y2="555.8" stroke="#e8e8e8" stroke-width="0.5" />
<line x1="105.6" y1="565.5" x2="646.4" y2="565.5" stroke="#e8e8e8" stroke-width="0.5" />
<line x1="105.6" y1="575.2" x2="646.4" y2="575.2" stroke="#e8e8e8" stroke-width="0.5" />
<line x1="105.6" y1="584.9" x2="646.4" y2="584.9" stroke="#e8e8e8" stroke-width="0.5" />
<line x1="105.6" y1="594.6" x2="646.4" y2="594.6" stroke="#e8e8e8" stroke-width="0.5" />
<line x1="105.6" y1="604.3" x2="646.4" y2="604.3" stroke="#e8e8e8" stroke-width="0.5" />
<line x1="105.6" y1="614" x2="646.4" y2="614" stroke="#e8e8e8" stroke-width="0.5" />
<line x1="105.6" y1="623.7" x2="646.4" y2="623.7" stroke="#e8e8e8" stroke-width="0.5" />
<line x1="105.6" y1="633.4" x2="646.4" y2="633.4" stroke="#e8e8e8" stroke-width="0.5" />
<line x1="105.6" y1="643.1" x2="646.4" y2="643.1" stroke="#e8e8e8" stroke-width="0.5" />
<line x1="105.6" y1="652.8" x2="646.4" y2="652.8" stroke="#e8e8e8" stroke-width="0.5" />
<line x1="105.6" y1="662.5" x2="646.4" y2="662.5" stroke="#e8e8e8" stroke-width="0.5" />
<line x1="105.6" y1="672.2" x2="646.4" y2="672.2" stroke="#e8e8e8" stroke-width="0.5" />
<line x1="105.6" y1="681.9" x2="646.4" y2="681.9" stroke="#e8e8e8" stroke-width="0.5" />
<line x1="105.6" y1="691.6" x2="646.4" y2="691.6" stroke="#e8e8e8" stroke-width="0.5" />
<line x1="105.6" y1="701.3" x2="646.4" y2="701.3" stroke="#e8e8e8" stroke-width="0.5" />
<line x1="105.6" y1="711" x2="646.4" y2="711" stroke="#e8e8e8" stroke-width="0.5" />
<line x1="105.6" y1="720.7" x2="646.4" y2="720.7" stroke="#e8e8e8" stroke-width="0.5" />
<line x1="105.6" y1="730.4" x2="646.4" y2="730.4" stroke="#e8e8e8" stroke-width="0.5" />
<circle cx="110.6" cy="536.4" r="1.0" fill="#c9d4dc" stroke="#8a8a8a" stroke-width="0.3"/>
<circle cx="124.57" cy="536.4" r="1.0" fill="#78a8cc" stroke="#8a8a8a" stroke-width="0.3"/>
<circle cx="138.54" cy="536.4" r="1.0" fill="#c9d4dc" stroke="#8a8a8a" stroke-width="0.3"/>
<circle cx="152.51" cy="536.4" r="1.0" fill="#c9d4dc" stroke="#8a8a8a" stroke-width="0.3"/>
<circle cx="166.48" cy="536.4" r="1.0" fill="#c9d4dc" stroke="#8a8a8a" stroke-width="0.3"/>
<circle cx="180.45" cy="536.4" r="1.0" fill="#c9d4dc" stroke="#8a8a8a" stroke-width="0.3"/>
<circle cx="194.42" cy="536.4" r="1.0" fill="#c9d4dc" stroke="#8a8a8a" stroke-width="0.3"/>
<circle cx="208.39" cy="536.4" r="1.0" fill="#c9d4dc" stroke="#8a8a8a" stroke-width="0.3"/>
<circle cx="222.36" cy="536.4" r="1.0" fill="#c9d4dc" stroke="#8a8a8a" stroke-width="0.3"/>
<circle cx="236.33" cy="536.4" r="1.8" fill="#f9efe9" fill-opacity="0.8" stroke="#606060" stroke-opacity="0.8" stroke-width="0.45"/>
<circle cx="250.3" cy="536.4" r="1.0" fill="#c9d4dc" stroke="#8a8a8a" stroke-width="0.3"/>
<circle cx="264.27" cy="536.4" r="1.8" fill="#f9eee7" fill-opacity="0.8" stroke="#606060" stroke-opacity="0.8" stroke-width="0.45"/>
<circle cx="278.24" cy="536.4" r="4.1" fill="#dc6e58" fill-opacity="0.8" stroke="#606060" stroke-opacity="0.8" stroke-width="0.45"/>
<circle cx="292.21" cy="536.4" r="5.3" fill="#780522" fill-opacity="0.8" stroke="#606060" stroke-opacity="0.8" stroke-width="0.45"/>
<circle cx="306.18" cy="536.4" r="1.0" fill="#c9d4dc" stroke="#8a8a8a" stroke-width="0.3"/>
<circle cx="320.15" cy="536.4" r="1.0" fill="#c9d4dc" stroke="#8a8a8a" stroke-width="0.3"/>
<circle cx="334.12" cy="536.4" r="1.0" fill="#c9d4dc" stroke="#8a8a8a" stroke-width="0.3"/>
<circle cx="348.09" cy="536.4" r="1.0" fill="#c9d4dc" stroke="#8a8a8a" stroke-width="0.3"/>
<circle cx="362.06" cy="536.4" r="1.0" fill="#c9d4dc" stroke="#8a8a8a" stroke-width="0.3"/>
<circle cx="376.03" cy="536.4" r="2.7" fill="#fbcfb7" fill-opacity="0.8" stroke="#606060" stroke-opacity="0.8" stroke-width="0.45"/>
<circle cx="390" cy="536.4" r="2.5" fill="#fdd9c4" fill-opacity="0.8" stroke="#606060" stroke-opacity="0.8" stroke-width="0.45"/>
<circle cx="403.97" cy="536.4" r="3.9" fill="#e58268" fill-opacity="0.8" stroke="#606060" stroke-opacity="0.8" stroke-width="0.45"/>
<circle cx="417.94" cy="536.4" r="3.5" fill="#f5ae8d" fill-opacity="0.8" stroke="#606060" stroke-opacity="0.8" stroke-width="0.45"/>
<circle cx="431.91" cy="536.4" r="1.0" fill="#c9d4dc" stroke="#8a8a8a" stroke-width="0.3"/>
<circle cx="445.88" cy="536.4" r="1.0" fill="#c9d4dc" stroke="#8a8a8a" stroke-width="0.3"/>
<circle cx="459.85" cy="536.4" r="1.0" fill="#c9d4dc" stroke="#8a8a8a" stroke-width="0.3"/>
<circle cx="473.82" cy="536.4" r="1.0" fill="#c9d4dc" stroke="#8a8a8a" stroke-width="0.3"/>
<circle cx="487.79" cy="536.4" r="1.0" fill="#c9d4dc" stroke="#8a8a8a" stroke-width="0.3"/>
<circle cx="501.76" cy="536.4" r="1.0" fill="#c9d4dc" stroke="#8a8a8a" stroke-width="0.3"/>
<circle cx="515.73" cy="536.4" r="1.8" fill="#f9ede7" fill-opacity="0.8" stroke="#606060" stroke-opacity="0.8" stroke-width="0.45"/>
<circle cx="529.7" cy="536.4" r="1.6" fill="#f8f2ee" fill-opacity="0.8" stroke="#606060" stroke-opacity="0.8" stroke-width="0.45"/>
<circle cx="543.67" cy="536.4" r="2.5" fill="#fcd8c3" fill-opacity="0.8" stroke="#606060" stroke-opacity="0.8" stroke-width="0.45"/>
<circle cx="557.64" cy="536.4" r="2" fill="#fae8de" fill-opacity="0.8" stroke="#606060" stroke-opacity="0.8" stroke-width="0.45"/>
<circle cx="571.61" cy="536.4" r="4.1" fill="#e58268" fill-opacity="0.8" stroke="#606060" stroke-opacity="0.8" stroke-width="0.45"/>
<circle cx="585.58" cy="536.4" r="3.9" fill="#e7876b" fill-opacity="0.8" stroke="#606060" stroke-opacity="0.8" stroke-width="0.45"/>
<circle cx="599.55" cy="536.4" r="3.9" fill="#e6866a" fill-opacity="0.8" stroke="#606060" stroke-opacity="0.8" stroke-width="0.45"/>
<circle cx="613.52" cy="536.4" r="5.9" fill="#780522" fill-opacity="0.8" stroke="#606060" stroke-opacity="0.8" stroke-width="0.45"/>
<circle cx="627.49" cy="536.4" r="4.9" fill="#c03338" fill-opacity="0.8" stroke="#606060" stroke-opacity="0.8" stroke-width="0.45"/>
<circle cx="641.46" cy="536.4" r="4.9" fill="#b2182b" fill-opacity="0.8" stroke="#606060" stroke-opacity="0.8" stroke-width="0.45"/>
<circle cx="110.6" cy="546.1" r="3.5" fill="#fbccb4" fill-opacity="0.8" stroke="#606060" stroke-opacity="0.8" stroke-width="0.45"/>
<circle cx="124.57" cy="546.1" r="4.3" fill="#e0775f" fill-opacity="0.8" stroke="#606060" stroke-opacity="0.8" stroke-width="0.45"/>
<circle cx="138.54" cy="546.1" r="1.0" fill="#c9d4dc" stroke="#8a8a8a" stroke-width="0.3"/>
<circle cx="152.51" cy="546.1" r="1.0" fill="#78a8cc" stroke="#8a8a8a" stroke-width="0.3"/>
<circle cx="166.48" cy="546.1" r="1.0" fill="#78a8cc" stroke="#8a8a8a" stroke-width="0.3"/>
<circle cx="180.45" cy="546.1" r="1.0" fill="#78a8cc" stroke="#8a8a8a" stroke-width="0.3"/>
<circle cx="194.42" cy="546.1" r="1.0" fill="#78a8cc" stroke="#8a8a8a" stroke-width="0.3"/>
<circle cx="208.39" cy="546.1" r="3.3" fill="#fcdfce" fill-opacity="0.8" stroke="#606060" stroke-opacity="0.8" stroke-width="0.45"/>
<circle cx="222.36" cy="546.1" r="2.9" fill="#f1f4f6" fill-opacity="0.8" stroke="#606060" stroke-opacity="0.8" stroke-width="0.45"/>
<circle cx="236.33" cy="546.1" r="1.0" fill="#c9d4dc" stroke="#8a8a8a" stroke-width="0.3"/>
<circle cx="250.3" cy="546.1" r="4.9" fill="#c03338" fill-opacity="0.8" stroke="#606060" stroke-opacity="0.8" stroke-width="0.45"/>
<circle cx="264.27" cy="546.1" r="3.7" fill="#fddcc9" fill-opacity="0.8" stroke="#606060" stroke-opacity="0.8" stroke-width="0.45"/>
<circle cx="278.24" cy="546.1" r="3.5" fill="#fddcc9" fill-opacity="0.8" stroke="#606060" stroke-opacity="0.8" stroke-width="0.45"/>
<circle cx="292.21" cy="546.1" r="1.0" fill="#78a8cc" stroke="#8a8a8a" stroke-width="0.3"/>
<circle cx="306.18" cy="546.1" r="4.9" fill="#c03338" fill-opacity="0.8" stroke="#606060" stroke-opacity="0.8" stroke-width="0.45"/>
<circle cx="320.15" cy="546.1" r="3.5" fill="#fddcc9" fill-opacity="0.8" stroke="#606060" stroke-opacity="0.8" stroke-width="0.45"/>
<circle cx="334.12" cy="546.1" r="2.5" fill="#deebf2" fill-opacity="0.8" stroke="#606060" stroke-opacity="0.8" stroke-width="0.45"/>
<circle cx="348.09" cy="546.1" r="4.3" fill="#e27b62" fill-opacity="0.8" stroke="#606060" stroke-opacity="0.8" stroke-width="0.45"/>
<circle cx="362.06" cy="546.1" r="4.9" fill="#c33a3b" fill-opacity="0.8" stroke="#606060" stroke-opacity="0.8" stroke-width="0.45"/>
<circle cx="376.03" cy="546.1" r="3.7" fill="#fddcc9" fill-opacity="0.8" stroke="#606060" stroke-opacity="0.8" stroke-width="0.45"/>
<circle cx="390" cy="546.1" r="2.2" fill="#deebf2" fill-opacity="0.8" stroke="#606060" stroke-opacity="0.8" stroke-width="0.45"/>
<circle cx="403.97" cy="546.1" r="2.5" fill="#f1f4f6" fill-opacity="0.8" stroke="#606060" stroke-opacity="0.8" stroke-width="0.45"/>
<circle cx="417.94" cy="546.1" r="3.9" fill="#facbb3" fill-opacity="0.8" stroke="#606060" stroke-opacity="0.8" stroke-width="0.45"/>
<circle cx="431.91" cy="546.1" r="4.5" fill="#d96752" fill-opacity="0.8" stroke="#606060" stroke-opacity="0.8" stroke-width="0.45"/>
<circle cx="445.88" cy="546.1" r="4.3" fill="#e98b6e" fill-opacity="0.8" stroke="#606060" stroke-opacity="0.8" stroke-width="0.45"/>
<circle cx="459.85" cy="546.1" r="3.1" fill="#fae9df" fill-opacity="0.8" stroke="#606060" stroke-opacity="0.8" stroke-width="0.45"/>
<circle cx="473.82" cy="546.1" r="3.3" fill="#fdddcb" fill-opacity="0.8" stroke="#606060" stroke-opacity="0.8" stroke-width="0.45"/>
<circle cx="487.79" cy="546.1" r="4.7" fill="#d05448" fill-opacity="0.8" stroke="#606060" stroke-opacity="0.8" stroke-width="0.45"/>
<circle cx="501.76" cy="546.1" r="5.3" fill="#b1182b" fill-opacity="0.8" stroke="#606060" stroke-opacity="0.8" stroke-width="0.45"/>
<circle cx="515.73" cy="546.1" r="1.0" fill="#78a8cc" stroke="#8a8a8a" stroke-width="0.3"/>
<circle cx="529.7" cy="546.1" r="1.6" fill="#deebf2" fill-opacity="0.8" stroke="#606060" stroke-opacity="0.8" stroke-width="0.45"/>
<circle cx="543.67" cy="546.1" r="4.9" fill="#d96752" fill-opacity="0.8" stroke="#606060" stroke-opacity="0.8" stroke-width="0.45"/>
<circle cx="557.64" cy="546.1" r="4.7" fill="#dd715a" fill-opacity="0.8" stroke="#606060" stroke-opacity="0.8" stroke-width="0.45"/>
<circle cx="571.61" cy="546.1" r="2" fill="#deebf2" fill-opacity="0.8" stroke="#606060" stroke-opacity="0.8" stroke-width="0.45"/>
<circle cx="585.58" cy="546.1" r="2.5" fill="#deebf2" fill-opacity="0.8" stroke="#606060" stroke-opacity="0.8" stroke-width="0.45"/>
<circle cx="599.55" cy="546.1" r="4.5" fill="#e27b62" fill-opacity="0.8" stroke="#606060" stroke-opacity="0.8" stroke-width="0.45"/>
<circle cx="613.52" cy="546.1" r="1.0" fill="#78a8cc" stroke="#8a8a8a" stroke-width="0.3"/>
<circle cx="627.49" cy="546.1" r="3.5" fill="#fddcc8" fill-opacity="0.8" stroke="#606060" stroke-opacity="0.8" stroke-width="0.45"/>
<circle cx="641.46" cy="546.1" r="2.7" fill="#deebf2" fill-opacity="0.8" stroke="#606060" stroke-opacity="0.8" stroke-width="0.45"/>
<circle cx="110.6" cy="555.8" r="1.0" fill="#3d70a8" stroke="#8a8a8a" stroke-width="0.3"/>
<circle cx="124.57" cy="555.8" r="1.0" fill="#c9d4dc" stroke="#8a8a8a" stroke-width="0.3"/>
<circle cx="138.54" cy="555.8" r="1.0" fill="#c9d4dc" stroke="#8a8a8a" stroke-width="0.3"/>
<circle cx="152.51" cy="555.8" r="1.0" fill="#c9d4dc" stroke="#8a8a8a" stroke-width="0.3"/>
<circle cx="166.48" cy="555.8" r="1.0" fill="#c9d4dc" stroke="#8a8a8a" stroke-width="0.3"/>
<circle cx="180.45" cy="555.8" r="1.0" fill="#c9d4dc" stroke="#8a8a8a" stroke-width="0.3"/>
<circle cx="194.42" cy="555.8" r="1.0" fill="#c9d4dc" stroke="#8a8a8a" stroke-width="0.3"/>
<circle cx="208.39" cy="555.8" r="1.0" fill="#c9d4dc" stroke="#8a8a8a" stroke-width="0.3"/>
<circle cx="222.36" cy="555.8" r="1.0" fill="#c9d4dc" stroke="#8a8a8a" stroke-width="0.3"/>
<circle cx="236.33" cy="555.8" r="1.0" fill="#78a8cc" stroke="#8a8a8a" stroke-width="0.3"/>
<circle cx="250.3" cy="555.8" r="1.0" fill="#c9d4dc" stroke="#8a8a8a" stroke-width="0.3"/>
<circle cx="264.27" cy="555.8" r="1.0" fill="#78a8cc" stroke="#8a8a8a" stroke-width="0.3"/>
<circle cx="278.24" cy="555.8" r="1.0" fill="#c9d4dc" stroke="#8a8a8a" stroke-width="0.3"/>
<circle cx="292.21" cy="555.8" r="3.1" fill="#67001f" fill-opacity="0.8" stroke="#606060" stroke-opacity="0.8" stroke-width="0.45"/>
<circle cx="306.18" cy="555.8" r="1.0" fill="#c9d4dc" stroke="#8a8a8a" stroke-width="0.3"/>
<circle cx="320.15" cy="555.8" r="1.0" fill="#c9d4dc" stroke="#8a8a8a" stroke-width="0.3"/>
<circle cx="334.12" cy="555.8" r="2.5" fill="#b51e2e" fill-opacity="0.8" stroke="#606060" stroke-opacity="0.8" stroke-width="0.45"/>
<circle cx="348.09" cy="555.8" r="1.0" fill="#c9d4dc" stroke="#8a8a8a" stroke-width="0.3"/>
<circle cx="362.06" cy="555.8" r="1.0" fill="#c9d4dc" stroke="#8a8a8a" stroke-width="0.3"/>
<circle cx="376.03" cy="555.8" r="1.0" fill="#c9d4dc" stroke="#8a8a8a" stroke-width="0.3"/>
<circle cx="390" cy="555.8" r="1.0" fill="#c9d4dc" stroke="#8a8a8a" stroke-width="0.3"/>
<circle cx="403.97" cy="555.8" r="1.0" fill="#c9d4dc" stroke="#8a8a8a" stroke-width="0.3"/>
<circle cx="417.94" cy="555.8" r="1.0" fill="#c9d4dc" stroke="#8a8a8a" stroke-width="0.3"/>
<circle cx="431.91" cy="555.8" r="1.0" fill="#78a8cc" stroke="#8a8a8a" stroke-width="0.3"/>
<circle cx="445.88" cy="555.8" r="2" fill="#dd715a" fill-opacity="0.8" stroke="#606060" stroke-opacity="0.8" stroke-width="0.45"/>
<circle cx="459.85" cy="555.8" r="2" fill="#dd715a" fill-opacity="0.8" stroke="#606060" stroke-opacity="0.8" stroke-width="0.45"/>
<circle cx="473.82" cy="555.8" r="2.2" fill="#c6403e" fill-opacity="0.8" stroke="#606060" stroke-opacity="0.8" stroke-width="0.45"/>
<circle cx="487.79" cy="555.8" r="2" fill="#dd715a" fill-opacity="0.8" stroke="#606060" stroke-opacity="0.8" stroke-width="0.45"/>
<circle cx="501.76" cy="555.8" r="2.2" fill="#d15548" fill-opacity="0.8" stroke="#606060" stroke-opacity="0.8" stroke-width="0.45"/>
<circle cx="515.73" cy="555.8" r="3.5" fill="#67001f" fill-opacity="0.8" stroke="#606060" stroke-opacity="0.8" stroke-width="0.45"/>
<circle cx="529.7" cy="555.8" r="2" fill="#dd715a" fill-opacity="0.8" stroke="#606060" stroke-opacity="0.8" stroke-width="0.45"/>
<circle cx="543.67" cy="555.8" r="1.0" fill="#c9d4dc" stroke="#8a8a8a" stroke-width="0.3"/>
<circle cx="557.64" cy="555.8" r="2.2" fill="#d15548" fill-opacity="0.8" stroke="#606060" stroke-opacity="0.8" stroke-width="0.45"/>
<circle cx="571.61" cy="555.8" r="1.0" fill="#c9d4dc" stroke="#8a8a8a" stroke-width="0.3"/>
<circle cx="585.58" cy="555.8" r="2.2" fill="#c7423f" fill-opacity="0.8" stroke="#606060" stroke-opacity="0.8" stroke-width="0.45"/>
<circle cx="599.55" cy="555.8" r="1.0" fill="#c9d4dc" stroke="#8a8a8a" stroke-width="0.3"/>
<circle cx="613.52" cy="555.8" r="1.8" fill="#f5ae8d" fill-opacity="0.8" stroke="#606060" stroke-opacity="0.8" stroke-width="0.45"/>
<circle cx="627.49" cy="555.8" r="1.8" fill="#f5ae8d" fill-opacity="0.8" stroke="#606060" stroke-opacity="0.8" stroke-width="0.45"/>
<circle cx="641.46" cy="555.8" r="2" fill="#dd715a" fill-opacity="0.8" stroke="#606060" stroke-opacity="0.8" stroke-width="0.45"/>
<circle cx="110.6" cy="565.5" r="1.0" fill="#c9d4dc" stroke="#8a8a8a" stroke-width="0.3"/>
<circle cx="124.57" cy="565.5" r="2.9" fill="#fbccb4" fill-opacity="0.8" stroke="#606060" stroke-opacity="0.8" stroke-width="0.45"/>
<circle cx="138.54" cy="565.5" r="1.0" fill="#c9d4dc" stroke="#8a8a8a" stroke-width="0.3"/>
<circle cx="152.51" cy="565.5" r="2.3" fill="#fbe5d8" fill-opacity="0.8" stroke="#606060" stroke-opacity="0.8" stroke-width="0.45"/>
<circle cx="166.48" cy="565.5" r="1.0" fill="#c9d4dc" stroke="#8a8a8a" stroke-width="0.3"/>
<circle cx="180.45" cy="565.5" r="1.0" fill="#c9d4dc" stroke="#8a8a8a" stroke-width="0.3"/>
<circle cx="194.42" cy="565.5" r="1.0" fill="#c9d4dc" stroke="#8a8a8a" stroke-width="0.3"/>
<circle cx="208.39" cy="565.5" r="1.0" fill="#c9d4dc" stroke="#8a8a8a" stroke-width="0.3"/>
<circle cx="222.36" cy="565.5" r="1.0" fill="#78a8cc" stroke="#8a8a8a" stroke-width="0.3"/>
<circle cx="236.33" cy="565.5" r="1.0" fill="#78a8cc" stroke="#8a8a8a" stroke-width="0.3"/>
<circle cx="250.3" cy="565.5" r="2" fill="#f1f4f6" fill-opacity="0.8" stroke="#606060" stroke-opacity="0.8" stroke-width="0.45"/>
<circle cx="264.27" cy="565.5" r="3.7" fill="#f2a27f" fill-opacity="0.8" stroke="#606060" stroke-opacity="0.8" stroke-width="0.45"/>
<circle cx="278.24" cy="565.5" r="1.0" fill="#c9d4dc" stroke="#8a8a8a" stroke-width="0.3"/>
<circle cx="292.21" cy="565.5" r="3.7" fill="#f29f7e" fill-opacity="0.8" stroke="#606060" stroke-opacity="0.8" stroke-width="0.45"/>
<circle cx="306.18" cy="565.5" r="3.5" fill="#f6b394" fill-opacity="0.8" stroke="#606060" stroke-opacity="0.8" stroke-width="0.45"/>
<circle cx="320.15" cy="565.5" r="1.0" fill="#78a8cc" stroke="#8a8a8a" stroke-width="0.3"/>
<circle cx="334.12" cy="565.5" r="1.0" fill="#c9d4dc" stroke="#8a8a8a" stroke-width="0.3"/>
<circle cx="348.09" cy="565.5" r="4.3" fill="#d15749" fill-opacity="0.8" stroke="#606060" stroke-opacity="0.8" stroke-width="0.45"/>
<circle cx="362.06" cy="565.5" r="1.6" fill="#f1f4f6" fill-opacity="0.8" stroke="#606060" stroke-opacity="0.8" stroke-width="0.45"/>
<circle cx="376.03" cy="565.5" r="1.0" fill="#78a8cc" stroke="#8a8a8a" stroke-width="0.3"/>
<circle cx="390" cy="565.5" r="3.9" fill="#cc4b43" fill-opacity="0.8" stroke="#606060" stroke-opacity="0.8" stroke-width="0.45"/>
<circle cx="403.97" cy="565.5" r="1.0" fill="#78a8cc" stroke="#8a8a8a" stroke-width="0.3"/>
<circle cx="417.94" cy="565.5" r="2.2" fill="#f8f2ee" fill-opacity="0.8" stroke="#606060" stroke-opacity="0.8" stroke-width="0.45"/>
<circle cx="431.91" cy="565.5" r="1.0" fill="#c9d4dc" stroke="#8a8a8a" stroke-width="0.3"/>
<circle cx="445.88" cy="565.5" r="3.3" fill="#f7b698" fill-opacity="0.8" stroke="#606060" stroke-opacity="0.8" stroke-width="0.45"/>
<circle cx="459.85" cy="565.5" r="2.2" fill="#f9ece5" fill-opacity="0.8" stroke="#606060" stroke-opacity="0.8" stroke-width="0.45"/>
<circle cx="473.82" cy="565.5" r="1.0" fill="#78a8cc" stroke="#8a8a8a" stroke-width="0.3"/>
<circle cx="487.79" cy="565.5" r="2" fill="#f1f4f6" fill-opacity="0.8" stroke="#606060" stroke-opacity="0.8" stroke-width="0.45"/>
<circle cx="501.76" cy="565.5" r="1.4" fill="#f1f4f6" fill-opacity="0.8" stroke="#606060" stroke-opacity="0.8" stroke-width="0.45"/>
<circle cx="515.73" cy="565.5" r="2.7" fill="#fdd9c4" fill-opacity="0.8" stroke="#606060" stroke-opacity="0.8" stroke-width="0.45"/>
<circle cx="529.7" cy="565.5" r="1.0" fill="#78a8cc" stroke="#8a8a8a" stroke-width="0.3"/>
<circle cx="543.67" cy="565.5" r="3.1" fill="#fcd3bd" fill-opacity="0.8" stroke="#606060" stroke-opacity="0.8" stroke-width="0.45"/>
<circle cx="557.64" cy="565.5" r="3.1" fill="#fac6ad" fill-opacity="0.8" stroke="#606060" stroke-opacity="0.8" stroke-width="0.45"/>
<circle cx="571.61" cy="565.5" r="1.0" fill="#78a8cc" stroke="#8a8a8a" stroke-width="0.3"/>
<circle cx="585.58" cy="565.5" r="3.3" fill="#fac6ad" fill-opacity="0.8" stroke="#606060" stroke-opacity="0.8" stroke-width="0.45"/>
<circle cx="599.55" cy="565.5" r="3.3" fill="#fac6ad" fill-opacity="0.8" stroke="#606060" stroke-opacity="0.8" stroke-width="0.45"/>
<circle cx="613.52" cy="565.5" r="1.0" fill="#c9d4dc" stroke="#8a8a8a" stroke-width="0.3"/>
<circle cx="627.49" cy="565.5" r="1.0" fill="#c9d4dc" stroke="#8a8a8a" stroke-width="0.3"/>
<circle cx="641.46" cy="565.5" r="2.5" fill="#fae8dd" fill-opacity="0.8" stroke="#606060" stroke-opacity="0.8" stroke-width="0.45"/>
<circle cx="110.6" cy="575.2" r="1.0" fill="#c9d4dc" stroke="#8a8a8a" stroke-width="0.3"/>
<circle cx="124.57" cy="575.2" r="1.0" fill="#c9d4dc" stroke="#8a8a8a" stroke-width="0.3"/>
<circle cx="138.54" cy="575.2" r="2" fill="#fbccb4" fill-opacity="0.8" stroke="#606060" stroke-opacity="0.8" stroke-width="0.45"/>
<circle cx="152.51" cy="575.2" r="1.0" fill="#dd8b74" stroke="#8a8a8a" stroke-width="0.3"/>
<circle cx="166.48" cy="575.2" r="1.0" fill="#dd8b74" stroke="#8a8a8a" stroke-width="0.3"/>
<circle cx="180.45" cy="575.2" r="1.0" fill="#c9d4dc" stroke="#8a8a8a" stroke-width="0.3"/>
<circle cx="194.42" cy="575.2" r="2.7" fill="#cde3ef" fill-opacity="0.8" stroke="#606060" stroke-opacity="0.8" stroke-width="0.45"/>
<circle cx="208.39" cy="575.2" r="1.0" fill="#3d70a8" stroke="#8a8a8a" stroke-width="0.3"/>
<circle cx="222.36" cy="575.2" r="4.3" fill="#f9c4a9" fill-opacity="0.8" stroke="#606060" stroke-opacity="0.8" stroke-width="0.45"/>
<circle cx="236.33" cy="575.2" r="1.0" fill="#c9d4dc" stroke="#8a8a8a" stroke-width="0.3"/>
<circle cx="250.3" cy="575.2" r="1.0" fill="#c9d4dc" stroke="#8a8a8a" stroke-width="0.3"/>
<circle cx="264.27" cy="575.2" r="1.0" fill="#c9d4dc" stroke="#8a8a8a" stroke-width="0.3"/>
<circle cx="278.24" cy="575.2" r="3.5" fill="#d05448" fill-opacity="0.8" stroke="#606060" stroke-opacity="0.8" stroke-width="0.45"/>
<circle cx="292.21" cy="575.2" r="6.5" fill="#c03539" fill-opacity="0.8" stroke="#606060" stroke-opacity="0.8" stroke-width="0.45"/>
<circle cx="306.18" cy="575.2" r="3.3" fill="#eff3f6" fill-opacity="0.8" stroke="#606060" stroke-opacity="0.8" stroke-width="0.45"/>
<circle cx="320.15" cy="575.2" r="3.7" fill="#cee3ef" fill-opacity="0.8" stroke="#606060" stroke-opacity="0.8" stroke-width="0.45"/>
<circle cx="334.12" cy="575.2" r="1.0" fill="#dd8b74" stroke="#8a8a8a" stroke-width="0.3"/>
<circle cx="348.09" cy="575.2" r="4.5" fill="#fac6ad" fill-opacity="0.8" stroke="#606060" stroke-opacity="0.8" stroke-width="0.45"/>
<circle cx="362.06" cy="575.2" r="3.7" fill="#c7423f" fill-opacity="0.8" stroke="#606060" stroke-opacity="0.8" stroke-width="0.45"/>
<circle cx="376.03" cy="575.2" r="1.0" fill="#c9d4dc" stroke="#8a8a8a" stroke-width="0.3"/>
<circle cx="390" cy="575.2" r="5.7" fill="#facbb2" fill-opacity="0.8" stroke="#606060" stroke-opacity="0.8" stroke-width="0.45"/>
<circle cx="403.97" cy="575.2" r="3.9" fill="#95c7df" fill-opacity="0.8" stroke="#606060" stroke-opacity="0.8" stroke-width="0.45"/>
<circle cx="417.94" cy="575.2" r="3.7" fill="#db6c57" fill-opacity="0.8" stroke="#606060" stroke-opacity="0.8" stroke-width="0.45"/>
<circle cx="431.91" cy="575.2" r="1.0" fill="#c9d4dc" stroke="#8a8a8a" stroke-width="0.3"/>
<circle cx="445.88" cy="575.2" r="5.9" fill="#fae8dd" fill-opacity="0.8" stroke="#606060" stroke-opacity="0.8" stroke-width="0.45"/>
<circle cx="459.85" cy="575.2" r="4.3" fill="#faeae1" fill-opacity="0.8" stroke="#606060" stroke-opacity="0.8" stroke-width="0.45"/>
<circle cx="473.82" cy="575.2" r="5.7" fill="#f7b495" fill-opacity="0.8" stroke="#606060" stroke-opacity="0.8" stroke-width="0.45"/>
<circle cx="487.79" cy="575.2" r="3.7" fill="#c03539" fill-opacity="0.8" stroke="#606060" stroke-opacity="0.8" stroke-width="0.45"/>
<circle cx="501.76" cy="575.2" r="6.5" fill="#70b0d2" fill-opacity="0.8" stroke="#606060" stroke-opacity="0.8" stroke-width="0.45"/>
<circle cx="515.73" cy="575.2" r="6.1" fill="#dfebf3" fill-opacity="0.8" stroke="#606060" stroke-opacity="0.8" stroke-width="0.45"/>
<circle cx="529.7" cy="575.2" r="7.4" fill="#b2182b" fill-opacity="0.8" stroke="#606060" stroke-opacity="0.8" stroke-width="0.45"/>
<circle cx="543.67" cy="575.2" r="3.5" fill="#b31a2c" fill-opacity="0.8" stroke="#606060" stroke-opacity="0.8" stroke-width="0.45"/>
<circle cx="557.64" cy="575.2" r="5.9" fill="#c94741" fill-opacity="0.8" stroke="#606060" stroke-opacity="0.8" stroke-width="0.45"/>
<circle cx="571.61" cy="575.2" r="4.9" fill="#f8bfa3" fill-opacity="0.8" stroke="#606060" stroke-opacity="0.8" stroke-width="0.45"/>
<circle cx="585.58" cy="575.2" r="6.3" fill="#ad172a" fill-opacity="0.8" stroke="#606060" stroke-opacity="0.8" stroke-width="0.45"/>
<circle cx="599.55" cy="575.2" r="3.1" fill="#d05448" fill-opacity="0.8" stroke="#606060" stroke-opacity="0.8" stroke-width="0.45"/>
<circle cx="613.52" cy="575.2" r="4.9" fill="#f29f7e" fill-opacity="0.8" stroke="#606060" stroke-opacity="0.8" stroke-width="0.45"/>
<circle cx="627.49" cy="575.2" r="6.5" fill="#eb9173" fill-opacity="0.8" stroke="#606060" stroke-opacity="0.8" stroke-width="0.45"/>
<circle cx="641.46" cy="575.2" r="5.9" fill="#67001f" fill-opacity="0.8" stroke="#606060" stroke-opacity="0.8" stroke-width="0.45"/>
<circle cx="110.6" cy="584.9" r="1.0" fill="#c9d4dc" stroke="#8a8a8a" stroke-width="0.3"/>
<circle cx="124.57" cy="584.9" r="1.0" fill="#c9d4dc" stroke="#8a8a8a" stroke-width="0.3"/>
<circle cx="138.54" cy="584.9" r="1.0" fill="#c9d4dc" stroke="#8a8a8a" stroke-width="0.3"/>
<circle cx="152.51" cy="584.9" r="1.0" fill="#c9d4dc" stroke="#8a8a8a" stroke-width="0.3"/>
<circle cx="166.48" cy="584.9" r="1.0" fill="#c9d4dc" stroke="#8a8a8a" stroke-width="0.3"/>
<circle cx="180.45" cy="584.9" r="1.0" fill="#c9d4dc" stroke="#8a8a8a" stroke-width="0.3"/>
<circle cx="194.42" cy="584.9" r="3.3" fill="#fbe5d8" fill-opacity="0.8" stroke="#606060" stroke-opacity="0.8" stroke-width="0.45"/>
<circle cx="208.39" cy="584.9" r="2" fill="#74b2d4" fill-opacity="0.8" stroke="#606060" stroke-opacity="0.8" stroke-width="0.45"/>
<circle cx="222.36" cy="584.9" r="3.7" fill="#ea8d6f" fill-opacity="0.8" stroke="#606060" stroke-opacity="0.8" stroke-width="0.45"/>
<circle cx="236.33" cy="584.9" r="1.0" fill="#c9d4dc" stroke="#8a8a8a" stroke-width="0.3"/>
<circle cx="250.3" cy="584.9" r="1.0" fill="#c9d4dc" stroke="#8a8a8a" stroke-width="0.3"/>
<circle cx="264.27" cy="584.9" r="1.0" fill="#c9d4dc" stroke="#8a8a8a" stroke-width="0.3"/>
<circle cx="278.24" cy="584.9" r="3.3" fill="#b2182b" fill-opacity="0.8" stroke="#606060" stroke-opacity="0.8" stroke-width="0.45"/>
<circle cx="292.21" cy="584.9" r="3.9" fill="#dc6e58" fill-opacity="0.8" stroke="#606060" stroke-opacity="0.8" stroke-width="0.45"/>
<circle cx="306.18" cy="584.9" r="1.2" fill="#f1f4f6" fill-opacity="0.8" stroke="#606060" stroke-opacity="0.8" stroke-width="0.45"/>
<circle cx="320.15" cy="584.9" r="2.7" fill="#c3deec" fill-opacity="0.8" stroke="#606060" stroke-opacity="0.8" stroke-width="0.45"/>
<circle cx="334.12" cy="584.9" r="1.0" fill="#dd8b74" stroke="#8a8a8a" stroke-width="0.3"/>
<circle cx="348.09" cy="584.9" r="3.7" fill="#f6af8f" fill-opacity="0.8" stroke="#606060" stroke-opacity="0.8" stroke-width="0.45"/>
<circle cx="362.06" cy="584.9" r="3.1" fill="#c03539" fill-opacity="0.8" stroke="#606060" stroke-opacity="0.8" stroke-width="0.45"/>
<circle cx="376.03" cy="584.9" r="1.0" fill="#c9d4dc" stroke="#8a8a8a" stroke-width="0.3"/>
<circle cx="390" cy="584.9" r="2" fill="#f1f4f6" fill-opacity="0.8" stroke="#606060" stroke-opacity="0.8" stroke-width="0.45"/>
<circle cx="403.97" cy="584.9" r="1.0" fill="#78a8cc" stroke="#8a8a8a" stroke-width="0.3"/>
<circle cx="417.94" cy="584.9" r="3.7" fill="#c7423f" fill-opacity="0.8" stroke="#606060" stroke-opacity="0.8" stroke-width="0.45"/>
<circle cx="431.91" cy="584.9" r="1.0" fill="#c9d4dc" stroke="#8a8a8a" stroke-width="0.3"/>
<circle cx="445.88" cy="584.9" r="3.1" fill="#deebf2" fill-opacity="0.8" stroke="#606060" stroke-opacity="0.8" stroke-width="0.45"/>
<circle cx="459.85" cy="584.9" r="4.1" fill="#f8bfa3" fill-opacity="0.8" stroke="#606060" stroke-opacity="0.8" stroke-width="0.45"/>
<circle cx="473.82" cy="584.9" r="3.5" fill="#db6c57" fill-opacity="0.8" stroke="#606060" stroke-opacity="0.8" stroke-width="0.45"/>
<circle cx="487.79" cy="584.9" r="2.9" fill="#c03338" fill-opacity="0.8" stroke="#606060" stroke-opacity="0.8" stroke-width="0.45"/>
<circle cx="501.76" cy="584.9" r="2.5" fill="#2970b1" fill-opacity="0.8" stroke="#606060" stroke-opacity="0.8" stroke-width="0.45"/>
<circle cx="515.73" cy="584.9" r="3.9" fill="#cfe4ef" fill-opacity="0.8" stroke="#606060" stroke-opacity="0.8" stroke-width="0.45"/>
<circle cx="529.7" cy="584.9" r="4.3" fill="#e27c62" fill-opacity="0.8" stroke="#606060" stroke-opacity="0.8" stroke-width="0.45"/>
<circle cx="543.67" cy="584.9" r="2.2" fill="#b51e2e" fill-opacity="0.8" stroke="#606060" stroke-opacity="0.8" stroke-width="0.45"/>
<circle cx="557.64" cy="584.9" r="3.5" fill="#d15548" fill-opacity="0.8" stroke="#606060" stroke-opacity="0.8" stroke-width="0.45"/>
<circle cx="571.61" cy="584.9" r="1.4" fill="#f9ece4" fill-opacity="0.8" stroke="#606060" stroke-opacity="0.8" stroke-width="0.45"/>
<circle cx="585.58" cy="584.9" r="4.1" fill="#be2f36" fill-opacity="0.8" stroke="#606060" stroke-opacity="0.8" stroke-width="0.45"/>
<circle cx="599.55" cy="584.9" r="1.8" fill="#d15548" fill-opacity="0.8" stroke="#606060" stroke-opacity="0.8" stroke-width="0.45"/>
<circle cx="613.52" cy="584.9" r="3.7" fill="#e27c62" fill-opacity="0.8" stroke="#606060" stroke-opacity="0.8" stroke-width="0.45"/>
<circle cx="627.49" cy="584.9" r="4.7" fill="#f5ae8d" fill-opacity="0.8" stroke="#606060" stroke-opacity="0.8" stroke-width="0.45"/>
<circle cx="641.46" cy="584.9" r="3.5" fill="#c03539" fill-opacity="0.8" stroke="#606060" stroke-opacity="0.8" stroke-width="0.45"/>
<circle cx="110.6" cy="594.6" r="2.9" fill="#f9c6ac" fill-opacity="0.8" stroke="#606060" stroke-opacity="0.8" stroke-width="0.45"/>
<circle cx="124.57" cy="594.6" r="2.9" fill="#f1f4f6" fill-opacity="0.8" stroke="#606060" stroke-opacity="0.8" stroke-width="0.45"/>
<circle cx="138.54" cy="594.6" r="1.0" fill="#c9d4dc" stroke="#8a8a8a" stroke-width="0.3"/>
<circle cx="152.51" cy="594.6" r="1.0" fill="#c9d4dc" stroke="#8a8a8a" stroke-width="0.3"/>
<circle cx="166.48" cy="594.6" r="1.0" fill="#c9d4dc" stroke="#8a8a8a" stroke-width="0.3"/>
<circle cx="180.45" cy="594.6" r="1.0" fill="#c9d4dc" stroke="#8a8a8a" stroke-width="0.3"/>
<circle cx="194.42" cy="594.6" r="4.1" fill="#fbd2bb" fill-opacity="0.8" stroke="#606060" stroke-opacity="0.8" stroke-width="0.45"/>
<circle cx="208.39" cy="594.6" r="2.7" fill="#88beda" fill-opacity="0.8" stroke="#606060" stroke-opacity="0.8" stroke-width="0.45"/>
<circle cx="222.36" cy="594.6" r="4.1" fill="#f5ad8c" fill-opacity="0.8" stroke="#606060" stroke-opacity="0.8" stroke-width="0.45"/>
<circle cx="236.33" cy="594.6" r="1.0" fill="#c9d4dc" stroke="#8a8a8a" stroke-width="0.3"/>
<circle cx="250.3" cy="594.6" r="1.0" fill="#78a8cc" stroke="#8a8a8a" stroke-width="0.3"/>
<circle cx="264.27" cy="594.6" r="1.0" fill="#c9d4dc" stroke="#8a8a8a" stroke-width="0.3"/>
<circle cx="278.24" cy="594.6" r="3.7" fill="#f29f7e" fill-opacity="0.8" stroke="#606060" stroke-opacity="0.8" stroke-width="0.45"/>
<circle cx="292.21" cy="594.6" r="1.0" fill="#c9d4dc" stroke="#8a8a8a" stroke-width="0.3"/>
<circle cx="306.18" cy="594.6" r="2.9" fill="#cae1ee" fill-opacity="0.8" stroke="#606060" stroke-opacity="0.8" stroke-width="0.45"/>
<circle cx="320.15" cy="594.6" r="3.1" fill="#ebf1f5" fill-opacity="0.8" stroke="#606060" stroke-opacity="0.8" stroke-width="0.45"/>
<circle cx="334.12" cy="594.6" r="4.5" fill="#67001f" fill-opacity="0.8" stroke="#606060" stroke-opacity="0.8" stroke-width="0.45"/>
<circle cx="348.09" cy="594.6" r="4.1" fill="#e58368" fill-opacity="0.8" stroke="#606060" stroke-opacity="0.8" stroke-width="0.45"/>
<circle cx="362.06" cy="594.6" r="2.7" fill="#e8896c" fill-opacity="0.8" stroke="#606060" stroke-opacity="0.8" stroke-width="0.45"/>
<circle cx="376.03" cy="594.6" r="5.3" fill="#67001f" fill-opacity="0.8" stroke="#606060" stroke-opacity="0.8" stroke-width="0.45"/>
<circle cx="390" cy="594.6" r="4.9" fill="#ee9878" fill-opacity="0.8" stroke="#606060" stroke-opacity="0.8" stroke-width="0.45"/>
<circle cx="403.97" cy="594.6" r="3.9" fill="#acd2e6" fill-opacity="0.8" stroke="#606060" stroke-opacity="0.8" stroke-width="0.45"/>
<circle cx="417.94" cy="594.6" r="1.0" fill="#c9d4dc" stroke="#8a8a8a" stroke-width="0.3"/>
<circle cx="431.91" cy="594.6" r="1.0" fill="#c9d4dc" stroke="#8a8a8a" stroke-width="0.3"/>
<circle cx="445.88" cy="594.6" r="1.0" fill="#78a8cc" stroke="#8a8a8a" stroke-width="0.3"/>
<circle cx="459.85" cy="594.6" r="6.5" fill="#c03338" fill-opacity="0.8" stroke="#606060" stroke-opacity="0.8" stroke-width="0.45"/>
<circle cx="473.82" cy="594.6" r="6.3" fill="#d05448" fill-opacity="0.8" stroke="#606060" stroke-opacity="0.8" stroke-width="0.45"/>
<circle cx="487.79" cy="594.6" r="1.0" fill="#c9d4dc" stroke="#8a8a8a" stroke-width="0.3"/>
<circle cx="501.76" cy="594.6" r="3.1" fill="#90c4dd" fill-opacity="0.8" stroke="#606060" stroke-opacity="0.8" stroke-width="0.45"/>
<circle cx="515.73" cy="594.6" r="6.1" fill="#ee9777" fill-opacity="0.8" stroke="#606060" stroke-opacity="0.8" stroke-width="0.45"/>
<circle cx="529.7" cy="594.6" r="6.1" fill="#f7b596" fill-opacity="0.8" stroke="#606060" stroke-opacity="0.8" stroke-width="0.45"/>
<circle cx="543.67" cy="594.6" r="3.9" fill="#be2f36" fill-opacity="0.8" stroke="#606060" stroke-opacity="0.8" stroke-width="0.45"/>
<circle cx="557.64" cy="594.6" r="3.5" fill="#f29f7e" fill-opacity="0.8" stroke="#606060" stroke-opacity="0.8" stroke-width="0.45"/>
<circle cx="571.61" cy="594.6" r="5.1" fill="#d96752" fill-opacity="0.8" stroke="#606060" stroke-opacity="0.8" stroke-width="0.45"/>
<circle cx="585.58" cy="594.6" r="1.0" fill="#78a8cc" stroke="#8a8a8a" stroke-width="0.3"/>
<circle cx="599.55" cy="594.6" r="3.5" fill="#db6c57" fill-opacity="0.8" stroke="#606060" stroke-opacity="0.8" stroke-width="0.45"/>
<circle cx="613.52" cy="594.6" r="3.1" fill="#fcd3bd" fill-opacity="0.8" stroke="#606060" stroke-opacity="0.8" stroke-width="0.45"/>
<circle cx="627.49" cy="594.6" r="3.9" fill="#faebe2" fill-opacity="0.8" stroke="#606060" stroke-opacity="0.8" stroke-width="0.45"/>
<circle cx="641.46" cy="594.6" r="3.1" fill="#f29f7e" fill-opacity="0.8" stroke="#606060" stroke-opacity="0.8" stroke-width="0.45"/>
<circle cx="110.6" cy="604.3" r="1.0" fill="#c9d4dc" stroke="#8a8a8a" stroke-width="0.3"/>
<circle cx="124.57" cy="604.3" r="1.0" fill="#c9d4dc" stroke="#8a8a8a" stroke-width="0.3"/>
<circle cx="138.54" cy="604.3" r="1.0" fill="#c9d4dc" stroke="#8a8a8a" stroke-width="0.3"/>
<circle cx="152.51" cy="604.3" r="1.0" fill="#c9d4dc" stroke="#8a8a8a" stroke-width="0.3"/>
<circle cx="166.48" cy="604.3" r="1.0" fill="#c9d4dc" stroke="#8a8a8a" stroke-width="0.3"/>
<circle cx="180.45" cy="604.3" r="1.0" fill="#c9d4dc" stroke="#8a8a8a" stroke-width="0.3"/>
<circle cx="194.42" cy="604.3" r="1.0" fill="#c9d4dc" stroke="#8a8a8a" stroke-width="0.3"/>
<circle cx="208.39" cy="604.3" r="1.0" fill="#c9d4dc" stroke="#8a8a8a" stroke-width="0.3"/>
<circle cx="222.36" cy="604.3" r="1.0" fill="#c9d4dc" stroke="#8a8a8a" stroke-width="0.3"/>
<circle cx="236.33" cy="604.3" r="1.0" fill="#c9d4dc" stroke="#8a8a8a" stroke-width="0.3"/>
<circle cx="250.3" cy="604.3" r="1.0" fill="#c9d4dc" stroke="#8a8a8a" stroke-width="0.3"/>
<circle cx="264.27" cy="604.3" r="1.0" fill="#c9d4dc" stroke="#8a8a8a" stroke-width="0.3"/>
<circle cx="278.24" cy="604.3" r="1.0" fill="#c9d4dc" stroke="#8a8a8a" stroke-width="0.3"/>
<circle cx="292.21" cy="604.3" r="1.0" fill="#c9d4dc" stroke="#8a8a8a" stroke-width="0.3"/>
<circle cx="306.18" cy="604.3" r="1.0" fill="#c9d4dc" stroke="#8a8a8a" stroke-width="0.3"/>
<circle cx="320.15" cy="604.3" r="2.9" fill="#d45c4b" fill-opacity="0.8" stroke="#606060" stroke-opacity="0.8" stroke-width="0.45"/>
<circle cx="334.12" cy="604.3" r="3.1" fill="#cf5247" fill-opacity="0.8" stroke="#606060" stroke-opacity="0.8" stroke-width="0.45"/>
<circle cx="348.09" cy="604.3" r="2" fill="#fbccb4" fill-opacity="0.8" stroke="#606060" stroke-opacity="0.8" stroke-width="0.45"/>
<circle cx="362.06" cy="604.3" r="1.0" fill="#c9d4dc" stroke="#8a8a8a" stroke-width="0.3"/>
<circle cx="376.03" cy="604.3" r="4.9" fill="#67001f" fill-opacity="0.8" stroke="#606060" stroke-opacity="0.8" stroke-width="0.45"/>
<circle cx="390" cy="604.3" r="1.8" fill="#fbccb4" fill-opacity="0.8" stroke="#606060" stroke-opacity="0.8" stroke-width="0.45"/>
<circle cx="403.97" cy="604.3" r="1.0" fill="#c9d4dc" stroke="#8a8a8a" stroke-width="0.3"/>
<circle cx="417.94" cy="604.3" r="1.0" fill="#c9d4dc" stroke="#8a8a8a" stroke-width="0.3"/>
<circle cx="431.91" cy="604.3" r="2.2" fill="#f5ae8d" fill-opacity="0.8" stroke="#606060" stroke-opacity="0.8" stroke-width="0.45"/>
<circle cx="445.88" cy="604.3" r="1.0" fill="#c9d4dc" stroke="#8a8a8a" stroke-width="0.3"/>
<circle cx="459.85" cy="604.3" r="7.1" fill="#67001f" fill-opacity="0.8" stroke="#606060" stroke-opacity="0.8" stroke-width="0.45"/>
<circle cx="473.82" cy="604.3" r="2.2" fill="#f5ae8d" fill-opacity="0.8" stroke="#606060" stroke-opacity="0.8" stroke-width="0.45"/>
<circle cx="487.79" cy="604.3" r="1.0" fill="#c9d4dc" stroke="#8a8a8a" stroke-width="0.3"/>
<circle cx="501.76" cy="604.3" r="2" fill="#f5ae8d" fill-opacity="0.8" stroke="#606060" stroke-opacity="0.8" stroke-width="0.45"/>
<circle cx="515.73" cy="604.3" r="1.0" fill="#c9d4dc" stroke="#8a8a8a" stroke-width="0.3"/>
<circle cx="529.7" cy="604.3" r="1.6" fill="#f1f4f6" fill-opacity="0.8" stroke="#606060" stroke-opacity="0.8" stroke-width="0.45"/>
<circle cx="543.67" cy="604.3" r="2.2" fill="#f8bfa3" fill-opacity="0.8" stroke="#606060" stroke-opacity="0.8" stroke-width="0.45"/>
<circle cx="557.64" cy="604.3" r="2.9" fill="#dd715a" fill-opacity="0.8" stroke="#606060" stroke-opacity="0.8" stroke-width="0.45"/>
<circle cx="571.61" cy="604.3" r="2.9" fill="#d45c4b" fill-opacity="0.8" stroke="#606060" stroke-opacity="0.8" stroke-width="0.45"/>
<circle cx="585.58" cy="604.3" r="1.0" fill="#78a8cc" stroke="#8a8a8a" stroke-width="0.3"/>
<circle cx="599.55" cy="604.3" r="1.0" fill="#78a8cc" stroke="#8a8a8a" stroke-width="0.3"/>
<circle cx="613.52" cy="604.3" r="1.6" fill="#fbccb4" fill-opacity="0.8" stroke="#606060" stroke-opacity="0.8" stroke-width="0.45"/>
<circle cx="627.49" cy="604.3" r="1.0" fill="#c9d4dc" stroke="#8a8a8a" stroke-width="0.3"/>
<circle cx="641.46" cy="604.3" r="1.0" fill="#c9d4dc" stroke="#8a8a8a" stroke-width="0.3"/>
<circle cx="110.6" cy="614" r="2.5" fill="#fae8dd" fill-opacity="0.8" stroke="#606060" stroke-opacity="0.8" stroke-width="0.45"/>
<circle cx="124.57" cy="614" r="1.0" fill="#c9d4dc" stroke="#8a8a8a" stroke-width="0.3"/>
<circle cx="138.54" cy="614" r="3.3" fill="#fac7ad" fill-opacity="0.8" stroke="#606060" stroke-opacity="0.8" stroke-width="0.45"/>
<circle cx="152.51" cy="614" r="1.0" fill="#c9d4dc" stroke="#8a8a8a" stroke-width="0.3"/>
<circle cx="166.48" cy="614" r="1.0" fill="#c9d4dc" stroke="#8a8a8a" stroke-width="0.3"/>
<circle cx="180.45" cy="614" r="1.0" fill="#c9d4dc" stroke="#8a8a8a" stroke-width="0.3"/>
<circle cx="194.42" cy="614" r="2.5" fill="#f9eee7" fill-opacity="0.8" stroke="#606060" stroke-opacity="0.8" stroke-width="0.45"/>
<circle cx="208.39" cy="614" r="4.5" fill="#c33a3b" fill-opacity="0.8" stroke="#606060" stroke-opacity="0.8" stroke-width="0.45"/>
<circle cx="222.36" cy="614" r="4.5" fill="#c03539" fill-opacity="0.8" stroke="#606060" stroke-opacity="0.8" stroke-width="0.45"/>
<circle cx="236.33" cy="614" r="1.0" fill="#c9d4dc" stroke="#8a8a8a" stroke-width="0.3"/>
<circle cx="250.3" cy="614" r="2.7" fill="#fae8dd" fill-opacity="0.8" stroke="#606060" stroke-opacity="0.8" stroke-width="0.45"/>
<circle cx="264.27" cy="614" r="3.9" fill="#ef9978" fill-opacity="0.8" stroke="#606060" stroke-opacity="0.8" stroke-width="0.45"/>
<circle cx="278.24" cy="614" r="1.0" fill="#c9d4dc" stroke="#8a8a8a" stroke-width="0.3"/>
<circle cx="292.21" cy="614" r="3.9" fill="#ef9978" fill-opacity="0.8" stroke="#606060" stroke-opacity="0.8" stroke-width="0.45"/>
<circle cx="306.18" cy="614" r="4.5" fill="#da6a54" fill-opacity="0.8" stroke="#606060" stroke-opacity="0.8" stroke-width="0.45"/>
<circle cx="320.15" cy="614" r="3.9" fill="#f29f7e" fill-opacity="0.8" stroke="#606060" stroke-opacity="0.8" stroke-width="0.45"/>
<circle cx="334.12" cy="614" r="5.7" fill="#67001f" fill-opacity="0.8" stroke="#606060" stroke-opacity="0.8" stroke-width="0.45"/>
<circle cx="348.09" cy="614" r="3.3" fill="#fbccb4" fill-opacity="0.8" stroke="#606060" stroke-opacity="0.8" stroke-width="0.45"/>
<circle cx="362.06" cy="614" r="1.0" fill="#78a8cc" stroke="#8a8a8a" stroke-width="0.3"/>
<circle cx="376.03" cy="614" r="1.0" fill="#c9d4dc" stroke="#8a8a8a" stroke-width="0.3"/>
<circle cx="390" cy="614" r="2.5" fill="#fce1d1" fill-opacity="0.8" stroke="#606060" stroke-opacity="0.8" stroke-width="0.45"/>
<circle cx="403.97" cy="614" r="3.9" fill="#eb9173" fill-opacity="0.8" stroke="#606060" stroke-opacity="0.8" stroke-width="0.45"/>
<circle cx="417.94" cy="614" r="1.2" fill="#f1f4f6" fill-opacity="0.8" stroke="#606060" stroke-opacity="0.8" stroke-width="0.45"/>
<circle cx="431.91" cy="614" r="6.1" fill="#67001f" fill-opacity="0.8" stroke="#606060" stroke-opacity="0.8" stroke-width="0.45"/>
<circle cx="445.88" cy="614" r="1.0" fill="#c9d4dc" stroke="#8a8a8a" stroke-width="0.3"/>
<circle cx="459.85" cy="614" r="1.0" fill="#c9d4dc" stroke="#8a8a8a" stroke-width="0.3"/>
<circle cx="473.82" cy="614" r="1.0" fill="#78a8cc" stroke="#8a8a8a" stroke-width="0.3"/>
<circle cx="487.79" cy="614" r="4.3" fill="#d15548" fill-opacity="0.8" stroke="#606060" stroke-opacity="0.8" stroke-width="0.45"/>
<circle cx="501.76" cy="614" r="2.2" fill="#f1f4f6" fill-opacity="0.8" stroke="#606060" stroke-opacity="0.8" stroke-width="0.45"/>
<circle cx="515.73" cy="614" r="5.3" fill="#920e26" fill-opacity="0.8" stroke="#606060" stroke-opacity="0.8" stroke-width="0.45"/>
<circle cx="529.7" cy="614" r="1.0" fill="#c9d4dc" stroke="#8a8a8a" stroke-width="0.3"/>
<circle cx="543.67" cy="614" r="1.0" fill="#c9d4dc" stroke="#8a8a8a" stroke-width="0.3"/>
<circle cx="557.64" cy="614" r="1.2" fill="#f1f4f6" fill-opacity="0.8" stroke="#606060" stroke-opacity="0.8" stroke-width="0.45"/>
<circle cx="571.61" cy="614" r="3.9" fill="#ec9475" fill-opacity="0.8" stroke="#606060" stroke-opacity="0.8" stroke-width="0.45"/>
<circle cx="585.58" cy="614" r="3.5" fill="#facbb3" fill-opacity="0.8" stroke="#606060" stroke-opacity="0.8" stroke-width="0.45"/>
<circle cx="599.55" cy="614" r="2.7" fill="#fce1d1" fill-opacity="0.8" stroke="#606060" stroke-opacity="0.8" stroke-width="0.45"/>
<circle cx="613.52" cy="614" r="2.7" fill="#fae8dd" fill-opacity="0.8" stroke="#606060" stroke-opacity="0.8" stroke-width="0.45"/>
<circle cx="627.49" cy="614" r="6.1" fill="#67001f" fill-opacity="0.8" stroke="#606060" stroke-opacity="0.8" stroke-width="0.45"/>
<circle cx="641.46" cy="614" r="3.3" fill="#fcd3bd" fill-opacity="0.8" stroke="#606060" stroke-opacity="0.8" stroke-width="0.45"/>
<circle cx="110.6" cy="623.7" r="1.0" fill="#c9d4dc" stroke="#8a8a8a" stroke-width="0.3"/>
<circle cx="124.57" cy="623.7" r="1.0" fill="#c9d4dc" stroke="#8a8a8a" stroke-width="0.3"/>
<circle cx="138.54" cy="623.7" r="1.0" fill="#c9d4dc" stroke="#8a8a8a" stroke-width="0.3"/>
<circle cx="152.51" cy="623.7" r="1.0" fill="#c9d4dc" stroke="#8a8a8a" stroke-width="0.3"/>
<circle cx="166.48" cy="623.7" r="2.7" fill="#de735c" fill-opacity="0.8" stroke="#606060" stroke-opacity="0.8" stroke-width="0.45"/>
<circle cx="180.45" cy="623.7" r="1.0" fill="#c9d4dc" stroke="#8a8a8a" stroke-width="0.3"/>
<circle cx="194.42" cy="623.7" r="2" fill="#fbccb4" fill-opacity="0.8" stroke="#606060" stroke-opacity="0.8" stroke-width="0.45"/>
<circle cx="208.39" cy="623.7" r="2.7" fill="#d96652" fill-opacity="0.8" stroke="#606060" stroke-opacity="0.8" stroke-width="0.45"/>
<circle cx="222.36" cy="623.7" r="3" fill="#c03539" fill-opacity="0.8" stroke="#606060" stroke-opacity="0.8" stroke-width="0.45"/>
<circle cx="236.33" cy="623.7" r="1.0" fill="#c9d4dc" stroke="#8a8a8a" stroke-width="0.3"/>
<circle cx="250.3" cy="623.7" r="1.0" fill="#c9d4dc" stroke="#8a8a8a" stroke-width="0.3"/>
<circle cx="264.27" cy="623.7" r="1.6" fill="#f1f4f6" fill-opacity="0.8" stroke="#606060" stroke-opacity="0.8" stroke-width="0.45"/>
<circle cx="278.24" cy="623.7" r="1.0" fill="#c9d4dc" stroke="#8a8a8a" stroke-width="0.3"/>
<circle cx="292.21" cy="623.7" r="3.5" fill="#b2182b" fill-opacity="0.8" stroke="#606060" stroke-opacity="0.8" stroke-width="0.45"/>
<circle cx="306.18" cy="623.7" r="1.0" fill="#c9d4dc" stroke="#8a8a8a" stroke-width="0.3"/>
<circle cx="320.15" cy="623.7" r="1.8" fill="#fae8dd" fill-opacity="0.8" stroke="#606060" stroke-opacity="0.8" stroke-width="0.45"/>
<circle cx="334.12" cy="623.7" r="2" fill="#fbccb4" fill-opacity="0.8" stroke="#606060" stroke-opacity="0.8" stroke-width="0.45"/>
<circle cx="348.09" cy="623.7" r="1.0" fill="#c9d4dc" stroke="#8a8a8a" stroke-width="0.3"/>
<circle cx="362.06" cy="623.7" r="2.5" fill="#f7b99c" fill-opacity="0.8" stroke="#606060" stroke-opacity="0.8" stroke-width="0.45"/>
<circle cx="376.03" cy="623.7" r="1.0" fill="#c9d4dc" stroke="#8a8a8a" stroke-width="0.3"/>
<circle cx="390" cy="623.7" r="2.9" fill="#ec9475" fill-opacity="0.8" stroke="#606060" stroke-opacity="0.8" stroke-width="0.45"/>
<circle cx="403.97" cy="623.7" r="1.0" fill="#c9d4dc" stroke="#8a8a8a" stroke-width="0.3"/>
<circle cx="417.94" cy="623.7" r="1.4" fill="#f1f4f6" fill-opacity="0.8" stroke="#606060" stroke-opacity="0.8" stroke-width="0.45"/>
<circle cx="431.91" cy="623.7" r="3.1" fill="#d45c4b" fill-opacity="0.8" stroke="#606060" stroke-opacity="0.8" stroke-width="0.45"/>
<circle cx="445.88" cy="623.7" r="2" fill="#fbccb4" fill-opacity="0.8" stroke="#606060" stroke-opacity="0.8" stroke-width="0.45"/>
<circle cx="459.85" cy="623.7" r="3.5" fill="#6b0120" fill-opacity="0.8" stroke="#606060" stroke-opacity="0.8" stroke-width="0.45"/>
<circle cx="473.82" cy="623.7" r="3.1" fill="#d05448" fill-opacity="0.8" stroke="#606060" stroke-opacity="0.8" stroke-width="0.45"/>
<circle cx="487.79" cy="623.7" r="2.2" fill="#fbccb4" fill-opacity="0.8" stroke="#606060" stroke-opacity="0.8" stroke-width="0.45"/>
<circle cx="501.76" cy="623.7" r="1.0" fill="#c9d4dc" stroke="#8a8a8a" stroke-width="0.3"/>
<circle cx="515.73" cy="623.7" r="4.5" fill="#67001f" fill-opacity="0.8" stroke="#606060" stroke-opacity="0.8" stroke-width="0.45"/>
<circle cx="529.7" cy="623.7" r="1.0" fill="#78a8cc" stroke="#8a8a8a" stroke-width="0.3"/>
<circle cx="543.67" cy="623.7" r="1.0" fill="#c9d4dc" stroke="#8a8a8a" stroke-width="0.3"/>
<circle cx="557.64" cy="623.7" r="1.0" fill="#78a8cc" stroke="#8a8a8a" stroke-width="0.3"/>
<circle cx="571.61" cy="623.7" r="1.8" fill="#fae8de" fill-opacity="0.8" stroke="#606060" stroke-opacity="0.8" stroke-width="0.45"/>
<circle cx="585.58" cy="623.7" r="3.9" fill="#67001f" fill-opacity="0.8" stroke="#606060" stroke-opacity="0.8" stroke-width="0.45"/>
<circle cx="599.55" cy="623.7" r="1.0" fill="#78a8cc" stroke="#8a8a8a" stroke-width="0.3"/>
<circle cx="613.52" cy="623.7" r="1.0" fill="#c9d4dc" stroke="#8a8a8a" stroke-width="0.3"/>
<circle cx="627.49" cy="623.7" r="2.5" fill="#f5ae8d" fill-opacity="0.8" stroke="#606060" stroke-opacity="0.8" stroke-width="0.45"/>
<circle cx="641.46" cy="623.7" r="2.5" fill="#f5ae8d" fill-opacity="0.8" stroke="#606060" stroke-opacity="0.8" stroke-width="0.45"/>
<circle cx="110.6" cy="633.4" r="1.6" fill="#fbccb4" fill-opacity="0.8" stroke="#606060" stroke-opacity="0.8" stroke-width="0.45"/>
<circle cx="124.57" cy="633.4" r="1.0" fill="#c9d4dc" stroke="#8a8a8a" stroke-width="0.3"/>
<circle cx="138.54" cy="633.4" r="1.8" fill="#fae8de" fill-opacity="0.8" stroke="#606060" stroke-opacity="0.8" stroke-width="0.45"/>
<circle cx="152.51" cy="633.4" r="1.0" fill="#dd8b74" stroke="#8a8a8a" stroke-width="0.3"/>
<circle cx="166.48" cy="633.4" r="2" fill="#d15548" fill-opacity="0.8" stroke="#606060" stroke-opacity="0.8" stroke-width="0.45"/>
<circle cx="180.45" cy="633.4" r="1.0" fill="#c9d4dc" stroke="#8a8a8a" stroke-width="0.3"/>
<circle cx="194.42" cy="633.4" r="4.1" fill="#e0775f" fill-opacity="0.8" stroke="#606060" stroke-opacity="0.8" stroke-width="0.45"/>
<circle cx="208.39" cy="633.4" r="1.0" fill="#3d70a8" stroke="#8a8a8a" stroke-width="0.3"/>
<circle cx="222.36" cy="633.4" r="2" fill="#fae8de" fill-opacity="0.8" stroke="#606060" stroke-opacity="0.8" stroke-width="0.45"/>
<circle cx="236.33" cy="633.4" r="1.0" fill="#c9d4dc" stroke="#8a8a8a" stroke-width="0.3"/>
<circle cx="250.3" cy="633.4" r="1.0" fill="#78a8cc" stroke="#8a8a8a" stroke-width="0.3"/>
<circle cx="264.27" cy="633.4" r="1.0" fill="#c9d4dc" stroke="#8a8a8a" stroke-width="0.3"/>
<circle cx="278.24" cy="633.4" r="2.5" fill="#d15548" fill-opacity="0.8" stroke="#606060" stroke-opacity="0.8" stroke-width="0.45"/>
<circle cx="292.21" cy="633.4" r="1.8" fill="#f1f4f6" fill-opacity="0.8" stroke="#606060" stroke-opacity="0.8" stroke-width="0.45"/>
<circle cx="306.18" cy="633.4" r="1.0" fill="#c9d4dc" stroke="#8a8a8a" stroke-width="0.3"/>
<circle cx="320.15" cy="633.4" r="4.7" fill="#d05448" fill-opacity="0.8" stroke="#606060" stroke-opacity="0.8" stroke-width="0.45"/>
<circle cx="334.12" cy="633.4" r="1.0" fill="#c9d4dc" stroke="#8a8a8a" stroke-width="0.3"/>
<circle cx="348.09" cy="633.4" r="1.0" fill="#c9d4dc" stroke="#8a8a8a" stroke-width="0.3"/>
<circle cx="362.06" cy="633.4" r="3.1" fill="#b2182b" fill-opacity="0.8" stroke="#606060" stroke-opacity="0.8" stroke-width="0.45"/>
<circle cx="376.03" cy="633.4" r="2.7" fill="#c03539" fill-opacity="0.8" stroke="#606060" stroke-opacity="0.8" stroke-width="0.45"/>
<circle cx="390" cy="633.4" r="1.0" fill="#78a8cc" stroke="#8a8a8a" stroke-width="0.3"/>
<circle cx="403.97" cy="633.4" r="1.0" fill="#78a8cc" stroke="#8a8a8a" stroke-width="0.3"/>
<circle cx="417.94" cy="633.4" r="1.0" fill="#c9d4dc" stroke="#8a8a8a" stroke-width="0.3"/>
<circle cx="431.91" cy="633.4" r="1.0" fill="#c9d4dc" stroke="#8a8a8a" stroke-width="0.3"/>
<circle cx="445.88" cy="633.4" r="3.1" fill="#f1f4f6" fill-opacity="0.8" stroke="#606060" stroke-opacity="0.8" stroke-width="0.45"/>
<circle cx="459.85" cy="633.4" r="3.1" fill="#f29f7e" fill-opacity="0.8" stroke="#606060" stroke-opacity="0.8" stroke-width="0.45"/>
<circle cx="473.82" cy="633.4" r="4.5" fill="#a81529" fill-opacity="0.8" stroke="#606060" stroke-opacity="0.8" stroke-width="0.45"/>
<circle cx="487.79" cy="633.4" r="1.0" fill="#c9d4dc" stroke="#8a8a8a" stroke-width="0.3"/>
<circle cx="501.76" cy="633.4" r="3.9" fill="#e4eef4" fill-opacity="0.8" stroke="#606060" stroke-opacity="0.8" stroke-width="0.45"/>
<circle cx="515.73" cy="633.4" r="2" fill="#acd2e6" fill-opacity="0.8" stroke="#606060" stroke-opacity="0.8" stroke-width="0.45"/>
<circle cx="529.7" cy="633.4" r="4.5" fill="#ca4942" fill-opacity="0.8" stroke="#606060" stroke-opacity="0.8" stroke-width="0.45"/>
<circle cx="543.67" cy="633.4" r="2.5" fill="#b51e2e" fill-opacity="0.8" stroke="#606060" stroke-opacity="0.8" stroke-width="0.45"/>
<circle cx="557.64" cy="633.4" r="2.5" fill="#f5ae8d" fill-opacity="0.8" stroke="#606060" stroke-opacity="0.8" stroke-width="0.45"/>
<circle cx="571.61" cy="633.4" r="2.2" fill="#fbccb4" fill-opacity="0.8" stroke="#606060" stroke-opacity="0.8" stroke-width="0.45"/>
<circle cx="585.58" cy="633.4" r="1.0" fill="#c9d4dc" stroke="#8a8a8a" stroke-width="0.3"/>
<circle cx="599.55" cy="633.4" r="1.0" fill="#c9d4dc" stroke="#8a8a8a" stroke-width="0.3"/>
<circle cx="613.52" cy="633.4" r="1.0" fill="#c9d4dc" stroke="#8a8a8a" stroke-width="0.3"/>
<circle cx="627.49" cy="633.4" r="3.7" fill="#f8bfa3" fill-opacity="0.8" stroke="#606060" stroke-opacity="0.8" stroke-width="0.45"/>
<circle cx="641.46" cy="633.4" r="3.7" fill="#67001f" fill-opacity="0.8" stroke="#606060" stroke-opacity="0.8" stroke-width="0.45"/>
<circle cx="110.6" cy="643.1" r="1.0" fill="#c9d4dc" stroke="#8a8a8a" stroke-width="0.3"/>
<circle cx="124.57" cy="643.1" r="1.0" fill="#c9d4dc" stroke="#8a8a8a" stroke-width="0.3"/>
<circle cx="138.54" cy="643.1" r="1.0" fill="#78a8cc" stroke="#8a8a8a" stroke-width="0.3"/>
<circle cx="152.51" cy="643.1" r="1.0" fill="#78a8cc" stroke="#8a8a8a" stroke-width="0.3"/>
<circle cx="166.48" cy="643.1" r="1.0" fill="#c9d4dc" stroke="#8a8a8a" stroke-width="0.3"/>
<circle cx="180.45" cy="643.1" r="1.0" fill="#3d70a8" stroke="#8a8a8a" stroke-width="0.3"/>
<circle cx="194.42" cy="643.1" r="1.8" fill="#fbccb4" fill-opacity="0.8" stroke="#606060" stroke-opacity="0.8" stroke-width="0.45"/>
<circle cx="208.39" cy="643.1" r="1.0" fill="#c9d4dc" stroke="#8a8a8a" stroke-width="0.3"/>
<circle cx="222.36" cy="643.1" r="1.0" fill="#78a8cc" stroke="#8a8a8a" stroke-width="0.3"/>
<circle cx="236.33" cy="643.1" r="1.0" fill="#c9d4dc" stroke="#8a8a8a" stroke-width="0.3"/>
<circle cx="250.3" cy="643.1" r="1.0" fill="#78a8cc" stroke="#8a8a8a" stroke-width="0.3"/>
<circle cx="264.27" cy="643.1" r="3.1" fill="#ca4942" fill-opacity="0.8" stroke="#606060" stroke-opacity="0.8" stroke-width="0.45"/>
<circle cx="278.24" cy="643.1" r="1.0" fill="#c9d4dc" stroke="#8a8a8a" stroke-width="0.3"/>
<circle cx="292.21" cy="643.1" r="1.0" fill="#c9d4dc" stroke="#8a8a8a" stroke-width="0.3"/>
<circle cx="306.18" cy="643.1" r="4.7" fill="#67001f" fill-opacity="0.8" stroke="#606060" stroke-opacity="0.8" stroke-width="0.45"/>
<circle cx="320.15" cy="643.1" r="1.0" fill="#c9d4dc" stroke="#8a8a8a" stroke-width="0.3"/>
<circle cx="334.12" cy="643.1" r="1.0" fill="#78a8cc" stroke="#8a8a8a" stroke-width="0.3"/>
<circle cx="348.09" cy="643.1" r="1.0" fill="#c9d4dc" stroke="#8a8a8a" stroke-width="0.3"/>
<circle cx="362.06" cy="643.1" r="1.0" fill="#c9d4dc" stroke="#8a8a8a" stroke-width="0.3"/>
<circle cx="376.03" cy="643.1" r="1.6" fill="#fbccb4" fill-opacity="0.8" stroke="#606060" stroke-opacity="0.8" stroke-width="0.45"/>
<circle cx="390" cy="643.1" r="2.9" fill="#f6b293" fill-opacity="0.8" stroke="#606060" stroke-opacity="0.8" stroke-width="0.45"/>
<circle cx="403.97" cy="643.1" r="3.1" fill="#f5ae8d" fill-opacity="0.8" stroke="#606060" stroke-opacity="0.8" stroke-width="0.45"/>
<circle cx="417.94" cy="643.1" r="1.0" fill="#c9d4dc" stroke="#8a8a8a" stroke-width="0.3"/>
<circle cx="431.91" cy="643.1" r="1.0" fill="#c9d4dc" stroke="#8a8a8a" stroke-width="0.3"/>
<circle cx="445.88" cy="643.1" r="2.2" fill="#fcdecc" fill-opacity="0.8" stroke="#606060" stroke-opacity="0.8" stroke-width="0.45"/>
<circle cx="459.85" cy="643.1" r="3.7" fill="#c94741" fill-opacity="0.8" stroke="#606060" stroke-opacity="0.8" stroke-width="0.45"/>
<circle cx="473.82" cy="643.1" r="3.7" fill="#c94741" fill-opacity="0.8" stroke="#606060" stroke-opacity="0.8" stroke-width="0.45"/>
<circle cx="487.79" cy="643.1" r="1.0" fill="#78a8cc" stroke="#8a8a8a" stroke-width="0.3"/>
<circle cx="501.76" cy="643.1" r="1.0" fill="#c9d4dc" stroke="#8a8a8a" stroke-width="0.3"/>
<circle cx="515.73" cy="643.1" r="2" fill="#f1f4f6" fill-opacity="0.8" stroke="#606060" stroke-opacity="0.8" stroke-width="0.45"/>
<circle cx="529.7" cy="643.1" r="3.3" fill="#db6c57" fill-opacity="0.8" stroke="#606060" stroke-opacity="0.8" stroke-width="0.45"/>
<circle cx="543.67" cy="643.1" r="3.1" fill="#c84540" fill-opacity="0.8" stroke="#606060" stroke-opacity="0.8" stroke-width="0.45"/>
<circle cx="557.64" cy="643.1" r="3.1" fill="#cf5247" fill-opacity="0.8" stroke="#606060" stroke-opacity="0.8" stroke-width="0.45"/>
<circle cx="571.61" cy="643.1" r="1.8" fill="#fbccb4" fill-opacity="0.8" stroke="#606060" stroke-opacity="0.8" stroke-width="0.45"/>
<circle cx="585.58" cy="643.1" r="2" fill="#fbccb4" fill-opacity="0.8" stroke="#606060" stroke-opacity="0.8" stroke-width="0.45"/>
<circle cx="599.55" cy="643.1" r="1.0" fill="#78a8cc" stroke="#8a8a8a" stroke-width="0.3"/>
<circle cx="613.52" cy="643.1" r="1.0" fill="#c9d4dc" stroke="#8a8a8a" stroke-width="0.3"/>
<circle cx="627.49" cy="643.1" r="1.6" fill="#f1f4f6" fill-opacity="0.8" stroke="#606060" stroke-opacity="0.8" stroke-width="0.45"/>
<circle cx="641.46" cy="643.1" r="4.5" fill="#67001f" fill-opacity="0.8" stroke="#606060" stroke-opacity="0.8" stroke-width="0.45"/>
<circle cx="110.6" cy="652.8" r="1.0" fill="#dd8b74" stroke="#8a8a8a" stroke-width="0.3"/>
<circle cx="124.57" cy="652.8" r="1.0" fill="#a3263f" stroke="#8a8a8a" stroke-width="0.3"/>
<circle cx="138.54" cy="652.8" r="1.0" fill="#c9d4dc" stroke="#8a8a8a" stroke-width="0.3"/>
<circle cx="152.51" cy="652.8" r="3.1" fill="#c8e0ed" fill-opacity="0.8" stroke="#606060" stroke-opacity="0.8" stroke-width="0.45"/>
<circle cx="166.48" cy="652.8" r="2.7" fill="#d9e9f1" fill-opacity="0.8" stroke="#606060" stroke-opacity="0.8" stroke-width="0.45"/>
<circle cx="180.45" cy="652.8" r="3.5" fill="#b8d8e9" fill-opacity="0.8" stroke="#606060" stroke-opacity="0.8" stroke-width="0.45"/>
<circle cx="194.42" cy="652.8" r="4.1" fill="#95c7df" fill-opacity="0.8" stroke="#606060" stroke-opacity="0.8" stroke-width="0.45"/>
<circle cx="208.39" cy="652.8" r="2.5" fill="#d9e9f1" fill-opacity="0.8" stroke="#606060" stroke-opacity="0.8" stroke-width="0.45"/>
<circle cx="222.36" cy="652.8" r="1.0" fill="#c9d4dc" stroke="#8a8a8a" stroke-width="0.3"/>
<circle cx="236.33" cy="652.8" r="1.6" fill="#f1f4f6" fill-opacity="0.8" stroke="#606060" stroke-opacity="0.8" stroke-width="0.45"/>
<circle cx="250.3" cy="652.8" r="2.9" fill="#d3e6f0" fill-opacity="0.8" stroke="#606060" stroke-opacity="0.8" stroke-width="0.45"/>
<circle cx="264.27" cy="652.8" r="2.9" fill="#d3e6f0" fill-opacity="0.8" stroke="#606060" stroke-opacity="0.8" stroke-width="0.45"/>
<circle cx="278.24" cy="652.8" r="1.8" fill="#f1f4f6" fill-opacity="0.8" stroke="#606060" stroke-opacity="0.8" stroke-width="0.45"/>
<circle cx="292.21" cy="652.8" r="4.9" fill="#4292c3" fill-opacity="0.8" stroke="#606060" stroke-opacity="0.8" stroke-width="0.45"/>
<circle cx="306.18" cy="652.8" r="1.0" fill="#dd8b74" stroke="#8a8a8a" stroke-width="0.3"/>
<circle cx="320.15" cy="652.8" r="2" fill="#f1f4f6" fill-opacity="0.8" stroke="#606060" stroke-opacity="0.8" stroke-width="0.45"/>
<circle cx="334.12" cy="652.8" r="1.4" fill="#f1f4f6" fill-opacity="0.8" stroke="#606060" stroke-opacity="0.8" stroke-width="0.45"/>
<circle cx="348.09" cy="652.8" r="1.0" fill="#c9d4dc" stroke="#8a8a8a" stroke-width="0.3"/>
<circle cx="362.06" cy="652.8" r="1.0" fill="#c9d4dc" stroke="#8a8a8a" stroke-width="0.3"/>
<circle cx="376.03" cy="652.8" r="2.5" fill="#d3e6f0" fill-opacity="0.8" stroke="#606060" stroke-opacity="0.8" stroke-width="0.45"/>
<circle cx="390" cy="652.8" r="1.0" fill="#c9d4dc" stroke="#8a8a8a" stroke-width="0.3"/>
<circle cx="403.97" cy="652.8" r="4.7" fill="#529cc8" fill-opacity="0.8" stroke="#606060" stroke-opacity="0.8" stroke-width="0.45"/>
<circle cx="417.94" cy="652.8" r="1.0" fill="#c9d4dc" stroke="#8a8a8a" stroke-width="0.3"/>
<circle cx="431.91" cy="652.8" r="1.0" fill="#dd8b74" stroke="#8a8a8a" stroke-width="0.3"/>
<circle cx="445.88" cy="652.8" r="4.5" fill="#79b5d5" fill-opacity="0.8" stroke="#606060" stroke-opacity="0.8" stroke-width="0.45"/>
<circle cx="459.85" cy="652.8" r="7.4" fill="#0a3a6e" fill-opacity="0.8" stroke="#606060" stroke-opacity="0.8" stroke-width="0.45"/>
<circle cx="473.82" cy="652.8" r="1.0" fill="#c9d4dc" stroke="#8a8a8a" stroke-width="0.3"/>
<circle cx="487.79" cy="652.8" r="5.5" fill="#327db8" fill-opacity="0.8" stroke="#606060" stroke-opacity="0.8" stroke-width="0.45"/>
<circle cx="501.76" cy="652.8" r="1.0" fill="#a3263f" stroke="#8a8a8a" stroke-width="0.3"/>
<circle cx="515.73" cy="652.8" r="7.4" fill="#0a3a6e" fill-opacity="0.8" stroke="#606060" stroke-opacity="0.8" stroke-width="0.45"/>
<circle cx="529.7" cy="652.8" r="4.1" fill="#85bcd9" fill-opacity="0.8" stroke="#606060" stroke-opacity="0.8" stroke-width="0.45"/>
<circle cx="543.67" cy="652.8" r="1.8" fill="#f1f4f6" fill-opacity="0.8" stroke="#606060" stroke-opacity="0.8" stroke-width="0.45"/>
<circle cx="557.64" cy="652.8" r="1.0" fill="#c9d4dc" stroke="#8a8a8a" stroke-width="0.3"/>
<circle cx="571.61" cy="652.8" r="1.0" fill="#dd8b74" stroke="#8a8a8a" stroke-width="0.3"/>
<circle cx="585.58" cy="652.8" r="6.1" fill="#0a3a6e" fill-opacity="0.8" stroke="#606060" stroke-opacity="0.8" stroke-width="0.45"/>
<circle cx="599.55" cy="652.8" r="1.0" fill="#c9d4dc" stroke="#8a8a8a" stroke-width="0.3"/>
<circle cx="613.52" cy="652.8" r="1.8" fill="#f1f4f6" fill-opacity="0.8" stroke="#606060" stroke-opacity="0.8" stroke-width="0.45"/>
<circle cx="627.49" cy="652.8" r="6.3" fill="#0a3a6e" fill-opacity="0.8" stroke="#606060" stroke-opacity="0.8" stroke-width="0.45"/>
<circle cx="641.46" cy="652.8" r="1.0" fill="#c9d4dc" stroke="#8a8a8a" stroke-width="0.3"/>
<circle cx="110.6" cy="662.5" r="2" fill="#fbccb4" fill-opacity="0.8" stroke="#606060" stroke-opacity="0.8" stroke-width="0.45"/>
<circle cx="124.57" cy="662.5" r="2" fill="#f4a683" fill-opacity="0.8" stroke="#606060" stroke-opacity="0.8" stroke-width="0.45"/>
<circle cx="138.54" cy="662.5" r="1.0" fill="#dd8b74" stroke="#8a8a8a" stroke-width="0.3"/>
<circle cx="152.51" cy="662.5" r="2" fill="#da6a55" fill-opacity="0.8" stroke="#606060" stroke-opacity="0.8" stroke-width="0.45"/>
<circle cx="166.48" cy="662.5" r="4.5" fill="#f9f0eb" fill-opacity="0.8" stroke="#606060" stroke-opacity="0.8" stroke-width="0.45"/>
<circle cx="180.45" cy="662.5" r="5.5" fill="#f8f0eb" fill-opacity="0.8" stroke="#606060" stroke-opacity="0.8" stroke-width="0.45"/>
<circle cx="194.42" cy="662.5" r="1.0" fill="#c9d4dc" stroke="#8a8a8a" stroke-width="0.3"/>
<circle cx="208.39" cy="662.5" r="1.0" fill="#c9d4dc" stroke="#8a8a8a" stroke-width="0.3"/>
<circle cx="222.36" cy="662.5" r="1.0" fill="#c9d4dc" stroke="#8a8a8a" stroke-width="0.3"/>
<circle cx="236.33" cy="662.5" r="2.5" fill="#fce0cf" fill-opacity="0.8" stroke="#606060" stroke-opacity="0.8" stroke-width="0.45"/>
<circle cx="250.3" cy="662.5" r="7.4" fill="#2166ac" fill-opacity="0.8" stroke="#606060" stroke-opacity="0.8" stroke-width="0.45"/>
<circle cx="264.27" cy="662.5" r="1.0" fill="#c9d4dc" stroke="#8a8a8a" stroke-width="0.3"/>
<circle cx="278.24" cy="662.5" r="1.0" fill="#dd8b74" stroke="#8a8a8a" stroke-width="0.3"/>
<circle cx="292.21" cy="662.5" r="2.7" fill="#d3e6f0" fill-opacity="0.8" stroke="#606060" stroke-opacity="0.8" stroke-width="0.45"/>
<circle cx="306.18" cy="662.5" r="1.0" fill="#c9d4dc" stroke="#8a8a8a" stroke-width="0.3"/>
<circle cx="320.15" cy="662.5" r="4.1" fill="#3682ba" fill-opacity="0.8" stroke="#606060" stroke-opacity="0.8" stroke-width="0.45"/>
<circle cx="334.12" cy="662.5" r="5.5" fill="#fac8ae" fill-opacity="0.8" stroke="#606060" stroke-opacity="0.8" stroke-width="0.45"/>
<circle cx="348.09" cy="662.5" r="1.0" fill="#c9d4dc" stroke="#8a8a8a" stroke-width="0.3"/>
<circle cx="362.06" cy="662.5" r="1.0" fill="#dd8b74" stroke="#8a8a8a" stroke-width="0.3"/>
<circle cx="376.03" cy="662.5" r="4.7" fill="#e4eef3" fill-opacity="0.8" stroke="#606060" stroke-opacity="0.8" stroke-width="0.45"/>
<circle cx="390" cy="662.5" r="1.0" fill="#c9d4dc" stroke="#8a8a8a" stroke-width="0.3"/>
<circle cx="403.97" cy="662.5" r="1.0" fill="#78a8cc" stroke="#8a8a8a" stroke-width="0.3"/>
<circle cx="417.94" cy="662.5" r="1.0" fill="#dd8b74" stroke="#8a8a8a" stroke-width="0.3"/>
<circle cx="431.91" cy="662.5" r="5.5" fill="#75b2d4" fill-opacity="0.8" stroke="#606060" stroke-opacity="0.8" stroke-width="0.45"/>
<circle cx="445.88" cy="662.5" r="4.3" fill="#79b5d5" fill-opacity="0.8" stroke="#606060" stroke-opacity="0.8" stroke-width="0.45"/>
<circle cx="459.85" cy="662.5" r="1.0" fill="#c9d4dc" stroke="#8a8a8a" stroke-width="0.3"/>
<circle cx="473.82" cy="662.5" r="1.0" fill="#c9d4dc" stroke="#8a8a8a" stroke-width="0.3"/>
<circle cx="487.79" cy="662.5" r="3.3" fill="#f6b191" fill-opacity="0.8" stroke="#606060" stroke-opacity="0.8" stroke-width="0.45"/>
<circle cx="501.76" cy="662.5" r="1.0" fill="#78a8cc" stroke="#8a8a8a" stroke-width="0.3"/>
<circle cx="515.73" cy="662.5" r="1.0" fill="#c9d4dc" stroke="#8a8a8a" stroke-width="0.3"/>
<circle cx="529.7" cy="662.5" r="1.0" fill="#c9d4dc" stroke="#8a8a8a" stroke-width="0.3"/>
<circle cx="543.67" cy="662.5" r="3.3" fill="#f7b596" fill-opacity="0.8" stroke="#606060" stroke-opacity="0.8" stroke-width="0.45"/>
<circle cx="557.64" cy="662.5" r="4.1" fill="#f9eee8" fill-opacity="0.8" stroke="#606060" stroke-opacity="0.8" stroke-width="0.45"/>
<circle cx="571.61" cy="662.5" r="1.0" fill="#c9d4dc" stroke="#8a8a8a" stroke-width="0.3"/>
<circle cx="585.58" cy="662.5" r="1.0" fill="#dd8b74" stroke="#8a8a8a" stroke-width="0.3"/>
<circle cx="599.55" cy="662.5" r="3.7" fill="#f7b596" fill-opacity="0.8" stroke="#606060" stroke-opacity="0.8" stroke-width="0.45"/>
<circle cx="613.52" cy="662.5" r="3.3" fill="#d4e6f0" fill-opacity="0.8" stroke="#606060" stroke-opacity="0.8" stroke-width="0.45"/>
<circle cx="627.49" cy="662.5" r="1.0" fill="#c9d4dc" stroke="#8a8a8a" stroke-width="0.3"/>
<circle cx="641.46" cy="662.5" r="4.7" fill="#deebf2" fill-opacity="0.8" stroke="#606060" stroke-opacity="0.8" stroke-width="0.45"/>
<circle cx="110.6" cy="672.2" r="3.3" fill="#acd2e6" fill-opacity="0.8" stroke="#606060" stroke-opacity="0.8" stroke-width="0.45"/>
<circle cx="124.57" cy="672.2" r="2" fill="#deebf2" fill-opacity="0.8" stroke="#606060" stroke-opacity="0.8" stroke-width="0.45"/>
<circle cx="138.54" cy="672.2" r="1.0" fill="#c9d4dc" stroke="#8a8a8a" stroke-width="0.3"/>
<circle cx="152.51" cy="672.2" r="1.8" fill="#deebf2" fill-opacity="0.8" stroke="#606060" stroke-opacity="0.8" stroke-width="0.45"/>
<circle cx="166.48" cy="672.2" r="2.5" fill="#c3deec" fill-opacity="0.8" stroke="#606060" stroke-opacity="0.8" stroke-width="0.45"/>
<circle cx="180.45" cy="672.2" r="1.0" fill="#dd8b74" stroke="#8a8a8a" stroke-width="0.3"/>
<circle cx="194.42" cy="672.2" r="2.7" fill="#b6d7e8" fill-opacity="0.8" stroke="#606060" stroke-opacity="0.8" stroke-width="0.45"/>
<circle cx="208.39" cy="672.2" r="1.0" fill="#c9d4dc" stroke="#8a8a8a" stroke-width="0.3"/>
<circle cx="222.36" cy="672.2" r="1.6" fill="#f1f4f6" fill-opacity="0.8" stroke="#606060" stroke-opacity="0.8" stroke-width="0.45"/>
<circle cx="236.33" cy="672.2" r="3.7" fill="#5fa4cc" fill-opacity="0.8" stroke="#606060" stroke-opacity="0.8" stroke-width="0.45"/>
<circle cx="250.3" cy="672.2" r="2.9" fill="#b6d7e8" fill-opacity="0.8" stroke="#606060" stroke-opacity="0.8" stroke-width="0.45"/>
<circle cx="264.27" cy="672.2" r="1.4" fill="#f1f4f6" fill-opacity="0.8" stroke="#606060" stroke-opacity="0.8" stroke-width="0.45"/>
<circle cx="278.24" cy="672.2" r="2.2" fill="#deebf2" fill-opacity="0.8" stroke="#606060" stroke-opacity="0.8" stroke-width="0.45"/>
<circle cx="292.21" cy="672.2" r="1.0" fill="#c9d4dc" stroke="#8a8a8a" stroke-width="0.3"/>
<circle cx="306.18" cy="672.2" r="1.0" fill="#c9d4dc" stroke="#8a8a8a" stroke-width="0.3"/>
<circle cx="320.15" cy="672.2" r="2.7" fill="#b6d7e8" fill-opacity="0.8" stroke="#606060" stroke-opacity="0.8" stroke-width="0.45"/>
<circle cx="334.12" cy="672.2" r="3.7" fill="#7db8d7" fill-opacity="0.8" stroke="#606060" stroke-opacity="0.8" stroke-width="0.45"/>
<circle cx="348.09" cy="672.2" r="3.7" fill="#88beda" fill-opacity="0.8" stroke="#606060" stroke-opacity="0.8" stroke-width="0.45"/>
<circle cx="362.06" cy="672.2" r="1.0" fill="#c9d4dc" stroke="#8a8a8a" stroke-width="0.3"/>
<circle cx="376.03" cy="672.2" r="2" fill="#deebf2" fill-opacity="0.8" stroke="#606060" stroke-opacity="0.8" stroke-width="0.45"/>
<circle cx="390" cy="672.2" r="3.7" fill="#85bcd9" fill-opacity="0.8" stroke="#606060" stroke-opacity="0.8" stroke-width="0.45"/>
<circle cx="403.97" cy="672.2" r="3.1" fill="#c3deec" fill-opacity="0.8" stroke="#606060" stroke-opacity="0.8" stroke-width="0.45"/>
<circle cx="417.94" cy="672.2" r="1.0" fill="#c9d4dc" stroke="#8a8a8a" stroke-width="0.3"/>
<circle cx="431.91" cy="672.2" r="2.7" fill="#cfe4ef" fill-opacity="0.8" stroke="#606060" stroke-opacity="0.8" stroke-width="0.45"/>
<circle cx="445.88" cy="672.2" r="2.2" fill="#deebf2" fill-opacity="0.8" stroke="#606060" stroke-opacity="0.8" stroke-width="0.45"/>
<circle cx="459.85" cy="672.2" r="3.7" fill="#89bfdb" fill-opacity="0.8" stroke="#606060" stroke-opacity="0.8" stroke-width="0.45"/>
<circle cx="473.82" cy="672.2" r="1.4" fill="#f1f4f6" fill-opacity="0.8" stroke="#606060" stroke-opacity="0.8" stroke-width="0.45"/>
<circle cx="487.79" cy="672.2" r="1.6" fill="#f1f4f6" fill-opacity="0.8" stroke="#606060" stroke-opacity="0.8" stroke-width="0.45"/>
<circle cx="501.76" cy="672.2" r="1.8" fill="#f1f4f6" fill-opacity="0.8" stroke="#606060" stroke-opacity="0.8" stroke-width="0.45"/>
<circle cx="515.73" cy="672.2" r="2.2" fill="#deebf2" fill-opacity="0.8" stroke="#606060" stroke-opacity="0.8" stroke-width="0.45"/>
<circle cx="529.7" cy="672.2" r="3.1" fill="#acd2e6" fill-opacity="0.8" stroke="#606060" stroke-opacity="0.8" stroke-width="0.45"/>
<circle cx="543.67" cy="672.2" r="3.1" fill="#acd2e6" fill-opacity="0.8" stroke="#606060" stroke-opacity="0.8" stroke-width="0.45"/>
<circle cx="557.64" cy="672.2" r="1.0" fill="#c9d4dc" stroke="#8a8a8a" stroke-width="0.3"/>
<circle cx="571.61" cy="672.2" r="1.0" fill="#c9d4dc" stroke="#8a8a8a" stroke-width="0.3"/>
<circle cx="585.58" cy="672.2" r="1.0" fill="#c9d4dc" stroke="#8a8a8a" stroke-width="0.3"/>
<circle cx="599.55" cy="672.2" r="3.1" fill="#95c7df" fill-opacity="0.8" stroke="#606060" stroke-opacity="0.8" stroke-width="0.45"/>
<circle cx="613.52" cy="672.2" r="3.1" fill="#a0cce2" fill-opacity="0.8" stroke="#606060" stroke-opacity="0.8" stroke-width="0.45"/>
<circle cx="627.49" cy="672.2" r="1.0" fill="#c9d4dc" stroke="#8a8a8a" stroke-width="0.3"/>
<circle cx="641.46" cy="672.2" r="2.5" fill="#deebf2" fill-opacity="0.8" stroke="#606060" stroke-opacity="0.8" stroke-width="0.45"/>
<circle cx="110.6" cy="681.9" r="1.0" fill="#c9d4dc" stroke="#8a8a8a" stroke-width="0.3"/>
<circle cx="124.57" cy="681.9" r="3.1" fill="#99c9e0" fill-opacity="0.8" stroke="#606060" stroke-opacity="0.8" stroke-width="0.45"/>
<circle cx="138.54" cy="681.9" r="1.0" fill="#c9d4dc" stroke="#8a8a8a" stroke-width="0.3"/>
<circle cx="152.51" cy="681.9" r="3.3" fill="#60a6cd" fill-opacity="0.8" stroke="#606060" stroke-opacity="0.8" stroke-width="0.45"/>
<circle cx="166.48" cy="681.9" r="1.4" fill="#deebf2" fill-opacity="0.8" stroke="#606060" stroke-opacity="0.8" stroke-width="0.45"/>
<circle cx="180.45" cy="681.9" r="1.0" fill="#c9d4dc" stroke="#8a8a8a" stroke-width="0.3"/>
<circle cx="194.42" cy="681.9" r="1.0" fill="#c9d4dc" stroke="#8a8a8a" stroke-width="0.3"/>
<circle cx="208.39" cy="681.9" r="1.0" fill="#c9d4dc" stroke="#8a8a8a" stroke-width="0.3"/>
<circle cx="222.36" cy="681.9" r="1.6" fill="#deebf2" fill-opacity="0.8" stroke="#606060" stroke-opacity="0.8" stroke-width="0.45"/>
<circle cx="236.33" cy="681.9" r="3.1" fill="#90c4dd" fill-opacity="0.8" stroke="#606060" stroke-opacity="0.8" stroke-width="0.45"/>
<circle cx="250.3" cy="681.9" r="3.5" fill="#67aacf" fill-opacity="0.8" stroke="#606060" stroke-opacity="0.8" stroke-width="0.45"/>
<circle cx="264.27" cy="681.9" r="1.4" fill="#f1f4f6" fill-opacity="0.8" stroke="#606060" stroke-opacity="0.8" stroke-width="0.45"/>
<circle cx="278.24" cy="681.9" r="2.7" fill="#b6d7e8" fill-opacity="0.8" stroke="#606060" stroke-opacity="0.8" stroke-width="0.45"/>
<circle cx="292.21" cy="681.9" r="1.6" fill="#f1f4f6" fill-opacity="0.8" stroke="#606060" stroke-opacity="0.8" stroke-width="0.45"/>
<circle cx="306.18" cy="681.9" r="2.2" fill="#cae1ee" fill-opacity="0.8" stroke="#606060" stroke-opacity="0.8" stroke-width="0.45"/>
<circle cx="320.15" cy="681.9" r="1.4" fill="#f1f4f6" fill-opacity="0.8" stroke="#606060" stroke-opacity="0.8" stroke-width="0.45"/>
<circle cx="334.12" cy="681.9" r="4.1" fill="#3581ba" fill-opacity="0.8" stroke="#606060" stroke-opacity="0.8" stroke-width="0.45"/>
<circle cx="348.09" cy="681.9" r="2.9" fill="#a0cce2" fill-opacity="0.8" stroke="#606060" stroke-opacity="0.8" stroke-width="0.45"/>
<circle cx="362.06" cy="681.9" r="2.9" fill="#a7d0e4" fill-opacity="0.8" stroke="#606060" stroke-opacity="0.8" stroke-width="0.45"/>
<circle cx="376.03" cy="681.9" r="1.4" fill="#f1f4f6" fill-opacity="0.8" stroke="#606060" stroke-opacity="0.8" stroke-width="0.45"/>
<circle cx="390" cy="681.9" r="2" fill="#deebf2" fill-opacity="0.8" stroke="#606060" stroke-opacity="0.8" stroke-width="0.45"/>
<circle cx="403.97" cy="681.9" r="1.0" fill="#c9d4dc" stroke="#8a8a8a" stroke-width="0.3"/>
<circle cx="417.94" cy="681.9" r="1.0" fill="#c9d4dc" stroke="#8a8a8a" stroke-width="0.3"/>
<circle cx="431.91" cy="681.9" r="1.0" fill="#c9d4dc" stroke="#8a8a8a" stroke-width="0.3"/>
<circle cx="445.88" cy="681.9" r="4.1" fill="#3885bc" fill-opacity="0.8" stroke="#606060" stroke-opacity="0.8" stroke-width="0.45"/>
<circle cx="459.85" cy="681.9" r="1.0" fill="#dd8b74" stroke="#8a8a8a" stroke-width="0.3"/>
<circle cx="473.82" cy="681.9" r="2.2" fill="#deebf2" fill-opacity="0.8" stroke="#606060" stroke-opacity="0.8" stroke-width="0.45"/>
<circle cx="487.79" cy="681.9" r="3.3" fill="#75b2d4" fill-opacity="0.8" stroke="#606060" stroke-opacity="0.8" stroke-width="0.45"/>
<circle cx="501.76" cy="681.9" r="3.3" fill="#8ec2dd" fill-opacity="0.8" stroke="#606060" stroke-opacity="0.8" stroke-width="0.45"/>
<circle cx="515.73" cy="681.9" r="1.0" fill="#dd8b74" stroke="#8a8a8a" stroke-width="0.3"/>
<circle cx="529.7" cy="681.9" r="3.1" fill="#90c4dd" fill-opacity="0.8" stroke="#606060" stroke-opacity="0.8" stroke-width="0.45"/>
<circle cx="543.67" cy="681.9" r="3.3" fill="#90c4dd" fill-opacity="0.8" stroke="#606060" stroke-opacity="0.8" stroke-width="0.45"/>
<circle cx="557.64" cy="681.9" r="2.5" fill="#b6d7e8" fill-opacity="0.8" stroke="#606060" stroke-opacity="0.8" stroke-width="0.45"/>
<circle cx="571.61" cy="681.9" r="1.0" fill="#c9d4dc" stroke="#8a8a8a" stroke-width="0.3"/>
<circle cx="585.58" cy="681.9" r="2.5" fill="#acd2e6" fill-opacity="0.8" stroke="#606060" stroke-opacity="0.8" stroke-width="0.45"/>
<circle cx="599.55" cy="681.9" r="3.3" fill="#70b0d2" fill-opacity="0.8" stroke="#606060" stroke-opacity="0.8" stroke-width="0.45"/>
<circle cx="613.52" cy="681.9" r="1.0" fill="#c9d4dc" stroke="#8a8a8a" stroke-width="0.3"/>
<circle cx="627.49" cy="681.9" r="1.0" fill="#c9d4dc" stroke="#8a8a8a" stroke-width="0.3"/>
<circle cx="641.46" cy="681.9" r="2.9" fill="#95c7df" fill-opacity="0.8" stroke="#606060" stroke-opacity="0.8" stroke-width="0.45"/>
<circle cx="110.6" cy="691.6" r="1.2" fill="#f1f4f6" fill-opacity="0.8" stroke="#606060" stroke-opacity="0.8" stroke-width="0.45"/>
<circle cx="124.57" cy="691.6" r="1.0" fill="#c9d4dc" stroke="#8a8a8a" stroke-width="0.3"/>
<circle cx="138.54" cy="691.6" r="1.6" fill="#deebf2" fill-opacity="0.8" stroke="#606060" stroke-opacity="0.8" stroke-width="0.45"/>
<circle cx="152.51" cy="691.6" r="2" fill="#deebf2" fill-opacity="0.8" stroke="#606060" stroke-opacity="0.8" stroke-width="0.45"/>
<circle cx="166.48" cy="691.6" r="3.3" fill="#3682ba" fill-opacity="0.8" stroke="#606060" stroke-opacity="0.8" stroke-width="0.45"/>
<circle cx="180.45" cy="691.6" r="3.1" fill="#59a1cb" fill-opacity="0.8" stroke="#606060" stroke-opacity="0.8" stroke-width="0.45"/>
<circle cx="194.42" cy="691.6" r="1.6" fill="#b6d7e8" fill-opacity="0.8" stroke="#606060" stroke-opacity="0.8" stroke-width="0.45"/>
<circle cx="208.39" cy="691.6" r="1.0" fill="#dd8b74" stroke="#8a8a8a" stroke-width="0.3"/>
<circle cx="222.36" cy="691.6" r="1.0" fill="#c9d4dc" stroke="#8a8a8a" stroke-width="0.3"/>
<circle cx="236.33" cy="691.6" r="1.2" fill="#f1f4f6" fill-opacity="0.8" stroke="#606060" stroke-opacity="0.8" stroke-width="0.45"/>
<circle cx="250.3" cy="691.6" r="2.9" fill="#9dcbe1" fill-opacity="0.8" stroke="#606060" stroke-opacity="0.8" stroke-width="0.45"/>
<circle cx="264.27" cy="691.6" r="1.0" fill="#dd8b74" stroke="#8a8a8a" stroke-width="0.3"/>
<circle cx="278.24" cy="691.6" r="3.3" fill="#6eaed2" fill-opacity="0.8" stroke="#606060" stroke-opacity="0.8" stroke-width="0.45"/>
<circle cx="292.21" cy="691.6" r="2" fill="#b6d7e8" fill-opacity="0.8" stroke="#606060" stroke-opacity="0.8" stroke-width="0.45"/>
<circle cx="306.18" cy="691.6" r="1.0" fill="#dd8b74" stroke="#8a8a8a" stroke-width="0.3"/>
<circle cx="320.15" cy="691.6" r="1.4" fill="#f1f4f6" fill-opacity="0.8" stroke="#606060" stroke-opacity="0.8" stroke-width="0.45"/>
<circle cx="334.12" cy="691.6" r="4.1" fill="#1b5a9c" fill-opacity="0.8" stroke="#606060" stroke-opacity="0.8" stroke-width="0.45"/>
<circle cx="348.09" cy="691.6" r="3.1" fill="#559ec9" fill-opacity="0.8" stroke="#606060" stroke-opacity="0.8" stroke-width="0.45"/>
<circle cx="362.06" cy="691.6" r="1.0" fill="#c9d4dc" stroke="#8a8a8a" stroke-width="0.3"/>
<circle cx="376.03" cy="691.6" r="2" fill="#deebf2" fill-opacity="0.8" stroke="#606060" stroke-opacity="0.8" stroke-width="0.45"/>
<circle cx="390" cy="691.6" r="1.0" fill="#c9d4dc" stroke="#8a8a8a" stroke-width="0.3"/>
<circle cx="403.97" cy="691.6" r="2.7" fill="#75b2d4" fill-opacity="0.8" stroke="#606060" stroke-opacity="0.8" stroke-width="0.45"/>
<circle cx="417.94" cy="691.6" r="1.0" fill="#c9d4dc" stroke="#8a8a8a" stroke-width="0.3"/>
<circle cx="431.91" cy="691.6" r="1.2" fill="#f1f4f6" fill-opacity="0.8" stroke="#606060" stroke-opacity="0.8" stroke-width="0.45"/>
<circle cx="445.88" cy="691.6" r="1.0" fill="#c9d4dc" stroke="#8a8a8a" stroke-width="0.3"/>
<circle cx="459.85" cy="691.6" r="3.3" fill="#3885bc" fill-opacity="0.8" stroke="#606060" stroke-opacity="0.8" stroke-width="0.45"/>
<circle cx="473.82" cy="691.6" r="2.2" fill="#deebf2" fill-opacity="0.8" stroke="#606060" stroke-opacity="0.8" stroke-width="0.45"/>
<circle cx="487.79" cy="691.6" r="1.0" fill="#c9d4dc" stroke="#8a8a8a" stroke-width="0.3"/>
<circle cx="501.76" cy="691.6" r="1.0" fill="#c9d4dc" stroke="#8a8a8a" stroke-width="0.3"/>
<circle cx="515.73" cy="691.6" r="1.0" fill="#c9d4dc" stroke="#8a8a8a" stroke-width="0.3"/>
<circle cx="529.7" cy="691.6" r="1.0" fill="#dd8b74" stroke="#8a8a8a" stroke-width="0.3"/>
<circle cx="543.67" cy="691.6" r="2.2" fill="#deebf2" fill-opacity="0.8" stroke="#606060" stroke-opacity="0.8" stroke-width="0.45"/>
<circle cx="557.64" cy="691.6" r="1.0" fill="#dd8b74" stroke="#8a8a8a" stroke-width="0.3"/>
<circle cx="571.61" cy="691.6" r="3.3" fill="#3885bc" fill-opacity="0.8" stroke="#606060" stroke-opacity="0.8" stroke-width="0.45"/>
<circle cx="585.58" cy="691.6" r="1.6" fill="#f1f4f6" fill-opacity="0.8" stroke="#606060" stroke-opacity="0.8" stroke-width="0.45"/>
<circle cx="599.55" cy="691.6" r="2" fill="#deebf2" fill-opacity="0.8" stroke="#606060" stroke-opacity="0.8" stroke-width="0.45"/>
<circle cx="613.52" cy="691.6" r="2.5" fill="#90c4dd" fill-opacity="0.8" stroke="#606060" stroke-opacity="0.8" stroke-width="0.45"/>
<circle cx="627.49" cy="691.6" r="2" fill="#acd2e6" fill-opacity="0.8" stroke="#606060" stroke-opacity="0.8" stroke-width="0.45"/>
<circle cx="641.46" cy="691.6" r="1.0" fill="#c9d4dc" stroke="#8a8a8a" stroke-width="0.3"/>
<circle cx="110.6" cy="701.3" r="1.0" fill="#dd8b74" stroke="#8a8a8a" stroke-width="0.3"/>
<circle cx="124.57" cy="701.3" r="1.0" fill="#a3263f" stroke="#8a8a8a" stroke-width="0.3"/>
<circle cx="138.54" cy="701.3" r="1.0" fill="#c9d4dc" stroke="#8a8a8a" stroke-width="0.3"/>
<circle cx="152.51" cy="701.3" r="2.2" fill="#f4a481" fill-opacity="0.8" stroke="#606060" stroke-opacity="0.8" stroke-width="0.45"/>
<circle cx="166.48" cy="701.3" r="1.0" fill="#dd8b74" stroke="#8a8a8a" stroke-width="0.3"/>
<circle cx="180.45" cy="701.3" r="1.0" fill="#c9d4dc" stroke="#8a8a8a" stroke-width="0.3"/>
<circle cx="194.42" cy="701.3" r="1.0" fill="#c9d4dc" stroke="#8a8a8a" stroke-width="0.3"/>
<circle cx="208.39" cy="701.3" r="1.0" fill="#c9d4dc" stroke="#8a8a8a" stroke-width="0.3"/>
<circle cx="222.36" cy="701.3" r="1.0" fill="#c9d4dc" stroke="#8a8a8a" stroke-width="0.3"/>
<circle cx="236.33" cy="701.3" r="1.0" fill="#c9d4dc" stroke="#8a8a8a" stroke-width="0.3"/>
<circle cx="250.3" cy="701.3" r="4.9" fill="#e9f1f4" fill-opacity="0.8" stroke="#606060" stroke-opacity="0.8" stroke-width="0.45"/>
<circle cx="264.27" cy="701.3" r="3.7" fill="#e3eef3" fill-opacity="0.8" stroke="#606060" stroke-opacity="0.8" stroke-width="0.45"/>
<circle cx="278.24" cy="701.3" r="1.0" fill="#dd8b74" stroke="#8a8a8a" stroke-width="0.3"/>
<circle cx="292.21" cy="701.3" r="1.0" fill="#c9d4dc" stroke="#8a8a8a" stroke-width="0.3"/>
<circle cx="306.18" cy="701.3" r="1.0" fill="#c9d4dc" stroke="#8a8a8a" stroke-width="0.3"/>
<circle cx="320.15" cy="701.3" r="3.7" fill="#3885bc" fill-opacity="0.8" stroke="#606060" stroke-opacity="0.8" stroke-width="0.45"/>
<circle cx="334.12" cy="701.3" r="3.7" fill="#e27c63" fill-opacity="0.8" stroke="#606060" stroke-opacity="0.8" stroke-width="0.45"/>
<circle cx="348.09" cy="701.3" r="1.0" fill="#dd8b74" stroke="#8a8a8a" stroke-width="0.3"/>
<circle cx="362.06" cy="701.3" r="1.0" fill="#dd8b74" stroke="#8a8a8a" stroke-width="0.3"/>
<circle cx="376.03" cy="701.3" r="3.7" fill="#ebf1f5" fill-opacity="0.8" stroke="#606060" stroke-opacity="0.8" stroke-width="0.45"/>
<circle cx="390" cy="701.3" r="1.0" fill="#dd8b74" stroke="#8a8a8a" stroke-width="0.3"/>
<circle cx="403.97" cy="701.3" r="1.0" fill="#c9d4dc" stroke="#8a8a8a" stroke-width="0.3"/>
<circle cx="417.94" cy="701.3" r="1.0" fill="#dd8b74" stroke="#8a8a8a" stroke-width="0.3"/>
<circle cx="431.91" cy="701.3" r="5.1" fill="#4595c4" fill-opacity="0.8" stroke="#606060" stroke-opacity="0.8" stroke-width="0.45"/>
<circle cx="445.88" cy="701.3" r="3.3" fill="#4595c4" fill-opacity="0.8" stroke="#606060" stroke-opacity="0.8" stroke-width="0.45"/>
<circle cx="459.85" cy="701.3" r="1.0" fill="#c9d4dc" stroke="#8a8a8a" stroke-width="0.3"/>
<circle cx="473.82" cy="701.3" r="1.6" fill="#f1f4f6" fill-opacity="0.8" stroke="#606060" stroke-opacity="0.8" stroke-width="0.45"/>
<circle cx="487.79" cy="701.3" r="4.1" fill="#f1f4f6" fill-opacity="0.8" stroke="#606060" stroke-opacity="0.8" stroke-width="0.45"/>
<circle cx="501.76" cy="701.3" r="3.9" fill="#0b3c72" fill-opacity="0.8" stroke="#606060" stroke-opacity="0.8" stroke-width="0.45"/>
<circle cx="515.73" cy="701.3" r="1.0" fill="#c9d4dc" stroke="#8a8a8a" stroke-width="0.3"/>
<circle cx="529.7" cy="701.3" r="1.0" fill="#dd8b74" stroke="#8a8a8a" stroke-width="0.3"/>
<circle cx="543.67" cy="701.3" r="3.7" fill="#faebe2" fill-opacity="0.8" stroke="#606060" stroke-opacity="0.8" stroke-width="0.45"/>
<circle cx="557.64" cy="701.3" r="2" fill="#f1f4f6" fill-opacity="0.8" stroke="#606060" stroke-opacity="0.8" stroke-width="0.45"/>
<circle cx="571.61" cy="701.3" r="2" fill="#deebf2" fill-opacity="0.8" stroke="#606060" stroke-opacity="0.8" stroke-width="0.45"/>
<circle cx="585.58" cy="701.3" r="1.0" fill="#c9d4dc" stroke="#8a8a8a" stroke-width="0.3"/>
<circle cx="599.55" cy="701.3" r="1.0" fill="#dd8b74" stroke="#8a8a8a" stroke-width="0.3"/>
<circle cx="613.52" cy="701.3" r="1.0" fill="#c9d4dc" stroke="#8a8a8a" stroke-width="0.3"/>
<circle cx="627.49" cy="701.3" r="1.0" fill="#c9d4dc" stroke="#8a8a8a" stroke-width="0.3"/>
<circle cx="641.46" cy="701.3" r="1.0" fill="#c9d4dc" stroke="#8a8a8a" stroke-width="0.3"/>
<circle cx="110.6" cy="711" r="1.0" fill="#c9d4dc" stroke="#8a8a8a" stroke-width="0.3"/>
<circle cx="124.57" cy="711" r="1.0" fill="#dd8b74" stroke="#8a8a8a" stroke-width="0.3"/>
<circle cx="138.54" cy="711" r="1.0" fill="#dd8b74" stroke="#8a8a8a" stroke-width="0.3"/>
<circle cx="152.51" cy="711" r="1.0" fill="#c9d4dc" stroke="#8a8a8a" stroke-width="0.3"/>
<circle cx="166.48" cy="711" r="2.7" fill="#d6e8f1" fill-opacity="0.8" stroke="#606060" stroke-opacity="0.8" stroke-width="0.45"/>
<circle cx="180.45" cy="711" r="2.5" fill="#deebf2" fill-opacity="0.8" stroke="#606060" stroke-opacity="0.8" stroke-width="0.45"/>
<circle cx="194.42" cy="711" r="1.0" fill="#c9d4dc" stroke="#8a8a8a" stroke-width="0.3"/>
<circle cx="208.39" cy="711" r="1.0" fill="#c9d4dc" stroke="#8a8a8a" stroke-width="0.3"/>
<circle cx="222.36" cy="711" r="1.0" fill="#c9d4dc" stroke="#8a8a8a" stroke-width="0.3"/>
<circle cx="236.33" cy="711" r="3.1" fill="#b6d7e8" fill-opacity="0.8" stroke="#606060" stroke-opacity="0.8" stroke-width="0.45"/>
<circle cx="250.3" cy="711" r="4.1" fill="#70b0d2" fill-opacity="0.8" stroke="#606060" stroke-opacity="0.8" stroke-width="0.45"/>
<circle cx="264.27" cy="711" r="1.0" fill="#dd8b74" stroke="#8a8a8a" stroke-width="0.3"/>
<circle cx="278.24" cy="711" r="1.0" fill="#c9d4dc" stroke="#8a8a8a" stroke-width="0.3"/>
<circle cx="292.21" cy="711" r="1.6" fill="#f1f4f6" fill-opacity="0.8" stroke="#606060" stroke-opacity="0.8" stroke-width="0.45"/>
<circle cx="306.18" cy="711" r="1.0" fill="#dd8b74" stroke="#8a8a8a" stroke-width="0.3"/>
<circle cx="320.15" cy="711" r="2" fill="#deebf2" fill-opacity="0.8" stroke="#606060" stroke-opacity="0.8" stroke-width="0.45"/>
<circle cx="334.12" cy="711" r="3.3" fill="#cfe4ef" fill-opacity="0.8" stroke="#606060" stroke-opacity="0.8" stroke-width="0.45"/>
<circle cx="348.09" cy="711" r="2" fill="#deebf2" fill-opacity="0.8" stroke="#606060" stroke-opacity="0.8" stroke-width="0.45"/>
<circle cx="362.06" cy="711" r="1.0" fill="#c9d4dc" stroke="#8a8a8a" stroke-width="0.3"/>
<circle cx="376.03" cy="711" r="2.5" fill="#deebf2" fill-opacity="0.8" stroke="#606060" stroke-opacity="0.8" stroke-width="0.45"/>
<circle cx="390" cy="711" r="2.2" fill="#deebf2" fill-opacity="0.8" stroke="#606060" stroke-opacity="0.8" stroke-width="0.45"/>
<circle cx="403.97" cy="711" r="1.0" fill="#c9d4dc" stroke="#8a8a8a" stroke-width="0.3"/>
<circle cx="417.94" cy="711" r="1.0" fill="#dd8b74" stroke="#8a8a8a" stroke-width="0.3"/>
<circle cx="431.91" cy="711" r="2.5" fill="#deebf2" fill-opacity="0.8" stroke="#606060" stroke-opacity="0.8" stroke-width="0.45"/>
<circle cx="445.88" cy="711" r="1.0" fill="#c9d4dc" stroke="#8a8a8a" stroke-width="0.3"/>
<circle cx="459.85" cy="711" r="3.1" fill="#90c4dd" fill-opacity="0.8" stroke="#606060" stroke-opacity="0.8" stroke-width="0.45"/>
<circle cx="473.82" cy="711" r="1.4" fill="#f1f4f6" fill-opacity="0.8" stroke="#606060" stroke-opacity="0.8" stroke-width="0.45"/>
<circle cx="487.79" cy="711" r="3.1" fill="#cfe4ef" fill-opacity="0.8" stroke="#606060" stroke-opacity="0.8" stroke-width="0.45"/>
<circle cx="501.76" cy="711" r="1.0" fill="#c9d4dc" stroke="#8a8a8a" stroke-width="0.3"/>
<circle cx="515.73" cy="711" r="1.0" fill="#c9d4dc" stroke="#8a8a8a" stroke-width="0.3"/>
<circle cx="529.7" cy="711" r="1.0" fill="#c9d4dc" stroke="#8a8a8a" stroke-width="0.3"/>
<circle cx="543.67" cy="711" r="1.8" fill="#f1f4f6" fill-opacity="0.8" stroke="#606060" stroke-opacity="0.8" stroke-width="0.45"/>
<circle cx="557.64" cy="711" r="2.5" fill="#cae1ee" fill-opacity="0.8" stroke="#606060" stroke-opacity="0.8" stroke-width="0.45"/>
<circle cx="571.61" cy="711" r="1.6" fill="#f1f4f6" fill-opacity="0.8" stroke="#606060" stroke-opacity="0.8" stroke-width="0.45"/>
<circle cx="585.58" cy="711" r="2.9" fill="#acd2e6" fill-opacity="0.8" stroke="#606060" stroke-opacity="0.8" stroke-width="0.45"/>
<circle cx="599.55" cy="711" r="1.0" fill="#c9d4dc" stroke="#8a8a8a" stroke-width="0.3"/>
<circle cx="613.52" cy="711" r="2" fill="#deebf2" fill-opacity="0.8" stroke="#606060" stroke-opacity="0.8" stroke-width="0.45"/>
<circle cx="627.49" cy="711" r="1.0" fill="#c9d4dc" stroke="#8a8a8a" stroke-width="0.3"/>
<circle cx="641.46" cy="711" r="1.8" fill="#f1f4f6" fill-opacity="0.8" stroke="#606060" stroke-opacity="0.8" stroke-width="0.45"/>
<circle cx="110.6" cy="720.7" r="1.0" fill="#dd8b74" stroke="#8a8a8a" stroke-width="0.3"/>
<circle cx="124.57" cy="720.7" r="3.3" fill="#2870b1" fill-opacity="0.8" stroke="#606060" stroke-opacity="0.8" stroke-width="0.45"/>
<circle cx="138.54" cy="720.7" r="1.0" fill="#c9d4dc" stroke="#8a8a8a" stroke-width="0.3"/>
<circle cx="152.51" cy="720.7" r="2.2" fill="#90c4dd" fill-opacity="0.8" stroke="#606060" stroke-opacity="0.8" stroke-width="0.45"/>
<circle cx="166.48" cy="720.7" r="1.0" fill="#c9d4dc" stroke="#8a8a8a" stroke-width="0.3"/>
<circle cx="180.45" cy="720.7" r="2" fill="#7cb7d6" fill-opacity="0.8" stroke="#606060" stroke-opacity="0.8" stroke-width="0.45"/>
<circle cx="194.42" cy="720.7" r="1.0" fill="#c9d4dc" stroke="#8a8a8a" stroke-width="0.3"/>
<circle cx="208.39" cy="720.7" r="1.0" fill="#c9d4dc" stroke="#8a8a8a" stroke-width="0.3"/>
<circle cx="222.36" cy="720.7" r="1.0" fill="#dd8b74" stroke="#8a8a8a" stroke-width="0.3"/>
<circle cx="236.33" cy="720.7" r="1.0" fill="#c9d4dc" stroke="#8a8a8a" stroke-width="0.3"/>
<circle cx="250.3" cy="720.7" r="3.3" fill="#3682ba" fill-opacity="0.8" stroke="#606060" stroke-opacity="0.8" stroke-width="0.45"/>
<circle cx="264.27" cy="720.7" r="3.3" fill="#3682ba" fill-opacity="0.8" stroke="#606060" stroke-opacity="0.8" stroke-width="0.45"/>
<circle cx="278.24" cy="720.7" r="1.0" fill="#c9d4dc" stroke="#8a8a8a" stroke-width="0.3"/>
<circle cx="292.21" cy="720.7" r="2" fill="#90c4dd" fill-opacity="0.8" stroke="#606060" stroke-opacity="0.8" stroke-width="0.45"/>
<circle cx="306.18" cy="720.7" r="3.1" fill="#3682ba" fill-opacity="0.8" stroke="#606060" stroke-opacity="0.8" stroke-width="0.45"/>
<circle cx="320.15" cy="720.7" r="1.0" fill="#c9d4dc" stroke="#8a8a8a" stroke-width="0.3"/>
<circle cx="334.12" cy="720.7" r="1.0" fill="#dd8b74" stroke="#8a8a8a" stroke-width="0.3"/>
<circle cx="348.09" cy="720.7" r="2" fill="#90c4dd" fill-opacity="0.8" stroke="#606060" stroke-opacity="0.8" stroke-width="0.45"/>
<circle cx="362.06" cy="720.7" r="1.0" fill="#dd8b74" stroke="#8a8a8a" stroke-width="0.3"/>
<circle cx="376.03" cy="720.7" r="2" fill="#90c4dd" fill-opacity="0.8" stroke="#606060" stroke-opacity="0.8" stroke-width="0.45"/>
<circle cx="390" cy="720.7" r="2" fill="#95c7df" fill-opacity="0.8" stroke="#606060" stroke-opacity="0.8" stroke-width="0.45"/>
<circle cx="403.97" cy="720.7" r="3.1" fill="#3885bc" fill-opacity="0.8" stroke="#606060" stroke-opacity="0.8" stroke-width="0.45"/>
<circle cx="417.94" cy="720.7" r="1.0" fill="#c9d4dc" stroke="#8a8a8a" stroke-width="0.3"/>
<circle cx="431.91" cy="720.7" r="3.7" fill="#0b3c72" fill-opacity="0.8" stroke="#606060" stroke-opacity="0.8" stroke-width="0.45"/>
<circle cx="445.88" cy="720.7" r="1.0" fill="#c9d4dc" stroke="#8a8a8a" stroke-width="0.3"/>
<circle cx="459.85" cy="720.7" r="1.0" fill="#a3263f" stroke="#8a8a8a" stroke-width="0.3"/>
<circle cx="473.82" cy="720.7" r="2" fill="#90c4dd" fill-opacity="0.8" stroke="#606060" stroke-opacity="0.8" stroke-width="0.45"/>
<circle cx="487.79" cy="720.7" r="1.0" fill="#dd8b74" stroke="#8a8a8a" stroke-width="0.3"/>
<circle cx="501.76" cy="720.7" r="1.0" fill="#c9d4dc" stroke="#8a8a8a" stroke-width="0.3"/>
<circle cx="515.73" cy="720.7" r="1.0" fill="#dd8b74" stroke="#8a8a8a" stroke-width="0.3"/>
<circle cx="529.7" cy="720.7" r="1.0" fill="#dd8b74" stroke="#8a8a8a" stroke-width="0.3"/>
<circle cx="543.67" cy="720.7" r="1.0" fill="#c9d4dc" stroke="#8a8a8a" stroke-width="0.3"/>
<circle cx="557.64" cy="720.7" r="2" fill="#90c4dd" fill-opacity="0.8" stroke="#606060" stroke-opacity="0.8" stroke-width="0.45"/>
<circle cx="571.61" cy="720.7" r="3.1" fill="#3885bc" fill-opacity="0.8" stroke="#606060" stroke-opacity="0.8" stroke-width="0.45"/>
<circle cx="585.58" cy="720.7" r="1.0" fill="#c9d4dc" stroke="#8a8a8a" stroke-width="0.3"/>
<circle cx="599.55" cy="720.7" r="1.0" fill="#c9d4dc" stroke="#8a8a8a" stroke-width="0.3"/>
<circle cx="613.52" cy="720.7" r="3.1" fill="#3885bc" fill-opacity="0.8" stroke="#606060" stroke-opacity="0.8" stroke-width="0.45"/>
<circle cx="627.49" cy="720.7" r="2" fill="#90c4dd" fill-opacity="0.8" stroke="#606060" stroke-opacity="0.8" stroke-width="0.45"/>
<circle cx="641.46" cy="720.7" r="1.0" fill="#a3263f" stroke="#8a8a8a" stroke-width="0.3"/>
<circle cx="110.6" cy="730.4" r="1.0" fill="#c9d4dc" stroke="#8a8a8a" stroke-width="0.3"/>
<circle cx="124.57" cy="730.4" r="1.0" fill="#c9d4dc" stroke="#8a8a8a" stroke-width="0.3"/>
<circle cx="138.54" cy="730.4" r="2.7" fill="#a0cce2" fill-opacity="0.8" stroke="#606060" stroke-opacity="0.8" stroke-width="0.45"/>
<circle cx="152.51" cy="730.4" r="1.0" fill="#c9d4dc" stroke="#8a8a8a" stroke-width="0.3"/>
<circle cx="166.48" cy="730.4" r="1.0" fill="#dd8b74" stroke="#8a8a8a" stroke-width="0.3"/>
<circle cx="180.45" cy="730.4" r="1.8" fill="#deebf2" fill-opacity="0.8" stroke="#606060" stroke-opacity="0.8" stroke-width="0.45"/>
<circle cx="194.42" cy="730.4" r="2.7" fill="#9ac9e0" fill-opacity="0.8" stroke="#606060" stroke-opacity="0.8" stroke-width="0.45"/>
<circle cx="208.39" cy="730.4" r="1.0" fill="#c9d4dc" stroke="#8a8a8a" stroke-width="0.3"/>
<circle cx="222.36" cy="730.4" r="1.0" fill="#c9d4dc" stroke="#8a8a8a" stroke-width="0.3"/>
<circle cx="236.33" cy="730.4" r="1.0" fill="#dd8b74" stroke="#8a8a8a" stroke-width="0.3"/>
<circle cx="250.3" cy="730.4" r="1.0" fill="#c9d4dc" stroke="#8a8a8a" stroke-width="0.3"/>
<circle cx="264.27" cy="730.4" r="3.9" fill="#3682ba" fill-opacity="0.8" stroke="#606060" stroke-opacity="0.8" stroke-width="0.45"/>
<circle cx="278.24" cy="730.4" r="3.9" fill="#3581ba" fill-opacity="0.8" stroke="#606060" stroke-opacity="0.8" stroke-width="0.45"/>
<circle cx="292.21" cy="730.4" r="3.9" fill="#3581ba" fill-opacity="0.8" stroke="#606060" stroke-opacity="0.8" stroke-width="0.45"/>
<circle cx="306.18" cy="730.4" r="3.3" fill="#70b0d2" fill-opacity="0.8" stroke="#606060" stroke-opacity="0.8" stroke-width="0.45"/>
<circle cx="320.15" cy="730.4" r="1.0" fill="#c9d4dc" stroke="#8a8a8a" stroke-width="0.3"/>
<circle cx="334.12" cy="730.4" r="1.0" fill="#dd8b74" stroke="#8a8a8a" stroke-width="0.3"/>
<circle cx="348.09" cy="730.4" r="1.8" fill="#f1f4f6" fill-opacity="0.8" stroke="#606060" stroke-opacity="0.8" stroke-width="0.45"/>
<circle cx="362.06" cy="730.4" r="1.8" fill="#f1f4f6" fill-opacity="0.8" stroke="#606060" stroke-opacity="0.8" stroke-width="0.45"/>
<circle cx="376.03" cy="730.4" r="4.1" fill="#175392" fill-opacity="0.8" stroke="#606060" stroke-opacity="0.8" stroke-width="0.45"/>
<circle cx="390" cy="730.4" r="1.0" fill="#c9d4dc" stroke="#8a8a8a" stroke-width="0.3"/>
<circle cx="403.97" cy="730.4" r="1.0" fill="#a3263f" stroke="#8a8a8a" stroke-width="0.3"/>
<circle cx="417.94" cy="730.4" r="2" fill="#deebf2" fill-opacity="0.8" stroke="#606060" stroke-opacity="0.8" stroke-width="0.45"/>
<circle cx="431.91" cy="730.4" r="1.0" fill="#c9d4dc" stroke="#8a8a8a" stroke-width="0.3"/>
<circle cx="445.88" cy="730.4" r="3.1" fill="#75b2d4" fill-opacity="0.8" stroke="#606060" stroke-opacity="0.8" stroke-width="0.45"/>
<circle cx="459.85" cy="730.4" r="1.0" fill="#c9d4dc" stroke="#8a8a8a" stroke-width="0.3"/>
<circle cx="473.82" cy="730.4" r="1.0" fill="#c9d4dc" stroke="#8a8a8a" stroke-width="0.3"/>
<circle cx="487.79" cy="730.4" r="1.0" fill="#c9d4dc" stroke="#8a8a8a" stroke-width="0.3"/>
<circle cx="501.76" cy="730.4" r="1.0" fill="#dd8b74" stroke="#8a8a8a" stroke-width="0.3"/>
<circle cx="515.73" cy="730.4" r="1.0" fill="#dd8b74" stroke="#8a8a8a" stroke-width="0.3"/>
<circle cx="529.7" cy="730.4" r="1.0" fill="#c9d4dc" stroke="#8a8a8a" stroke-width="0.3"/>
<circle cx="543.67" cy="730.4" r="1.0" fill="#c9d4dc" stroke="#8a8a8a" stroke-width="0.3"/>
<circle cx="557.64" cy="730.4" r="1.0" fill="#c9d4dc" stroke="#8a8a8a" stroke-width="0.3"/>
<circle cx="571.61" cy="730.4" r="1.0" fill="#dd8b74" stroke="#8a8a8a" stroke-width="0.3"/>
<circle cx="585.58" cy="730.4" r="2.7" fill="#95c7df" fill-opacity="0.8" stroke="#606060" stroke-opacity="0.8" stroke-width="0.45"/>
<circle cx="599.55" cy="730.4" r="1.0" fill="#dd8b74" stroke="#8a8a8a" stroke-width="0.3"/>
<circle cx="613.52" cy="730.4" r="1.0" fill="#c9d4dc" stroke="#8a8a8a" stroke-width="0.3"/>
<circle cx="627.49" cy="730.4" r="2.7" fill="#95c7df" fill-opacity="0.8" stroke="#606060" stroke-opacity="0.8" stroke-width="0.45"/>
<circle cx="641.46" cy="730.4" r="1.8" fill="#deebf2" fill-opacity="0.8" stroke="#606060" stroke-opacity="0.8" stroke-width="0.45"/>
<line x1="102.4" y1="536.4" x2="105.6" y2="536.4" stroke="#3a3a3a" stroke-width="0.7" />
<text x="101.1" y="538.8" font-size="6.85" text-anchor="end" fill="#111111" stroke="#111111" stroke-width="0.1" >bmi</text>
<line x1="102.4" y1="546.1" x2="105.6" y2="546.1" stroke="#3a3a3a" stroke-width="0.7" />
<text x="101.1" y="548.5" font-size="6.85" text-anchor="end" fill="#111111" stroke="#111111" stroke-width="0.1" >age</text>
<line x1="102.4" y1="555.8" x2="105.6" y2="555.8" stroke="#3a3a3a" stroke-width="0.7" />
<text x="101.1" y="558.2" font-size="6.85" text-anchor="end" fill="#111111" stroke="#111111" stroke-width="0.1" >pulse</text>
<line x1="102.4" y1="565.5" x2="105.6" y2="565.5" stroke="#3a3a3a" stroke-width="0.7" />
<text x="101.1" y="567.9" font-size="6.85" text-anchor="end" fill="#111111" stroke="#111111" stroke-width="0.1" >systolic</text>
<line x1="102.4" y1="575.2" x2="105.6" y2="575.2" stroke="#3a3a3a" stroke-width="0.7" />
<text x="101.1" y="577.6" font-size="6.85" text-anchor="end" fill="#111111" stroke="#111111" stroke-width="0.1" >prot__complement</text>
<line x1="102.4" y1="584.9" x2="105.6" y2="584.9" stroke="#3a3a3a" stroke-width="0.7" />
<text x="101.1" y="587.3" font-size="6.85" text-anchor="end" fill="#111111" stroke="#111111" stroke-width="0.1" >prot__blood_coagulation</text>
<line x1="102.4" y1="594.6" x2="105.6" y2="594.6" stroke="#3a3a3a" stroke-width="0.7" />
<text x="101.1" y="597" font-size="6.85" text-anchor="end" fill="#111111" stroke="#111111" stroke-width="0.1" >prot__ldl</text>
<line x1="102.4" y1="604.3" x2="105.6" y2="604.3" stroke="#3a3a3a" stroke-width="0.7" />
<text x="101.1" y="606.7" font-size="6.85" text-anchor="end" fill="#111111" stroke="#111111" stroke-width="0.1" >triglycerides</text>
<line x1="102.4" y1="614" x2="105.6" y2="614" stroke="#3a3a3a" stroke-width="0.7" />
<text x="101.1" y="616.4" font-size="6.85" text-anchor="end" fill="#111111" stroke="#111111" stroke-width="0.1" >basophils absolute</text>
<line x1="102.4" y1="623.7" x2="105.6" y2="623.7" stroke="#3a3a3a" stroke-width="0.7" />
<text x="101.1" y="626.1" font-size="6.85" text-anchor="end" fill="#111111" stroke="#111111" stroke-width="0.1" >platelet count</text>
<line x1="102.4" y1="633.4" x2="105.6" y2="633.4" stroke="#3a3a3a" stroke-width="0.7" />
<text x="101.1" y="635.8" font-size="6.85" text-anchor="end" fill="#111111" stroke="#111111" stroke-width="0.1" >ATRN</text>
<line x1="102.4" y1="643.1" x2="105.6" y2="643.1" stroke="#3a3a3a" stroke-width="0.7" />
<text x="101.1" y="645.5" font-size="6.85" text-anchor="end" fill="#111111" stroke="#111111" stroke-width="0.1" >PIGR</text>
<line x1="102.4" y1="652.8" x2="105.6" y2="652.8" stroke="#3a3a3a" stroke-width="0.7" />
<text x="101.1" y="655.2" font-size="6.85" text-anchor="end" fill="#111111" stroke="#111111" stroke-width="0.1" >mcv</text>
<line x1="102.4" y1="662.5" x2="105.6" y2="662.5" stroke="#3a3a3a" stroke-width="0.7" />
<text x="101.1" y="664.9" font-size="6.85" text-anchor="end" fill="#111111" stroke="#111111" stroke-width="0.1" >prot__hdl</text>
<line x1="102.4" y1="672.2" x2="105.6" y2="672.2" stroke="#3a3a3a" stroke-width="0.7" />
<text x="101.1" y="674.6" font-size="6.85" text-anchor="end" fill="#111111" stroke="#111111" stroke-width="0.1" >hdl chol direct</text>
<line x1="102.4" y1="681.9" x2="105.6" y2="681.9" stroke="#3a3a3a" stroke-width="0.7" />
<text x="101.1" y="684.3" font-size="6.85" text-anchor="end" fill="#111111" stroke="#111111" stroke-width="0.1" >cholesterol total</text>
<line x1="102.4" y1="691.6" x2="105.6" y2="691.6" stroke="#3a3a3a" stroke-width="0.7" />
<text x="101.1" y="694" font-size="6.85" text-anchor="end" fill="#111111" stroke="#111111" stroke-width="0.1" >SHBG</text>
<line x1="102.4" y1="701.3" x2="105.6" y2="701.3" stroke="#3a3a3a" stroke-width="0.7" />
<text x="101.1" y="703.7" font-size="6.85" text-anchor="end" fill="#111111" stroke="#111111" stroke-width="0.1" >GSN</text>
<line x1="102.4" y1="711" x2="105.6" y2="711" stroke="#3a3a3a" stroke-width="0.7" />
<text x="101.1" y="713.4" font-size="6.85" text-anchor="end" fill="#111111" stroke="#111111" stroke-width="0.1" >ADIPOQ</text>
<line x1="102.4" y1="720.7" x2="105.6" y2="720.7" stroke="#3a3a3a" stroke-width="0.7" />
<text x="101.1" y="723.1" font-size="6.85" text-anchor="end" fill="#111111" stroke="#111111" stroke-width="0.1" >magnesium</text>
<line x1="102.4" y1="730.4" x2="105.6" y2="730.4" stroke="#3a3a3a" stroke-width="0.7" />
<text x="101.1" y="732.8" font-size="6.85" text-anchor="end" fill="#111111" stroke="#111111" stroke-width="0.1" >chloride</text>
<rect x="105.6" y="526.4" width="540.8" height="213.6" fill="none" stroke="#555" stroke-width="1"/>
<line x1="110.6" y1="740" x2="110.6" y2="741.8" stroke="#3a3a3a" stroke-width="0.6" />
<line x1="124.57" y1="740" x2="124.57" y2="741.8" stroke="#3a3a3a" stroke-width="0.6" />
<line x1="138.54" y1="740" x2="138.54" y2="741.8" stroke="#3a3a3a" stroke-width="0.6" />
<line x1="152.51" y1="740" x2="152.51" y2="741.8" stroke="#3a3a3a" stroke-width="0.6" />
<line x1="166.48" y1="740" x2="166.48" y2="741.8" stroke="#3a3a3a" stroke-width="0.6" />
<line x1="180.45" y1="740" x2="180.45" y2="741.8" stroke="#3a3a3a" stroke-width="0.6" />
<line x1="194.42" y1="740" x2="194.42" y2="741.8" stroke="#3a3a3a" stroke-width="0.6" />
<line x1="208.39" y1="740" x2="208.39" y2="741.8" stroke="#3a3a3a" stroke-width="0.6" />
<line x1="222.36" y1="740" x2="222.36" y2="741.8" stroke="#3a3a3a" stroke-width="0.6" />
<line x1="236.33" y1="740" x2="236.33" y2="741.8" stroke="#3a3a3a" stroke-width="0.6" />
<line x1="250.3" y1="740" x2="250.3" y2="741.8" stroke="#3a3a3a" stroke-width="0.6" />
<line x1="264.27" y1="740" x2="264.27" y2="741.8" stroke="#3a3a3a" stroke-width="0.6" />
<line x1="278.24" y1="740" x2="278.24" y2="741.8" stroke="#3a3a3a" stroke-width="0.6" />
<line x1="292.21" y1="740" x2="292.21" y2="741.8" stroke="#3a3a3a" stroke-width="0.6" />
<line x1="306.18" y1="740" x2="306.18" y2="741.8" stroke="#3a3a3a" stroke-width="0.6" />
<line x1="320.15" y1="740" x2="320.15" y2="741.8" stroke="#3a3a3a" stroke-width="0.6" />
<line x1="334.12" y1="740" x2="334.12" y2="741.8" stroke="#3a3a3a" stroke-width="0.6" />
<line x1="348.09" y1="740" x2="348.09" y2="741.8" stroke="#3a3a3a" stroke-width="0.6" />
<line x1="362.06" y1="740" x2="362.06" y2="741.8" stroke="#3a3a3a" stroke-width="0.6" />
<line x1="376.03" y1="740" x2="376.03" y2="741.8" stroke="#3a3a3a" stroke-width="0.6" />
<line x1="390" y1="740" x2="390" y2="741.8" stroke="#3a3a3a" stroke-width="0.6" />
<line x1="403.97" y1="740" x2="403.97" y2="741.8" stroke="#3a3a3a" stroke-width="0.6" />
<line x1="417.94" y1="740" x2="417.94" y2="741.8" stroke="#3a3a3a" stroke-width="0.6" />
<line x1="431.91" y1="740" x2="431.91" y2="741.8" stroke="#3a3a3a" stroke-width="0.6" />
<line x1="445.88" y1="740" x2="445.88" y2="741.8" stroke="#3a3a3a" stroke-width="0.6" />
<line x1="459.85" y1="740" x2="459.85" y2="741.8" stroke="#3a3a3a" stroke-width="0.6" />
<line x1="473.82" y1="740" x2="473.82" y2="741.8" stroke="#3a3a3a" stroke-width="0.6" />
<line x1="487.79" y1="740" x2="487.79" y2="741.8" stroke="#3a3a3a" stroke-width="0.6" />
<line x1="501.76" y1="740" x2="501.76" y2="741.8" stroke="#3a3a3a" stroke-width="0.6" />
<line x1="515.73" y1="740" x2="515.73" y2="741.8" stroke="#3a3a3a" stroke-width="0.6" />
<line x1="529.7" y1="740" x2="529.7" y2="741.8" stroke="#3a3a3a" stroke-width="0.6" />
<line x1="543.67" y1="740" x2="543.67" y2="741.8" stroke="#3a3a3a" stroke-width="0.6" />
<line x1="557.64" y1="740" x2="557.64" y2="741.8" stroke="#3a3a3a" stroke-width="0.6" />
<line x1="571.61" y1="740" x2="571.61" y2="741.8" stroke="#3a3a3a" stroke-width="0.6" />
<line x1="585.58" y1="740" x2="585.58" y2="741.8" stroke="#3a3a3a" stroke-width="0.6" />
<line x1="599.55" y1="740" x2="599.55" y2="741.8" stroke="#3a3a3a" stroke-width="0.6" />
<line x1="613.52" y1="740" x2="613.52" y2="741.8" stroke="#3a3a3a" stroke-width="0.6" />
<line x1="627.49" y1="740" x2="627.49" y2="741.8" stroke="#3a3a3a" stroke-width="0.6" />
<line x1="641.46" y1="740" x2="641.46" y2="741.8" stroke="#3a3a3a" stroke-width="0.6" />
<line x1="243.3" y1="471.6" x2="243.3" y2="524.6" stroke="#444" stroke-width="1.3" />
<line x1="243.3" y1="526.4" x2="243.3" y2="740" stroke="#444" stroke-width="1.3" />
<line x1="299.2" y1="471.6" x2="299.2" y2="524.6" stroke="#444" stroke-width="1.3" />
<line x1="299.2" y1="526.4" x2="299.2" y2="740" stroke="#444" stroke-width="1.3" />
<line x1="424.9" y1="471.6" x2="424.9" y2="524.6" stroke="#444" stroke-width="1.3" />
<line x1="424.9" y1="526.4" x2="424.9" y2="740" stroke="#444" stroke-width="1.3" />
<text x="173.3" y="464.4" font-size="7" text-anchor="middle" fill="#111111" stroke="#111111" stroke-width="0.1" >Predicted: Norm</text>
<text x="173.3" y="470.6" font-size="7" text-anchor="middle" fill="#111111" stroke="#111111" stroke-width="0.1" >Cluster: Norm-like</text>
<text x="271.3" y="464.4" font-size="7" text-anchor="middle" fill="#111111" stroke="#111111" stroke-width="0.1" >Predicted: DM</text>
<text x="271.3" y="470.6" font-size="7" text-anchor="middle" fill="#111111" stroke="#111111" stroke-width="0.1" >Cluster: Norm-like</text>
<text x="362" y="464.4" font-size="7" text-anchor="middle" fill="#111111" stroke="#111111" stroke-width="0.1" >Predicted: DM</text>
<text x="362" y="470.6" font-size="7" text-anchor="middle" fill="#111111" stroke="#111111" stroke-width="0.1" >Cluster: Intermediate</text>
<text x="535.6" y="464.4" font-size="7" text-anchor="middle" fill="#111111" stroke="#111111" stroke-width="0.1" >Predicted: DM</text>
<text x="535.6" y="470.6" font-size="7" text-anchor="middle" fill="#111111" stroke="#111111" stroke-width="0.1" >Cluster: DM-like</text>
<text x="376" y="751" font-size="7.1" text-anchor="middle" fill="#111111" stroke="#111111" stroke-width="0.1" >Participant</text>
<defs><linearGradient id="rdbu" x1="0" y1="1" x2="0" y2="0"><stop offset="0" stop-color="#053061"/><stop offset="0.1" stop-color="#2166ac"/><stop offset="0.2" stop-color="#4393c3"/><stop offset="0.3" stop-color="#92c5de"/><stop offset="0.4" stop-color="#d1e5f0"/><stop offset="0.5" stop-color="#f7f7f7"/><stop offset="0.6" stop-color="#fddbc7"/><stop offset="0.7" stop-color="#f4a582"/><stop offset="0.8" stop-color="#d6604d"/><stop offset="0.9" stop-color="#b2182b"/><stop offset="1" stop-color="#67001f"/></linearGradient></defs>
<rect x="653.3" y="471.8" width="13.6" height="268.2" fill="url(#rdbu)" fill-opacity="0.95" stroke="#555" stroke-width="0.6"/>
<line x1="666.9" y1="498.45" x2="668.9" y2="498.45" stroke="#3a3a3a" stroke-width="0.7" />
<text x="671" y="500.95" font-size="7" text-anchor="start" fill="#111111" stroke="#111111" stroke-width="0.1" >2</text>
<line x1="666.9" y1="552.25" x2="668.9" y2="552.25" stroke="#3a3a3a" stroke-width="0.7" />
<text x="671" y="554.75" font-size="7" text-anchor="start" fill="#111111" stroke="#111111" stroke-width="0.1" >1</text>
<line x1="666.9" y1="606.05" x2="668.9" y2="606.05" stroke="#3a3a3a" stroke-width="0.7" />
<text x="671" y="608.55" font-size="7" text-anchor="start" fill="#111111" stroke="#111111" stroke-width="0.1" >0</text>
<line x1="666.9" y1="659.85" x2="668.9" y2="659.85" stroke="#3a3a3a" stroke-width="0.7" />
<text x="671" y="662.35" font-size="7" text-anchor="start" fill="#111111" stroke="#111111" stroke-width="0.1" >−1</text>
<line x1="666.9" y1="713.65" x2="668.9" y2="713.65" stroke="#3a3a3a" stroke-width="0.7" />
<text x="671" y="716.15" font-size="7" text-anchor="start" fill="#111111" stroke="#111111" stroke-width="0.1" >−2</text>
</svg></body></html>
